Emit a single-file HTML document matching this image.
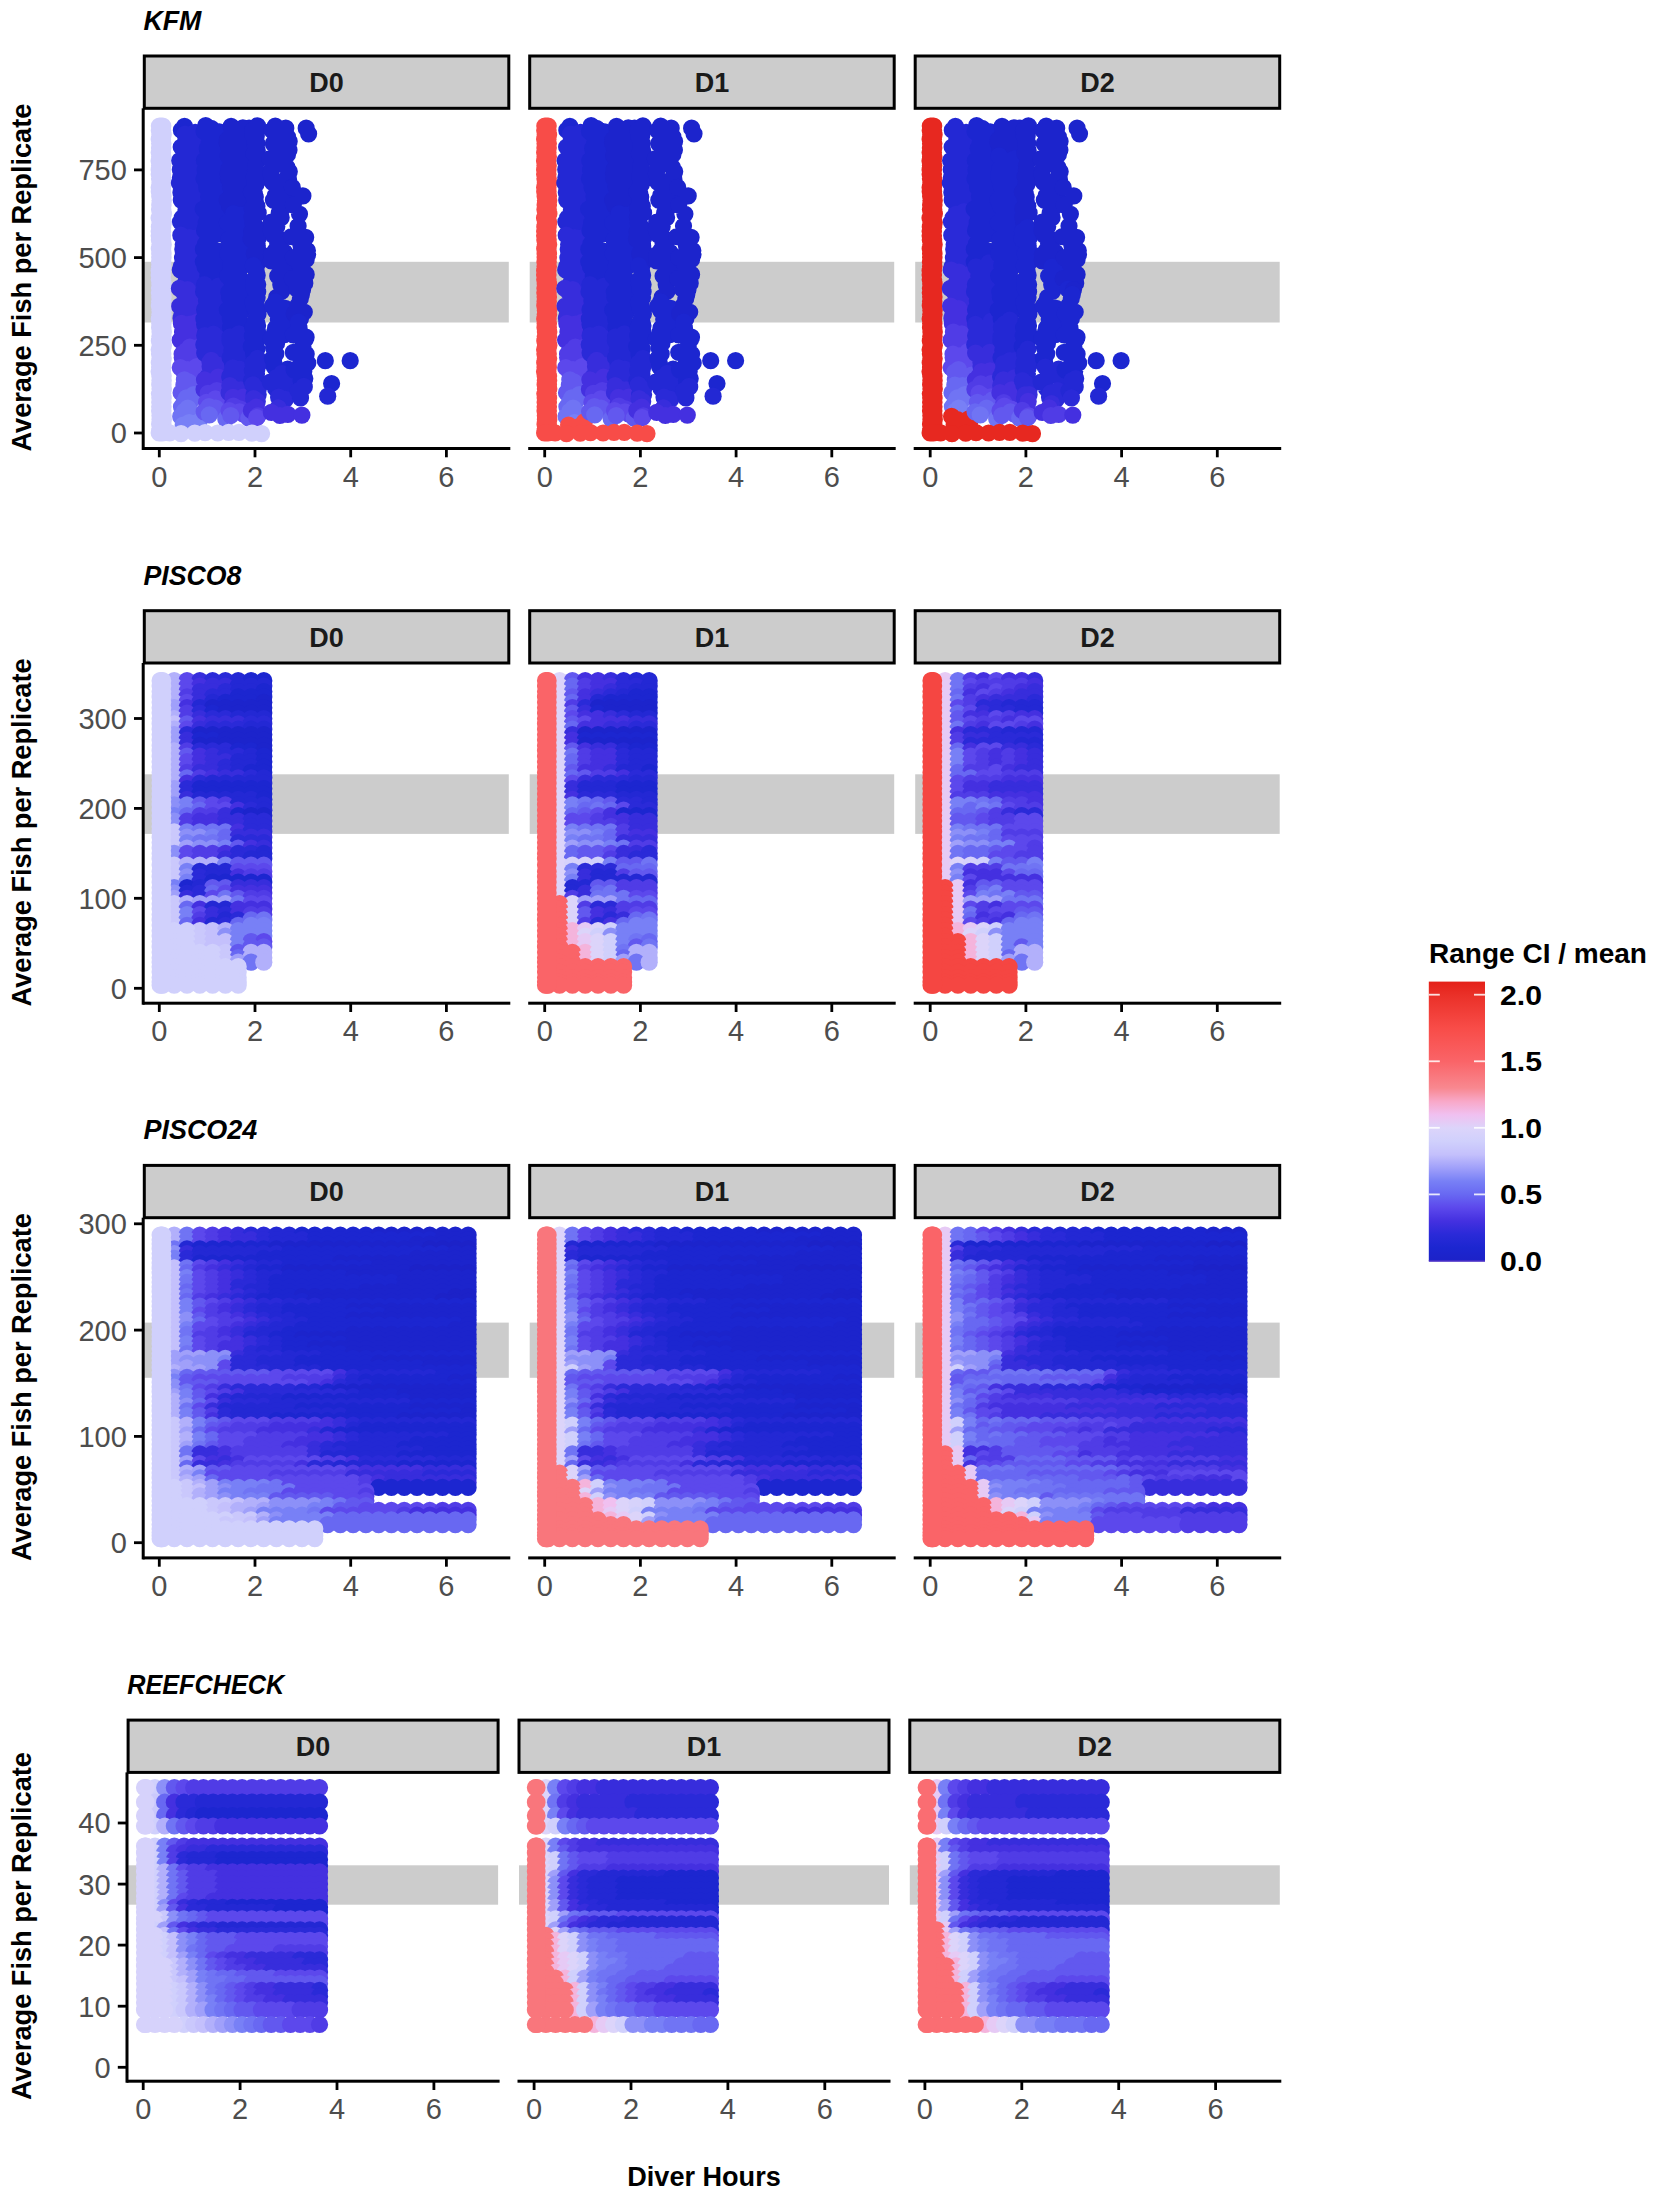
<!DOCTYPE html>
<html lang="en"><head><meta charset="utf-8"><title>Range CI / mean by Diver Hours</title>
<style>html,body{margin:0;padding:0;background:#fff}svg{display:block}text{font-family:"Liberation Sans", sans-serif}</style>
</head><body>
<svg width="1655" height="2198" viewBox="0 0 1655 2198">
<rect width="1655" height="2198" fill="#fff"/>
<rect x="144.3" y="261.8" width="364.5" height="60.7" fill="#cccccc"/>
<rect x="529.7" y="261.8" width="364.5" height="60.7" fill="#cccccc"/>
<rect x="915.2" y="261.8" width="364.5" height="60.7" fill="#cccccc"/>
<rect x="144.3" y="774.3" width="364.5" height="59.6" fill="#cccccc"/>
<rect x="529.7" y="774.3" width="364.5" height="59.6" fill="#cccccc"/>
<rect x="915.2" y="774.3" width="364.5" height="59.6" fill="#cccccc"/>
<rect x="144.3" y="1322.6" width="364.5" height="55.2" fill="#cccccc"/>
<rect x="529.7" y="1322.6" width="364.5" height="55.2" fill="#cccccc"/>
<rect x="915.2" y="1322.6" width="364.5" height="55.2" fill="#cccccc"/>
<rect x="128.1" y="1865.3" width="370" height="39.4" fill="#cccccc"/>
<rect x="519" y="1865.3" width="370" height="39.4" fill="#cccccc"/>
<rect x="909.8" y="1865.3" width="370" height="39.4" fill="#cccccc"/>
<g stroke-width="17.2" stroke-linecap="round" fill="none">
<path stroke="#d0d0fc" d="M159.4 126.1h3.4M159.3 130.4h3.4M159.8 134.8h3.4M159.2 139.2h3.4M159.6 143.6h3.4M159.5 148h3.4M159.2 152.4h3.4M159.6 156.7h3.4M159.1 161.1h3.4M159.5 165.5h3.4M159.2 169.9h3.4M159.2 174.3h3.4M159.5 178.7h3.4M159.9 183.1h3.4M159.2 187.4h3.4M159.3 191.8h3.4M159.7 196.2h3.4M160 200.6h3.4M159.7 205h3.4M159.5 209.4h3.4M160.1 213.8h3.4M159.1 218.1h3.4M160 222.5h3.4M159.4 226.9h3.4M159.2 231.3h3.4M159.2 235.7h3.4M159.4 240.1h3.4M159.9 244.4h3.4M159.3 248.8h3.4M159.7 253.2h3.4M159.7 257.6h3.4M159.5 262h3.4M159.6 266.4h3.4M159.2 270.8h3.4M159.2 275.1h3.4M159.3 279.5h3.4M159.8 283.9h3.4M159.5 288.3h3.4M159.4 292.7h3.4M159.7 297.1h3.4M159.6 301.4h3.4M159.4 305.8h3.4M159.9 310.2h3.4M159.8 314.6h3.4M159.3 319h3.4M159.7 323.4h3.4M159.6 327.8h3.4M160 332.1h3.4M159.8 336.5h3.4M159.4 340.9h3.4M160.1 345.3h3.4M159.2 349.7h3.4M159.5 354.1h3.4M159.9 358.5h3.4M159.3 362.8h3.4M159.6 367.2h3.4M159.1 371.6h3.4M159.8 376h3.4M159.9 380.4h3.4M159.7 384.8h3.4M160 389.1h3.4M159.4 393.5h3.4M159.8 397.9h3.4M159.7 402.3h3.4M159.7 406.7h3.4M159.6 411.1h3.4M159.9 415.5h3.4M160 419.8h3.4M159.6 424.2h3.4M159.8 428.6h3.4"/>
<path stroke="#1c26d0" d="M184.5 126.3h0M181.4 130.2h0M187.4 132.1h0"/>
<path stroke="#2328d4" d="M195.2 132.4h0M185 134.1h0M190.7 137.3h0M197.8 137.7h0M185.9 139.8h0M197.5 141.7h0M185.9 144.5h0M188.8 144.8h0M198.1 146.6h0M181.2 147h0M190.5 149.9h0M184.4 152.4h0M193.3 153.2h0M185.1 157.5h0M190.8 158.3h0M199.3 158.7h0M179.7 160.5h0M190.3 162h0M195.4 163.1h0M182 164.6h0M180.3 169.4h0M190.5 170.9h0M186.7 174.2h0M188 175.2h0M196.3 177.7h0M180.4 177.7h0M195.4 181.6h0M179.4 183.1h0M184.4 187h0M188.7 189.7h0M200.5 189.9h0M180.9 192.4h0M185.3 196.8h0M189.3 198h0M194.5 198.1h0M181.3 200.1h0M195.8 202.2h0M186.6 205.9h0M189.2 206.2h0M195.9 208h0M186 210h0M193.1 211.7h0M199.5 213h0M185.1 214.3h0M188.8 216.1h0M200.6 217.5h0M182.2 217.9h0M180.5 221.8h0M195.4 224.9h0M200.8 226.3h0M184.2 226.6h0M188.4 227.7h0M184.1 231.3h0M201.2 234.7h0"/>
<path stroke="#2a2ad8" d="M180.8 235.2h0M189.4 237.6h0M197.6 237.7h0M186.1 239.8h0M192.5 242.6h0M201.6 242.9h0M183.2 244.5h0M191.2 245.6h0M200.6 246.6h0M182.8 249.3h0M190.2 250.6h0M200.5 250.8h0M183.4 252.7h0M194.2 255h0M200.3 256.8h0M182.5 257.8h0M191.8 259.7h0M198.5 260.4h0M186.3 262.4h0M181.2 266.5h0M180.3 270h0M187.9 272h0M199.6 274.1h0M186 274.4h0M193.2 276.2h0M186.5 279h0M198.1 283.3h0M185.5 283.2h0M191.9 285.3h0M196.8 287.2h0"/>
<path stroke="#372ddc" d="M179.4 288.4h0M187.4 289.7h0M183.1 291.8h0M186.5 296.3h0M187.6 299.4h0M195.3 299.7h0M186.1 302.1h0M188.6 304h0M199.8 303.4h0M179.7 306.2h0M187.9 308.5h0M185.2 309.4h0M201.1 312.9h0M181.8 314.7h0M195.3 317.5h0M181 318.2h0M187.7 320.1h0"/>
<path stroke="#4430e0" d="M196.7 322.3h0M181.4 323.4h0M190.3 324.2h0M194.3 326.6h0M183.4 327.1h0M195.6 328.7h0M182.5 332.1h0M190.8 333.9h0M186.6 336.2h0M193.6 338.6h0M197 338.4h0M180.2 340.1h0M189.5 342h0M201 344.5h0M184.3 344.9h0"/>
<path stroke="#503ce6" d="M189.9 347h0M197.8 347.6h0M186.4 350.6h0M189.4 352.4h0M197.1 351.5h0M182.1 354h0M189 355.8h0M196.3 356.1h0M182.2 357.5h0M190 359.7h0M198.5 361.8h0M184.2 363.3h0"/>
<path stroke="#5c48ec" d="M196.8 366.6h0M180.3 367.7h0M187.6 369.6h0M183.9 372.1h0M188.5 373.4h0M200.9 375h0M185.4 376.2h0"/>
<path stroke="#6258ef" d="M184.4 379.8h0M188.4 381.9h0M200.9 383.3h0M183.9 385h0M191.6 385.5h0M184.8 389.2h0M193.2 390h0M181.1 392.7h0"/>
<path stroke="#6868f2" d="M193.8 394.7h0M186.5 397.9h0M191.5 400h0M183.9 402.6h0M188.6 403.6h0M181.5 406.8h0"/>
<path stroke="#7074f4" d="M187.8 408h0M184.4 411.4h0M191.9 412.8h0M195.2 414.7h0M180.7 416.4h0M197.9 418.9h0M186.5 419.7h0"/>
<path stroke="#7880f6" d="M189.1 422.5h0M198.9 421.9h0M183.2 425.1h0M194.6 426h0M184.5 428.1h0M194.4 430.4h0"/>
<path stroke="#1c26d0" d="M205.7 125.7h0M211.2 128.3h0M204.1 131.3h0M219.3 131.8h0M221.3 134.2h0M207.6 134.5h0M213.6 135.7h0M224.8 137.2h0M210.2 138.7h0M215.7 140.3h0M225.8 142.8h0M209.2 143.9h0M207.3 148.4h0M217.7 149.6h0M208 151.9h0M219.5 153.4h0M220.9 154.8h0M208.7 157.7h0M217.1 158.1h0M221.3 158.9h0M204.4 160.5h0M219.9 164.7h0M210.6 165.4h0M212.9 166.5h0M218.9 167.8h0M205.1 170h0M206.2 174.1h0M214.5 175.7h0M220.4 178h0M204.1 178.7h0M218.9 179.9h0M220.1 181.3h0M206.5 184h0M219 183.9h0M223.8 186.7h0M206.7 187.6h0M214.7 190h0M209.6 192.8h0M212.1 192.9h0M223.6 195.5h0M208.6 196.5h0M215.3 198.1h0M224.4 198.5h0M210 200.9h0M212.3 201.9h0M208.4 204.2h0M215.9 206.9h0M219.9 208h0M203.2 209h0M219.8 211.4h0M206.7 213.2h0M219.8 215.9h0M218.3 216.6h0M208.2 218h0M217.2 220.7h0M218.4 220.6h0M206.3 222.9h0M218.3 224.8h0M219.8 226.3h0M205.5 227.5h0M213.1 229.2h0M225.8 229.7h0M204.6 230.7h0M217.1 233.9h0M221.3 233.5h0M210.5 235h0M211.7 237.2h0M209.8 240.5h0M205.6 243.8h0M203.4 249.2h0M214.5 250.2h0M218.2 251.2h0M205.8 254.1h0M219.8 254.4h0M224.7 256.7h0M206.4 256.7h0M214.5 260.2h0M221.1 261.2h0M203.4 261.8h0M218.1 262.8h0M218.7 265.6h0M205.1 266.9h0M220.3 270.1h0M207.8 270.3h0M214 272.1h0M224.2 274.4h0M207.9 276h0M213.3 276.8h0M210.3 279.3h0M215 281.3h0"/>
<path stroke="#2328d4" d="M204.5 284.5h0M218.6 286.2h0M205.6 287.9h0M218.2 289.2h0M224.2 290.6h0M203.6 291.7h0M214.1 295.4h0M210.6 296.6h0M212 298.8h0M206.5 300.9h0M216.7 303.6h0M209.5 306.2h0M218.7 307.2h0M221.1 309.1h0M204.6 309.7h0M212.5 312.7h0M220.8 312.8h0M210.6 314.6h0M218.4 316.7h0M203.9 318.9h0M218.7 321.6h0M220.5 321h0M204.6 324.3h0M219.5 324.9h0M206.5 327.3h0M219.7 328.7h0M223.1 330h0M205.9 331.4h0"/>
<path stroke="#2a2ad8" d="M213.4 334.1h0M204.7 335.6h0M217.3 337.7h0M219.8 339.9h0M207.3 340h0M214.7 342.8h0M203.8 344.6h0M214.8 346.6h0M225.8 347.7h0M207.4 349.4h0M218.9 352.4h0M219.7 352.9h0M204.7 353.1h0M224.7 356.7h0M209.8 358.4h0"/>
<path stroke="#372ddc" d="M211.3 360.3h0M210 362h0M214.5 364.6h0M220.4 365.7h0M210.1 366.4h0M218.4 369.9h0M219.2 370.9h0M210.5 371.6h0M219.5 373.1h0M207.8 376.6h0"/>
<path stroke="#4430e0" d="M218.2 377.2h0M224.9 379.5h0M204.5 379.8h0M215.8 381.9h0M220.1 383.6h0M209.9 383.8h0M218 385.6h0M204 389.3h0"/>
<path stroke="#503ce6" d="M216.8 390.5h0M222.8 391.8h0M208.1 393.4h0M211.4 395.5h0M220 396.9h0M209 397.8h0"/>
<path stroke="#5c48ec" d="M215.4 398.9h0M221.6 399.9h0M206.5 402.3h0M216.9 403.2h0"/>
<path stroke="#6258ef" d="M209 406.7h0M215.7 408.2h0M204.2 411.8h0"/>
<path stroke="#6868f2" d="M209.3 414.8h0M225.8 419.1h0"/>
<path stroke="#1c24cc" d="M231.1 126.3h0M242.9 127.9h0M249.1 128.1h0M234.5 130.7h0M242.3 131.7h0M231.4 134.5h0M239.1 135.9h0M227.4 139.8h0M240.8 141.9h0M247.4 141.6h0M227.1 142.7h0M240.6 145.2h0M249.2 145.7h0M228.8 148.3h0M235.1 149.4h0M244.9 150.2h0M231.5 152.5h0M240.7 154.1h0M249.6 154.7h0M228.2 155.9h0M242.9 159.1h0M244.2 158.6h0M231.9 161.3h0M240.9 162.8h0M232.6 165h0M246.3 168.1h0M228.9 169h0M235.2 171.8h0M228.1 173.7h0M239.6 176.3h0M228.4 178.3h0M235.5 181.2h0M232.4 182.1h0M241.8 184.7h0M230.5 186.9h0M237.2 188.3h0M248.1 190.6h0M233.4 192.2h0M240.1 193.5h0M231 195.7h0M243.8 197.4h0M227.2 200.1h0M241.8 203.2h0M229.5 205.7h0M237.2 207.5h0M232.3 209.7h0"/>
<path stroke="#1c26d0" d="M248.8 212.6h0M233.5 213.6h0M240.2 215.1h0M247.1 215.7h0M233.9 217.4h0M236 220.7h0M243.2 220h0M227.4 222.9h0M241.3 224.7h0M246.8 225.1h0M233.2 227.5h0M249 230.5h0M234.2 230.5h0M236.1 232.1h0M233.2 235.9h0M240.8 237h0M242.9 239h0M228.6 239.7h0M235.3 241.3h0M247.8 242.6h0M229.5 245.4h0M242.7 246.4h0M245.4 247.1h0M232.9 248.5h0M239.9 250h0M227.8 253.9h0M235.1 254.4h0M234.4 256.6h0M239.5 259.9h0M246 260.1h0M233.3 261.5h0M243.8 265.2h0M230.8 265.6h0M235.8 268.7h0M233 271h0M238.7 272.3h0M227.7 275.9h0M236.9 276.4h0M230.8 279.3h0M245.8 282.4h0M232.7 284.4h0M238.2 285.3h0M248.8 287h0M232.6 287.6h0M242 290.2h0M245.8 291.9h0M228.9 292.1h0M241.4 295.1h0M243.3 295h0M229.5 297.1h0M238 298.2h0M232.5 300.7h0M245.1 305.2h0M233 306.3h0M236.8 307.9h0M243.7 308.4h0M227.3 310h0M241.3 312h0M230.5 313.9h0M238.7 316.8h0M230.3 319.1h0M238.9 320.2h0M233.7 323.9h0M242.7 325.5h0M230.5 327.4h0M236 329.4h0M232.4 332.4h0"/>
<path stroke="#2328d4" d="M238.9 333.8h0M230.1 336.9h0M247.3 339.9h0M230 340.9h0M246.4 343h0M232.9 346.2h0M236 347.2h0M247.8 348.1h0M231.9 350.3h0M238.8 352.3h0M247.5 352.3h0M232.8 353.3h0M242.5 356.4h0M230.1 357.5h0M238.9 360.6h0M244.2 360.7h0M232.6 363.7h0M237 365.2h0M243.8 364.9h0"/>
<path stroke="#2a2ad8" d="M232.9 367.8h0M239.3 369.1h0M249.8 369.7h0M231.9 372.2h0M239.3 373h0M243.1 375.1h0M229.7 376.7h0M238.5 377.3h0M243.6 377.8h0M232.5 379.9h0M237.8 382.1h0M247.2 383.5h0"/>
<path stroke="#372ddc" d="M229.8 385.6h0M248.7 388.4h0M233 388.4h0M240.8 389.9h0M249.7 392.3h0M229 392.7h0M237.2 395.8h0"/>
<path stroke="#4430e0" d="M243.3 397.1h0M233 397.3h0M232.9 402.6h0"/>
<path stroke="#503ce6" d="M233.4 406.1h0M239.9 408.9h0M249.1 409.6h0"/>
<path stroke="#5c48ec" d="M229.1 410.5h0M239.5 411.9h0M243.2 413.9h0"/>
<path stroke="#6258ef" d="M230.8 415.5h0M248.8 418.2h0"/>
<path stroke="#1c24cc" d="M257.5 125.8h0M256.4 128.3h0M252.6 130.3h0M256.5 132.8h0M253.2 135.5h0M256.3 136.1h0M254.8 140.2h0M256.9 143.3h0M255.3 145.5h0M255.8 148.5h0M257.3 150.5h0M255.1 151.5h0M254 153.5h0M257.9 157h0M256.9 161.9h0M255.6 165.8h0M255.5 170.3h0M257 171.6h0M256.7 173.5h0M254.2 176.6h0M257.9 179h0M257.7 181h0M255.2 182.6h0M255.9 184.4h0M254.2 187.7h0M251.4 192h0M254.5 194.2h0M255.3 197h0M254.1 197.7h0M255.4 201.5h0M254.6 204.8h0M256.9 206.2h0M252.1 208.4h0M257.1 210.4h0M258.2 212.9h0M252 217.2h0M252.8 223h0M254.2 224.8h0M256.4 227.6h0M251.6 231.5h0M254.5 236.5h0M258.3 237.9h0M251.1 239.1h0M257.1 243.6h0M257.3 245.5h0M257.5 248.8h0M255.7 250.7h0M254.3 253.6h0M257.6 254.7h0M255.8 257.9h0M255.7 259.9h0M258.1 262.6h0"/>
<path stroke="#1c26d0" d="M253.2 265.5h0M256.3 271.4h0M256.7 273.5h0M257.2 275.3h0M255.9 277.7h0M253.8 279.9h0M257.7 284.5h0M254 285.2h0M254.2 288.5h0M257.7 291.8h0M257.1 297.8h0M253.1 302.2h0M256.1 306.7h0M254.4 307.7h0M257 309.6h0M258 314.1h0M256.1 318.9h0M255.1 321.2h0M256.9 323.3h0M257.6 325.7h0M252.7 327.9h0M257.6 332.2h0M256.7 333.3h0M252.4 335.9h0M253.7 341h0M256.3 342h0M251.3 346.3h0M254.5 347.3h0M256.9 349h0M253.6 354.1h0M254.2 356.8h0"/>
<path stroke="#2328d4" d="M257.5 358.4h0M253 363.4h0M258.3 365.1h0M257.1 368.2h0M254.2 368.4h0M252.4 370.8h0M256.5 374.1h0M254.4 376.9h0M251.5 380.6h0M254.5 383.1h0"/>
<path stroke="#2a2ad8" d="M252.9 384.9h0M258.2 389.5h0M256 390.2h0M258.2 394.5h0M254.2 394.8h0"/>
<path stroke="#372ddc" d="M253.6 398.7h0M257.3 401.4h0"/>
<path stroke="#4430e0" d="M256.3 407h0M251.4 410.4h0"/>
<path stroke="#503ce6" d="M258 415.8h0"/>
<path stroke="#5c48ec" d="M256.7 417.7h0"/>
<path stroke="#1c24cc" d="M275.3 126.1h0M285.8 128.2h0M279.5 128.5h0M272.1 130.4h0M276.2 134.8h0M287.5 136.9h0M280.8 139.2h0M289.2 141.3h0M273.3 143.6h0M285.6 145.7h0M281.6 148h0M289 150.1h0M278.2 152.4h0M287.5 154.5h0M269.9 158.7h0M274.6 165h0M286.8 167.1h0M271.7 169.4h0M289.3 171.5h0M271 173.8h0M288.2 175.9h0M272.2 178.1h0M288.6 180.2h0M272.6 182.5h0M289.1 184.6h0M281.8 186.9h0M280.9 191.3h0M275.2 195.7h0M273.4 200.1h0M289.7 202.2h0M279.1 204.5h0M282 208.8h0M279.2 213.2h0M281.2 217.6h0M271.3 222h0M276.8 226.4h0M271.1 230.8h0M273.2 235.1h0M282 239.5h0M277.7 243.9h0M275.7 250.2h0M284.6 252.3h0M271.5 254.6h0M271.4 260.9h0M290.1 263h0M281.1 267.2h0M287.9 269.4h0M280.7 271.6h0M277.7 276h0M282.2 280.4h0M280.8 284.8h0M281.8 291.1h0M276.7 297.4h0"/>
<path stroke="#1c26d0" d="M275.4 301.8h0M272.4 306.2h0M285.3 308.3h0M275.4 310.6h0M290.9 312.7h0M280.4 315h0M278.3 319.3h0M288.7 321.4h0M280.4 323.7h0M284.6 325.8h0M275.6 328.1h0M274.4 332.5h0M284.3 334.6h0M271 338.8h0M276.6 343.2h0M273.5 347.6h0M275.8 353.9h0M272.5 358.3h0M273.9 362.7h0M274.3 367h0M287.7 369.2h0"/>
<path stroke="#2328d4" d="M281.9 373.4h0M290.6 375.5h0M276.3 377.7h0M290.8 379.9h0M270.2 382.1h0M275.6 388.4h0M286.6 390.6h0M279.8 392.8h0"/>
<path stroke="#2a2ad8" d="M278.6 397.2h0M285.3 399.3h0M280.6 403.5h0"/>
<path stroke="#372ddc" d="M278.1 407.9h0"/>
<path stroke="#4430e0" d="M271.3 412.3h0M287.8 414.4h0M279.9 415.5h0"/>
<path stroke="#1c24cc" d="M306.2 128.2h0M308.6 133.8h0M292.3 187.4h0M302.9 195.9h0M293.3 205h0M299.5 214.1h0M298.1 226h0M291.4 236.6h0M305.7 237.3h0M300.9 245.3h0M307.4 250.6h0M307.6 254.4h0M293.3 257.6h0M306.2 259.4h0M299.5 264.6h0M305.2 273.7h0M306.2 274.4h0M292.3 278.6h0M304.8 283.2h0M302.9 284.3h0M297.1 289.2h0M302.6 289.5h0M301.4 294.4h0M300.4 298.3h0M298.1 305h0M304.3 312h0M300.2 313.4h0M294.2 313.7h0M300.5 318.6h0"/>
<path stroke="#1c26d0" d="M298.4 322.1h0M299 327.8h0M299.4 330.9h0M293.3 334.8h0M306.1 337.2h0M305.2 339.3h0M302.9 346.7h0M299.7 350.4h0M293.3 352.3h0M306.2 354.1h0M302.8 356.7h0M300.9 362.8h0M307.8 363h0M294.2 369.9h0M303.8 371.3h0M304.8 378.6h0M301.1 380.6h0"/>
<path stroke="#2328d4" d="M303.8 386.3h0M304.3 386.9h0M298.1 390.9h0M300.5 397.9h0"/>
<path stroke="#4430e0" d="M301.9 415.1h0"/>
<path stroke="#1c26d0" d="M325.3 360.7h0M331.6 383.5h0"/>
<path stroke="#2328d4" d="M327.7 396.2h0"/>
<path stroke="#1c26d0" d="M350.2 360.7h0"/>
<path stroke="#d0d0fc" d="M159.2 433h3.4M169.7 432.9h0M181.1 433.7h0M194.8 433.2h0M205.1 432.7h0M217.7 433h0M228.6 432.4h0M238.9 432.3h0M251.8 433.1h0M261.6 433.6h0"/>
</g>
<g stroke-width="17.2" stroke-linecap="round" fill="none">
<path stroke="#f84c48" d="M544.8 126.1h3.4M544.7 130.4h3.4M545.2 134.8h3.4M544.6 139.2h3.4M545 143.6h3.4M544.9 148h3.4M544.6 152.4h3.4M545 156.7h3.4M544.5 161.1h3.4M544.9 165.5h3.4M544.6 169.9h3.4M544.6 174.3h3.4M544.9 178.7h3.4M545.3 183.1h3.4M544.6 187.4h3.4M544.7 191.8h3.4M545.1 196.2h3.4M545.4 200.6h3.4M545.1 205h3.4M544.9 209.4h3.4M545.5 213.8h3.4M544.5 218.1h3.4M545.4 222.5h3.4M544.8 226.9h3.4M544.6 231.3h3.4M544.6 235.7h3.4M544.8 240.1h3.4M545.3 244.4h3.4M544.7 248.8h3.4M545.1 253.2h3.4M545.1 257.6h3.4M544.9 262h3.4M545 266.4h3.4M544.6 270.8h3.4M544.6 275.1h3.4M544.7 279.5h3.4M545.2 283.9h3.4M544.9 288.3h3.4M544.8 292.7h3.4M545.1 297.1h3.4M545 301.4h3.4M544.8 305.8h3.4M545.3 310.2h3.4M545.2 314.6h3.4M544.7 319h3.4M545.1 323.4h3.4M545 327.8h3.4M545.4 332.1h3.4M545.2 336.5h3.4M544.8 340.9h3.4M545.5 345.3h3.4M544.6 349.7h3.4M544.9 354.1h3.4M545.3 358.5h3.4M544.7 362.8h3.4M545 367.2h3.4M544.5 371.6h3.4M545.2 376h3.4M545.3 380.4h3.4M545.1 384.8h3.4M545.4 389.1h3.4M544.8 393.5h3.4M545.2 397.9h3.4M545.1 402.3h3.4M545.1 406.7h3.4M545 411.1h3.4M545.3 415.5h3.4M545.4 419.8h3.4M545 424.2h3.4M545.2 428.6h3.4"/>
<path stroke="#1c26d0" d="M569.9 126.3h0M566.8 130.2h0M572.8 132.1h0"/>
<path stroke="#2328d4" d="M580.6 132.4h0M570.4 134.1h0M576.1 137.3h0M583.2 137.7h0M571.3 139.8h0M582.9 141.7h0M571.3 144.5h0M574.2 144.8h0M583.5 146.6h0M566.6 147h0M575.9 149.9h0M569.8 152.4h0M578.7 153.2h0M570.5 157.5h0M576.2 158.3h0M584.7 158.7h0M565.1 160.5h0M575.7 162h0M580.8 163.1h0M567.4 164.6h0M565.7 169.4h0M575.9 170.9h0M572.1 174.2h0M573.4 175.2h0M581.7 177.7h0M565.8 177.7h0M580.8 181.6h0M564.8 183.1h0M569.8 187h0M574.1 189.7h0M585.9 189.9h0M566.3 192.4h0M570.7 196.8h0M574.7 198h0M579.9 198.1h0M566.7 200.1h0M581.2 202.2h0M572 205.9h0M574.6 206.2h0M581.3 208h0M571.4 210h0M578.5 211.7h0M584.9 213h0M570.5 214.3h0M574.2 216.1h0M586 217.5h0M567.6 217.9h0M565.9 221.8h0M580.8 224.9h0M586.2 226.3h0M569.6 226.6h0M573.8 227.7h0M569.5 231.3h0M586.6 234.7h0"/>
<path stroke="#2a2ad8" d="M566.2 235.2h0M574.8 237.6h0M583 237.7h0M571.5 239.8h0M577.9 242.6h0M587 242.9h0M568.6 244.5h0M576.6 245.6h0M586 246.6h0M568.2 249.3h0M575.6 250.6h0M585.9 250.8h0M568.8 252.7h0M579.6 255h0M585.7 256.8h0M567.9 257.8h0M577.2 259.7h0M583.9 260.4h0M571.7 262.4h0M566.6 266.5h0M565.7 270h0M573.3 272h0M585 274.1h0M571.4 274.4h0M578.6 276.2h0M571.9 279h0M583.5 283.3h0M570.9 283.2h0M577.3 285.3h0M582.2 287.2h0"/>
<path stroke="#372ddc" d="M564.8 288.4h0M572.8 289.7h0M568.5 291.8h0M571.9 296.3h0M573 299.4h0M580.7 299.7h0M571.5 302.1h0M574 304h0M585.2 303.4h0M565.1 306.2h0M573.3 308.5h0M570.6 309.4h0M586.5 312.9h0M567.2 314.7h0M580.7 317.5h0M566.4 318.2h0M573.1 320.1h0"/>
<path stroke="#4430e0" d="M582.1 322.3h0M566.8 323.4h0M575.7 324.2h0M579.7 326.6h0M568.8 327.1h0M581 328.7h0M567.9 332.1h0M576.2 333.9h0M572 336.2h0M579 338.6h0M582.4 338.4h0M565.6 340.1h0M574.9 342h0M586.4 344.5h0M569.7 344.9h0"/>
<path stroke="#503ce6" d="M575.3 347h0M583.2 347.6h0M571.8 350.6h0M574.8 352.4h0M582.5 351.5h0M567.5 354h0M574.4 355.8h0M581.7 356.1h0M567.6 357.5h0M575.4 359.7h0M583.9 361.8h0M569.6 363.3h0"/>
<path stroke="#5c48ec" d="M582.2 366.6h0M565.7 367.7h0M573 369.6h0M569.3 372.1h0M573.9 373.4h0M586.3 375h0M570.8 376.2h0"/>
<path stroke="#6258ef" d="M569.8 379.8h0M573.8 381.9h0M586.3 383.3h0M569.3 385h0M577 385.5h0M570.2 389.2h0M578.6 390h0M566.5 392.7h0"/>
<path stroke="#6868f2" d="M579.2 394.7h0M571.9 397.9h0M576.9 400h0M569.3 402.6h0M574 403.6h0M566.9 406.8h0"/>
<path stroke="#7074f4" d="M573.2 408h0M569.8 411.4h0M577.3 412.8h0M580.6 414.7h0M566.1 416.4h0M583.3 418.9h0M571.9 419.7h0"/>
<path stroke="#7880f6" d="M574.5 422.5h0"/>
<path stroke="#f84c48" d="M584.3 421.9h0M568.6 425.1h0M580 426h0M569.9 428.1h0M579.8 430.4h0"/>
<path stroke="#1c26d0" d="M591.1 125.7h0M596.6 128.3h0M589.5 131.3h0M604.7 131.8h0M606.7 134.2h0M593 134.5h0M599 135.7h0M610.2 137.2h0M595.6 138.7h0M601.1 140.3h0M611.2 142.8h0M594.6 143.9h0M592.7 148.4h0M603.1 149.6h0M593.4 151.9h0M604.9 153.4h0M606.3 154.8h0M594.1 157.7h0M602.5 158.1h0M606.7 158.9h0M589.8 160.5h0M605.3 164.7h0M596 165.4h0M598.3 166.5h0M604.3 167.8h0M590.5 170h0M591.6 174.1h0M599.9 175.7h0M605.8 178h0M589.5 178.7h0M604.3 179.9h0M605.5 181.3h0M591.9 184h0M604.4 183.9h0M609.2 186.7h0M592.1 187.6h0M600.1 190h0M595 192.8h0M597.5 192.9h0M609 195.5h0M594 196.5h0M600.7 198.1h0M609.8 198.5h0M595.4 200.9h0M597.7 201.9h0M593.8 204.2h0M601.3 206.9h0M605.3 208h0M588.6 209h0M605.2 211.4h0M592.1 213.2h0M605.2 215.9h0M603.7 216.6h0M593.6 218h0M602.6 220.7h0M603.8 220.6h0M591.7 222.9h0M603.7 224.8h0M605.2 226.3h0M590.9 227.5h0M598.5 229.2h0M611.2 229.7h0M590 230.7h0M602.5 233.9h0M606.7 233.5h0M595.9 235h0M597.1 237.2h0M595.2 240.5h0M591 243.8h0M588.8 249.2h0M599.9 250.2h0M603.6 251.2h0M591.2 254.1h0M605.2 254.4h0M610.1 256.7h0M591.8 256.7h0M599.9 260.2h0M606.5 261.2h0M588.8 261.8h0M603.5 262.8h0M604.1 265.6h0M590.5 266.9h0M605.7 270.1h0M593.2 270.3h0M599.4 272.1h0M609.6 274.4h0M593.3 276h0M598.7 276.8h0M595.7 279.3h0M600.4 281.3h0"/>
<path stroke="#2328d4" d="M589.9 284.5h0M604 286.2h0M591 287.9h0M603.6 289.2h0M609.6 290.6h0M589 291.7h0M599.5 295.4h0M596 296.6h0M597.4 298.8h0M591.9 300.9h0M602.1 303.6h0M594.9 306.2h0M604.1 307.2h0M606.5 309.1h0M590 309.7h0M597.9 312.7h0M606.2 312.8h0M596 314.6h0M603.8 316.7h0M589.3 318.9h0M604.1 321.6h0M605.9 321h0M590 324.3h0M604.9 324.9h0M591.9 327.3h0M605.1 328.7h0M608.5 330h0M591.3 331.4h0"/>
<path stroke="#2a2ad8" d="M598.8 334.1h0M590.1 335.6h0M602.7 337.7h0M605.2 339.9h0M592.7 340h0M600.1 342.8h0M589.2 344.6h0M600.2 346.6h0M611.2 347.7h0M592.8 349.4h0M604.3 352.4h0M605.1 352.9h0M590.1 353.1h0M610.1 356.7h0M595.2 358.4h0"/>
<path stroke="#372ddc" d="M596.7 360.3h0M595.4 362h0M599.9 364.6h0M605.8 365.7h0M595.5 366.4h0M603.8 369.9h0M604.6 370.9h0M595.9 371.6h0M604.9 373.1h0M593.2 376.6h0"/>
<path stroke="#4430e0" d="M603.6 377.2h0M610.3 379.5h0M589.9 379.8h0M601.2 381.9h0M605.5 383.6h0M595.3 383.8h0M603.4 385.6h0M589.4 389.3h0"/>
<path stroke="#503ce6" d="M602.2 390.5h0M608.2 391.8h0M593.5 393.4h0M596.8 395.5h0M605.4 396.9h0M594.4 397.8h0"/>
<path stroke="#5c48ec" d="M600.8 398.9h0M607 399.9h0M591.9 402.3h0M602.3 403.2h0"/>
<path stroke="#6258ef" d="M594.4 406.7h0M601.1 408.2h0M589.6 411.8h0"/>
<path stroke="#6868f2" d="M594.7 414.8h0M611.2 419.1h0"/>
<path stroke="#1c24cc" d="M616.5 126.3h0M628.3 127.9h0M634.5 128.1h0M619.9 130.7h0M627.7 131.7h0M616.8 134.5h0M624.5 135.9h0M612.8 139.8h0M626.2 141.9h0M632.8 141.6h0M612.5 142.7h0M626 145.2h0M634.6 145.7h0M614.2 148.3h0M620.5 149.4h0M630.3 150.2h0M616.9 152.5h0M626.1 154.1h0M635 154.7h0M613.6 155.9h0M628.3 159.1h0M629.6 158.6h0M617.3 161.3h0M626.3 162.8h0M618 165h0M631.7 168.1h0M614.3 169h0M620.6 171.8h0M613.5 173.7h0M625 176.3h0M613.8 178.3h0M620.9 181.2h0M617.8 182.1h0M627.2 184.7h0M615.9 186.9h0M622.6 188.3h0M633.5 190.6h0M618.8 192.2h0M625.5 193.5h0M616.4 195.7h0M629.2 197.4h0M612.6 200.1h0M627.2 203.2h0M614.9 205.7h0M622.6 207.5h0M617.7 209.7h0"/>
<path stroke="#1c26d0" d="M634.2 212.6h0M618.9 213.6h0M625.6 215.1h0M632.5 215.7h0M619.3 217.4h0M621.4 220.7h0M628.6 220h0M612.8 222.9h0M626.7 224.7h0M632.2 225.1h0M618.6 227.5h0M634.4 230.5h0M619.6 230.5h0M621.5 232.1h0M618.6 235.9h0M626.2 237h0M628.3 239h0M614 239.7h0M620.7 241.3h0M633.2 242.6h0M614.9 245.4h0M628.1 246.4h0M630.8 247.1h0M618.3 248.5h0M625.3 250h0M613.2 253.9h0M620.5 254.4h0M619.8 256.6h0M624.9 259.9h0M631.4 260.1h0M618.7 261.5h0M629.2 265.2h0M616.2 265.6h0M621.2 268.7h0M618.4 271h0M624.1 272.3h0M613.1 275.9h0M622.3 276.4h0M616.2 279.3h0M631.2 282.4h0M618.1 284.4h0M623.6 285.3h0M634.2 287h0M618 287.6h0M627.4 290.2h0M631.2 291.9h0M614.3 292.1h0M626.8 295.1h0M628.7 295h0M614.9 297.1h0M623.4 298.2h0M617.9 300.7h0M630.5 305.2h0M618.4 306.3h0M622.2 307.9h0M629.1 308.4h0M612.7 310h0M626.7 312h0M615.9 313.9h0M624.1 316.8h0M615.7 319.1h0M624.3 320.2h0M619.1 323.9h0M628.1 325.5h0M615.9 327.4h0M621.4 329.4h0M617.8 332.4h0"/>
<path stroke="#2328d4" d="M624.3 333.8h0M615.5 336.9h0M632.7 339.9h0M615.4 340.9h0M631.8 343h0M618.3 346.2h0M621.4 347.2h0M633.2 348.1h0M617.3 350.3h0M624.2 352.3h0M632.9 352.3h0M618.2 353.3h0M627.9 356.4h0M615.5 357.5h0M624.3 360.6h0M629.6 360.7h0M618 363.7h0M622.4 365.2h0M629.2 364.9h0"/>
<path stroke="#2a2ad8" d="M618.3 367.8h0M624.7 369.1h0M635.2 369.7h0M617.3 372.2h0M624.7 373h0M628.5 375.1h0M615.1 376.7h0M623.9 377.3h0M629 377.8h0M617.9 379.9h0M623.2 382.1h0M632.6 383.5h0"/>
<path stroke="#372ddc" d="M615.2 385.6h0M634.1 388.4h0M618.4 388.4h0M626.2 389.9h0M635.1 392.3h0M614.4 392.7h0M622.6 395.8h0"/>
<path stroke="#4430e0" d="M628.7 397.1h0M618.4 397.3h0M618.3 402.6h0"/>
<path stroke="#503ce6" d="M618.8 406.1h0M625.3 408.9h0M634.5 409.6h0"/>
<path stroke="#5c48ec" d="M614.5 410.5h0M624.9 411.9h0M628.6 413.9h0"/>
<path stroke="#6258ef" d="M616.2 415.5h0M634.2 418.2h0"/>
<path stroke="#1c24cc" d="M642.9 125.8h0M641.8 128.3h0M638 130.3h0M641.9 132.8h0M638.6 135.5h0M641.7 136.1h0M640.2 140.2h0M642.3 143.3h0M640.7 145.5h0M641.2 148.5h0M642.7 150.5h0M640.5 151.5h0M639.4 153.5h0M643.3 157h0M642.3 161.9h0M641 165.8h0M640.9 170.3h0M642.4 171.6h0M642.1 173.5h0M639.6 176.6h0M643.3 179h0M643.1 181h0M640.6 182.6h0M641.3 184.4h0M639.6 187.7h0M636.8 192h0M639.9 194.2h0M640.7 197h0M639.5 197.7h0M640.8 201.5h0M640 204.8h0M642.3 206.2h0M637.5 208.4h0M642.5 210.4h0M643.6 212.9h0M637.4 217.2h0M638.2 223h0M639.6 224.8h0M641.8 227.6h0M637 231.5h0M639.9 236.5h0M643.7 237.9h0M636.5 239.1h0M642.5 243.6h0M642.7 245.5h0M642.9 248.8h0M641.1 250.7h0M639.7 253.6h0M643 254.7h0M641.2 257.9h0M641.1 259.9h0M643.5 262.6h0"/>
<path stroke="#1c26d0" d="M638.6 265.5h0M641.7 271.4h0M642.1 273.5h0M642.6 275.3h0M641.3 277.7h0M639.2 279.9h0M643.1 284.5h0M639.4 285.2h0M639.6 288.5h0M643.1 291.8h0M642.5 297.8h0M638.5 302.2h0M641.5 306.7h0M639.8 307.7h0M642.4 309.6h0M643.4 314.1h0M641.5 318.9h0M640.5 321.2h0M642.3 323.3h0M643 325.7h0M638.1 327.9h0M643 332.2h0M642.1 333.3h0M637.8 335.9h0M639.1 341h0M641.7 342h0M636.7 346.3h0M639.9 347.3h0M642.3 349h0M639 354.1h0M639.6 356.8h0"/>
<path stroke="#2328d4" d="M642.9 358.4h0M638.4 363.4h0M643.7 365.1h0M642.5 368.2h0M639.6 368.4h0M637.8 370.8h0M641.9 374.1h0M639.8 376.9h0M636.9 380.6h0M639.9 383.1h0"/>
<path stroke="#2a2ad8" d="M638.3 384.9h0M643.6 389.5h0M641.4 390.2h0M643.6 394.5h0M639.6 394.8h0"/>
<path stroke="#372ddc" d="M639 398.7h0M642.7 401.4h0"/>
<path stroke="#4430e0" d="M641.7 407h0M636.8 410.4h0"/>
<path stroke="#503ce6" d="M643.4 415.8h0"/>
<path stroke="#5c48ec" d="M642.1 417.7h0"/>
<path stroke="#1c24cc" d="M660.7 126.1h0M671.2 128.2h0M664.9 128.5h0M657.5 130.4h0M661.6 134.8h0M672.9 136.9h0M666.2 139.2h0M674.6 141.3h0M658.7 143.6h0M671 145.7h0M667 148h0M674.4 150.1h0M663.6 152.4h0M672.9 154.5h0M655.3 158.7h0M660 165h0M672.2 167.1h0M657.1 169.4h0M674.7 171.5h0M656.4 173.8h0M673.6 175.9h0M657.6 178.1h0M674 180.2h0M658 182.5h0M674.5 184.6h0M667.2 186.9h0M666.3 191.3h0M660.6 195.7h0M658.8 200.1h0M675.1 202.2h0M664.5 204.5h0M667.4 208.8h0M664.6 213.2h0M666.6 217.6h0M656.7 222h0M662.2 226.4h0M656.5 230.8h0M658.6 235.1h0M667.4 239.5h0M663.1 243.9h0M661.1 250.2h0M670 252.3h0M656.9 254.6h0M656.8 260.9h0M675.5 263h0M666.5 267.2h0M673.3 269.4h0M666.1 271.6h0M663.1 276h0M667.6 280.4h0M666.2 284.8h0M667.2 291.1h0M662.1 297.4h0"/>
<path stroke="#1c26d0" d="M660.8 301.8h0M657.8 306.2h0M670.7 308.3h0M660.8 310.6h0M676.3 312.7h0M665.8 315h0M663.7 319.3h0M674.1 321.4h0M665.8 323.7h0M670 325.8h0M661 328.1h0M659.8 332.5h0M669.7 334.6h0M656.4 338.8h0M662 343.2h0M658.9 347.6h0M661.2 353.9h0M657.9 358.3h0M659.3 362.7h0M659.7 367h0M673.1 369.2h0"/>
<path stroke="#2328d4" d="M667.3 373.4h0M676 375.5h0M661.7 377.7h0M676.2 379.9h0M655.6 382.1h0M661 388.4h0M672 390.6h0M665.2 392.8h0"/>
<path stroke="#2a2ad8" d="M664 397.2h0M670.7 399.3h0M666 403.5h0"/>
<path stroke="#372ddc" d="M663.5 407.9h0"/>
<path stroke="#4430e0" d="M656.7 412.3h0M673.2 414.4h0M665.3 415.5h0"/>
<path stroke="#1c24cc" d="M691.6 128.2h0M694 133.8h0M677.7 187.4h0M688.2 195.9h0M678.7 205h0M684.9 214.1h0M683.5 226h0M676.8 236.6h0M691.1 237.3h0M686.3 245.3h0M692.8 250.6h0M693 254.4h0M678.7 257.6h0M691.6 259.4h0M684.9 264.6h0M690.6 273.7h0M691.6 274.4h0M677.7 278.6h0M690.2 283.2h0M688.2 284.3h0M682.5 289.2h0M688 289.5h0M686.8 294.4h0M685.8 298.3h0M683.5 305h0M689.7 312h0M685.6 313.4h0M679.6 313.7h0M685.9 318.6h0"/>
<path stroke="#1c26d0" d="M683.8 322.1h0M684.4 327.8h0M684.8 330.9h0M678.7 334.8h0M691.5 337.2h0M690.6 339.3h0M688.2 346.7h0M685.1 350.4h0M678.7 352.3h0M691.6 354.1h0M688.2 356.7h0M686.3 362.8h0M693.2 363h0M679.6 369.9h0M689.2 371.3h0M690.2 378.6h0M686.5 380.6h0"/>
<path stroke="#2328d4" d="M689.2 386.3h0M689.7 386.9h0M683.5 390.9h0M685.9 397.9h0"/>
<path stroke="#4430e0" d="M687.3 415.1h0"/>
<path stroke="#1c26d0" d="M710.7 360.7h0M717 383.5h0"/>
<path stroke="#2328d4" d="M713.1 396.2h0"/>
<path stroke="#1c26d0" d="M735.6 360.7h0"/>
<path stroke="#f84c48" d="M544.6 433h3.4M555.1 432.9h0M566.5 433.7h0M580.2 433.2h0M590.5 432.7h0M603.1 433h0M614 432.4h0M624.3 432.3h0M637.2 433.1h0M647 433.6h0"/>
</g>
<g stroke-width="17.2" stroke-linecap="round" fill="none">
<path stroke="#e72820" d="M930.3 126.1h3.4M930.2 130.4h3.4M930.7 134.8h3.4M930.1 139.2h3.4M930.5 143.6h3.4M930.4 148h3.4M930.1 152.4h3.4M930.5 156.7h3.4M930 161.1h3.4M930.4 165.5h3.4M930.1 169.9h3.4M930.1 174.3h3.4M930.4 178.7h3.4M930.8 183.1h3.4M930.1 187.4h3.4M930.2 191.8h3.4M930.6 196.2h3.4M930.9 200.6h3.4M930.6 205h3.4M930.4 209.4h3.4M931 213.8h3.4M930 218.1h3.4M930.9 222.5h3.4M930.3 226.9h3.4M930.1 231.3h3.4M930.1 235.7h3.4M930.3 240.1h3.4M930.8 244.4h3.4M930.2 248.8h3.4M930.6 253.2h3.4M930.6 257.6h3.4M930.4 262h3.4M930.5 266.4h3.4M930.1 270.8h3.4M930.1 275.1h3.4M930.2 279.5h3.4M930.7 283.9h3.4M930.4 288.3h3.4M930.3 292.7h3.4M930.6 297.1h3.4M930.5 301.4h3.4M930.3 305.8h3.4M930.8 310.2h3.4M930.7 314.6h3.4M930.2 319h3.4M930.6 323.4h3.4M930.5 327.8h3.4M930.9 332.1h3.4M930.7 336.5h3.4M930.3 340.9h3.4M931 345.3h3.4M930.1 349.7h3.4M930.4 354.1h3.4M930.8 358.5h3.4M930.2 362.8h3.4M930.5 367.2h3.4M930 371.6h3.4M930.7 376h3.4M930.8 380.4h3.4M930.6 384.8h3.4M930.9 389.1h3.4M930.3 393.5h3.4M930.7 397.9h3.4M930.6 402.3h3.4M930.6 406.7h3.4M930.5 411.1h3.4M930.8 415.5h3.4M930.9 419.8h3.4M930.5 424.2h3.4M930.7 428.6h3.4"/>
<path stroke="#2328d4" d="M955.4 126.3h0M952.3 130.2h0M958.3 132.1h0M966.1 132.4h0M955.9 134.1h0M961.6 137.3h0M968.7 137.7h0M956.8 139.8h0M968.4 141.7h0M956.8 144.5h0M959.7 144.8h0M969 146.6h0M952.1 147h0M961.4 149.9h0M955.3 152.4h0M964.2 153.2h0M956 157.5h0M961.7 158.3h0M970.2 158.7h0M950.6 160.5h0M961.2 162h0M966.3 163.1h0M952.9 164.6h0M951.2 169.4h0M961.4 170.9h0M957.6 174.2h0M958.9 175.2h0M967.2 177.7h0M951.3 177.7h0M966.3 181.6h0M950.3 183.1h0M955.3 187h0M959.6 189.7h0M971.4 189.9h0M951.8 192.4h0M956.2 196.8h0M960.2 198h0M965.4 198.1h0M952.2 200.1h0M966.7 202.2h0M957.5 205.9h0M960.1 206.2h0M966.8 208h0M956.9 210h0"/>
<path stroke="#2a2ad8" d="M964 211.7h0M970.4 213h0M956 214.3h0M959.7 216.1h0M971.5 217.5h0M953.1 217.9h0M951.4 221.8h0M966.3 224.9h0M971.7 226.3h0M955.1 226.6h0M959.3 227.7h0M955 231.3h0M972.1 234.7h0M951.7 235.2h0M960.3 237.6h0M968.5 237.7h0M957 239.8h0M963.4 242.6h0M972.5 242.9h0M954.1 244.5h0M962.1 245.6h0M971.5 246.6h0M953.7 249.3h0M961.1 250.6h0M971.4 250.8h0M954.3 252.7h0M965.1 255h0M971.2 256.8h0M953.4 257.8h0M962.7 259.7h0M969.4 260.4h0M957.2 262.4h0M952.1 266.5h0"/>
<path stroke="#372ddc" d="M951.2 270h0M958.8 272h0M970.5 274.1h0M956.9 274.4h0M964.1 276.2h0M957.4 279h0M969 283.3h0M956.4 283.2h0M962.8 285.3h0M967.7 287.2h0M950.3 288.4h0M958.3 289.7h0M954 291.8h0M957.4 296.3h0M958.5 299.4h0M966.2 299.7h0M957 302.1h0M959.5 304h0M970.7 303.4h0"/>
<path stroke="#4430e0" d="M950.6 306.2h0M958.8 308.5h0M956.1 309.4h0M972 312.9h0M952.7 314.7h0M966.2 317.5h0M951.9 318.2h0M958.6 320.1h0M967.6 322.3h0M952.3 323.4h0M961.2 324.2h0M965.2 326.6h0M954.3 327.1h0M966.5 328.7h0"/>
<path stroke="#503ce6" d="M953.4 332.1h0M961.7 333.9h0M957.5 336.2h0M964.5 338.6h0M967.9 338.4h0M951.1 340.1h0M960.4 342h0M971.9 344.5h0M955.2 344.9h0M960.8 347h0M968.7 347.6h0M957.3 350.6h0M960.3 352.4h0"/>
<path stroke="#5c48ec" d="M968 351.5h0M953 354h0M959.9 355.8h0M967.2 356.1h0M953.1 357.5h0M960.9 359.7h0M969.4 361.8h0M955.1 363.3h0M967.7 366.6h0M951.2 367.7h0"/>
<path stroke="#6258ef" d="M958.5 369.6h0M954.8 372.1h0M959.4 373.4h0M971.8 375h0M956.3 376.2h0M955.3 379.8h0M959.3 381.9h0"/>
<path stroke="#6868f2" d="M971.8 383.3h0M954.8 385h0M962.5 385.5h0M955.7 389.2h0M964.1 390h0M952 392.7h0"/>
<path stroke="#7074f4" d="M964.7 394.7h0M957.4 397.9h0M962.4 400h0M954.8 402.6h0M959.5 403.6h0M952.4 406.8h0"/>
<path stroke="#7880f6" d="M958.7 408h0M955.3 411.4h0M962.8 412.8h0M966.1 414.7h0"/>
<path stroke="#e72820" d="M951.6 416.4h0M968.8 418.9h0M957.4 419.7h0M960 422.5h0M969.8 421.9h0M954.1 425.1h0M965.5 426h0M955.4 428.1h0M965.3 430.4h0"/>
<path stroke="#1c26d0" d="M976.6 125.7h0M982.1 128.3h0M975 131.3h0M990.2 131.8h0M992.2 134.2h0M978.5 134.5h0M984.5 135.7h0M995.7 137.2h0M981.1 138.7h0M986.6 140.3h0M996.7 142.8h0M980.1 143.9h0M978.2 148.4h0M988.6 149.6h0M978.9 151.9h0M990.4 153.4h0M991.8 154.8h0M979.6 157.7h0M988 158.1h0M992.2 158.9h0M975.3 160.5h0M990.8 164.7h0M981.5 165.4h0M983.8 166.5h0M989.8 167.8h0M976 170h0M977.1 174.1h0M985.4 175.7h0M991.3 178h0M975 178.7h0M989.8 179.9h0M991 181.3h0M977.4 184h0M989.9 183.9h0M994.7 186.7h0M977.6 187.6h0M985.6 190h0M980.5 192.8h0M983 192.9h0M994.5 195.5h0M979.5 196.5h0M986.2 198.1h0M995.3 198.5h0M980.9 200.9h0M983.2 201.9h0M979.3 204.2h0M986.8 206.9h0M990.8 208h0M974.1 209h0M990.7 211.4h0M977.6 213.2h0M990.7 215.9h0M989.2 216.6h0M979.1 218h0M988.1 220.7h0M989.3 220.6h0M977.2 222.9h0M989.2 224.8h0M990.7 226.3h0M976.4 227.5h0M984 229.2h0M996.7 229.7h0M975.5 230.7h0M988 233.9h0M992.2 233.5h0M981.4 235h0M982.6 237.2h0M980.7 240.5h0M976.5 243.8h0M974.3 249.2h0M985.4 250.2h0M989.1 251.2h0M976.7 254.1h0M990.7 254.4h0M995.6 256.7h0M977.3 256.7h0M985.4 260.2h0M992 261.2h0M974.3 261.8h0"/>
<path stroke="#2328d4" d="M989 262.8h0M989.6 265.6h0M976 266.9h0M991.2 270.1h0M978.7 270.3h0M984.9 272.1h0M995.1 274.4h0M978.8 276h0M984.2 276.8h0M981.2 279.3h0M985.9 281.3h0M975.4 284.5h0M989.5 286.2h0M976.5 287.9h0M989.1 289.2h0M995.1 290.6h0M974.5 291.7h0M985 295.4h0M981.5 296.6h0M982.9 298.8h0M977.4 300.9h0M987.6 303.6h0M980.4 306.2h0M989.6 307.2h0M992 309.1h0M975.5 309.7h0M983.4 312.7h0M991.7 312.8h0M981.5 314.6h0M989.3 316.7h0M974.8 318.9h0M989.6 321.6h0"/>
<path stroke="#2a2ad8" d="M991.4 321h0M975.5 324.3h0M990.4 324.9h0M977.4 327.3h0M990.6 328.7h0M994 330h0M976.8 331.4h0M984.3 334.1h0M975.6 335.6h0M988.2 337.7h0M990.7 339.9h0M978.2 340h0M985.6 342.8h0M974.7 344.6h0M985.7 346.6h0M996.7 347.7h0M978.3 349.4h0"/>
<path stroke="#372ddc" d="M989.8 352.4h0M990.6 352.9h0M975.6 353.1h0M995.6 356.7h0M980.7 358.4h0M982.2 360.3h0M980.9 362h0M985.4 364.6h0M991.3 365.7h0M981 366.4h0M989.3 369.9h0"/>
<path stroke="#4430e0" d="M990.1 370.9h0M981.4 371.6h0M990.4 373.1h0M978.7 376.6h0M989.1 377.2h0M995.8 379.5h0M975.4 379.8h0M986.7 381.9h0"/>
<path stroke="#503ce6" d="M991 383.6h0M980.8 383.8h0M988.9 385.6h0M974.9 389.3h0M987.7 390.5h0M993.7 391.8h0"/>
<path stroke="#5c48ec" d="M979 393.4h0M982.3 395.5h0M990.9 396.9h0M979.9 397.8h0M986.3 398.9h0"/>
<path stroke="#6258ef" d="M992.5 399.9h0M977.4 402.3h0M987.8 403.2h0M979.9 406.7h0"/>
<path stroke="#6868f2" d="M986.6 408.2h0M975.1 411.8h0"/>
<path stroke="#7074f4" d="M980.2 414.8h0M996.7 419.1h0"/>
<path stroke="#1c24cc" d="M1002 126.3h0M1013.8 127.9h0M1020 128.1h0M1005.4 130.7h0M1013.2 131.7h0M1002.3 134.5h0M1010 135.9h0M998.3 139.8h0M1011.7 141.9h0M1018.3 141.6h0M998 142.7h0M1011.5 145.2h0M1020.1 145.7h0M999.7 148.3h0M1006 149.4h0M1015.8 150.2h0M1002.4 152.5h0M1011.6 154.1h0M1020.5 154.7h0"/>
<path stroke="#1c26d0" d="M999.1 155.9h0M1013.8 159.1h0M1015.1 158.6h0M1002.8 161.3h0M1011.8 162.8h0M1003.5 165h0M1017.2 168.1h0M999.8 169h0M1006.1 171.8h0M999 173.7h0M1010.5 176.3h0M999.3 178.3h0M1006.4 181.2h0M1003.3 182.1h0M1012.7 184.7h0M1001.4 186.9h0M1008.1 188.3h0M1019 190.6h0M1004.3 192.2h0M1011 193.5h0M1001.9 195.7h0M1014.7 197.4h0M998.1 200.1h0M1012.7 203.2h0M1000.4 205.7h0M1008.1 207.5h0M1003.2 209.7h0M1019.7 212.6h0M1004.4 213.6h0M1011.1 215.1h0M1018 215.7h0M1004.8 217.4h0M1006.9 220.7h0M1014.1 220h0M998.3 222.9h0M1012.2 224.7h0M1017.7 225.1h0M1004.1 227.5h0M1019.9 230.5h0M1005.1 230.5h0M1007 232.1h0M1004.1 235.9h0M1011.7 237h0M1013.8 239h0M999.5 239.7h0M1006.2 241.3h0M1018.7 242.6h0M1000.4 245.4h0M1013.6 246.4h0M1016.3 247.1h0M1003.8 248.5h0M1010.8 250h0M998.7 253.9h0M1006 254.4h0M1005.3 256.6h0M1010.4 259.9h0M1016.9 260.1h0M1004.2 261.5h0M1014.7 265.2h0M1001.7 265.6h0M1006.7 268.7h0M1003.9 271h0M1009.6 272.3h0M998.6 275.9h0M1007.8 276.4h0M1001.7 279.3h0M1016.7 282.4h0M1003.6 284.4h0M1009.1 285.3h0M1019.7 287h0M1003.5 287.6h0M1012.9 290.2h0M1016.7 291.9h0M999.8 292.1h0M1012.3 295.1h0M1014.2 295h0M1000.4 297.1h0M1008.9 298.2h0M1003.4 300.7h0M1016 305.2h0M1003.9 306.3h0M1007.7 307.9h0M1014.6 308.4h0M998.2 310h0M1012.2 312h0M1001.4 313.9h0M1009.6 316.8h0M1001.2 319.1h0"/>
<path stroke="#2328d4" d="M1009.8 320.2h0M1004.6 323.9h0M1013.6 325.5h0M1001.4 327.4h0M1006.9 329.4h0M1003.3 332.4h0M1009.8 333.8h0M1001 336.9h0M1018.2 339.9h0M1000.9 340.9h0M1017.3 343h0M1003.8 346.2h0M1006.9 347.2h0M1018.7 348.1h0M1002.8 350.3h0M1009.7 352.3h0M1018.4 352.3h0M1003.7 353.3h0M1013.4 356.4h0M1001 357.5h0"/>
<path stroke="#2a2ad8" d="M1009.8 360.6h0M1015.1 360.7h0M1003.5 363.7h0M1007.9 365.2h0M1014.7 364.9h0M1003.8 367.8h0M1010.2 369.1h0M1020.7 369.7h0M1002.8 372.2h0M1010.2 373h0M1014 375.1h0M1000.6 376.7h0M1009.4 377.3h0"/>
<path stroke="#372ddc" d="M1014.5 377.8h0M1003.4 379.9h0M1008.7 382.1h0M1018.1 383.5h0M1000.7 385.6h0M1019.6 388.4h0M1003.9 388.4h0"/>
<path stroke="#4430e0" d="M1011.7 389.9h0M1020.6 392.3h0M999.9 392.7h0M1008.1 395.8h0M1014.2 397.1h0M1003.9 397.3h0"/>
<path stroke="#503ce6" d="M1003.8 402.6h0"/>
<path stroke="#5c48ec" d="M1004.3 406.1h0M1010.8 408.9h0M1020 409.6h0M1000 410.5h0"/>
<path stroke="#6258ef" d="M1010.4 411.9h0M1014.1 413.9h0M1001.7 415.5h0"/>
<path stroke="#6868f2" d="M1019.7 418.2h0"/>
<path stroke="#1c24cc" d="M1028.4 125.8h0M1027.3 128.3h0M1023.5 130.3h0M1027.4 132.8h0M1024.1 135.5h0M1027.2 136.1h0M1025.7 140.2h0M1027.8 143.3h0M1026.2 145.5h0M1026.7 148.5h0M1028.2 150.5h0M1026 151.5h0M1024.9 153.5h0M1028.8 157h0M1027.8 161.9h0M1026.5 165.8h0M1026.4 170.3h0M1027.9 171.6h0M1027.6 173.5h0M1025.1 176.6h0M1028.8 179h0M1028.6 181h0M1026.1 182.6h0M1026.8 184.4h0M1025.1 187.7h0M1022.3 192h0M1025.4 194.2h0M1026.2 197h0M1025 197.7h0M1026.3 201.5h0M1025.5 204.8h0M1027.8 206.2h0M1023 208.4h0M1028 210.4h0M1029.1 212.9h0M1022.9 217.2h0M1023.7 223h0M1025.1 224.8h0"/>
<path stroke="#1c26d0" d="M1027.3 227.6h0M1022.5 231.5h0M1025.4 236.5h0M1029.2 237.9h0M1022 239.1h0M1028 243.6h0M1028.2 245.5h0M1028.4 248.8h0M1026.6 250.7h0M1025.2 253.6h0M1028.5 254.7h0M1026.7 257.9h0M1026.6 259.9h0M1029 262.6h0M1024.1 265.5h0M1027.2 271.4h0M1027.6 273.5h0M1028.1 275.3h0M1026.8 277.7h0M1024.7 279.9h0M1028.6 284.5h0M1024.9 285.2h0M1025.1 288.5h0M1028.6 291.8h0M1028 297.8h0M1024 302.2h0M1027 306.7h0M1025.3 307.7h0M1027.9 309.6h0M1028.9 314.1h0M1027 318.9h0M1026 321.2h0M1027.8 323.3h0M1028.5 325.7h0M1023.6 327.9h0M1028.5 332.2h0M1027.6 333.3h0M1023.3 335.9h0M1024.6 341h0M1027.2 342h0M1022.2 346.3h0M1025.4 347.3h0"/>
<path stroke="#2328d4" d="M1027.8 349h0M1024.5 354.1h0M1025.1 356.8h0M1028.4 358.4h0M1023.9 363.4h0M1029.2 365.1h0M1028 368.2h0M1025.1 368.4h0M1023.3 370.8h0M1027.4 374.1h0M1025.3 376.9h0"/>
<path stroke="#2a2ad8" d="M1022.4 380.6h0M1025.4 383.1h0M1023.8 384.9h0M1029.1 389.5h0M1026.9 390.2h0"/>
<path stroke="#372ddc" d="M1029.1 394.5h0M1025.1 394.8h0M1024.5 398.7h0"/>
<path stroke="#4430e0" d="M1028.2 401.4h0M1027.2 407h0"/>
<path stroke="#503ce6" d="M1022.3 410.4h0"/>
<path stroke="#5c48ec" d="M1028.9 415.8h0"/>
<path stroke="#6258ef" d="M1027.6 417.7h0"/>
<path stroke="#1c24cc" d="M1046.2 126.1h0M1056.7 128.2h0M1050.4 128.5h0M1043 130.4h0M1047.1 134.8h0M1058.4 136.9h0M1051.7 139.2h0M1060.1 141.3h0M1044.2 143.6h0M1056.5 145.7h0M1052.5 148h0M1059.9 150.1h0M1049.1 152.4h0M1058.4 154.5h0M1040.8 158.7h0M1045.5 165h0M1057.7 167.1h0M1042.6 169.4h0M1060.2 171.5h0M1041.9 173.8h0M1059.1 175.9h0M1043.1 178.1h0M1059.5 180.2h0M1043.5 182.5h0M1060 184.6h0M1052.7 186.9h0M1051.8 191.3h0M1046.1 195.7h0M1044.3 200.1h0M1060.6 202.2h0M1050 204.5h0M1052.9 208.8h0M1050.1 213.2h0M1052.1 217.6h0M1042.2 222h0M1047.7 226.4h0M1042 230.8h0M1044.1 235.1h0M1052.9 239.5h0M1048.6 243.9h0M1046.6 250.2h0M1055.5 252.3h0M1042.4 254.6h0M1042.3 260.9h0M1061 263h0"/>
<path stroke="#1c26d0" d="M1052 267.2h0M1058.8 269.4h0M1051.6 271.6h0M1048.6 276h0M1053.1 280.4h0M1051.7 284.8h0M1052.7 291.1h0M1047.6 297.4h0M1046.3 301.8h0M1043.3 306.2h0M1056.2 308.3h0M1046.3 310.6h0M1061.8 312.7h0M1051.3 315h0M1049.2 319.3h0M1059.6 321.4h0M1051.3 323.7h0M1055.5 325.8h0M1046.5 328.1h0M1045.3 332.5h0M1055.2 334.6h0M1041.9 338.8h0M1047.5 343.2h0M1044.4 347.6h0M1046.7 353.9h0M1043.4 358.3h0M1044.8 362.7h0"/>
<path stroke="#2328d4" d="M1045.2 367h0M1058.6 369.2h0M1052.8 373.4h0M1061.5 375.5h0M1047.2 377.7h0M1061.7 379.9h0M1041.1 382.1h0M1046.5 388.4h0"/>
<path stroke="#2a2ad8" d="M1057.5 390.6h0M1050.7 392.8h0M1049.5 397.2h0M1056.2 399.3h0"/>
<path stroke="#372ddc" d="M1051.5 403.5h0"/>
<path stroke="#4430e0" d="M1049 407.9h0M1042.2 412.3h0"/>
<path stroke="#503ce6" d="M1058.7 414.4h0M1050.8 415.5h0"/>
<path stroke="#1c24cc" d="M1077.1 128.2h0M1079.5 133.8h0M1063.2 187.4h0M1073.8 195.9h0M1064.2 205h0M1070.4 214.1h0M1069 226h0M1062.3 236.6h0M1076.6 237.3h0M1071.8 245.3h0M1078.3 250.6h0M1078.5 254.4h0M1064.2 257.6h0M1077.1 259.4h0M1070.4 264.6h0M1076.1 273.7h0M1077.1 274.4h0M1063.2 278.6h0M1075.7 283.2h0M1073.8 284.3h0"/>
<path stroke="#1c26d0" d="M1068 289.2h0"/>
<path stroke="#1c24cc" d="M1073.5 289.5h0"/>
<path stroke="#1c26d0" d="M1072.3 294.4h0M1071.3 298.3h0M1069 305h0M1075.2 312h0M1071.1 313.4h0M1065.1 313.7h0M1071.4 318.6h0M1069.3 322.1h0M1069.9 327.8h0M1070.3 330.9h0M1064.2 334.8h0M1077 337.2h0M1076.1 339.3h0M1073.8 346.7h0M1070.6 350.4h0M1064.2 352.3h0M1077.1 354.1h0M1073.7 356.7h0M1071.8 362.8h0M1078.7 363h0M1065.1 369.9h0M1074.7 371.3h0"/>
<path stroke="#2328d4" d="M1075.7 378.6h0M1072 380.6h0M1074.7 386.3h0M1075.2 386.9h0M1069 390.9h0"/>
<path stroke="#2a2ad8" d="M1071.4 397.9h0"/>
<path stroke="#4430e0" d="M1072.8 415.1h0"/>
<path stroke="#1c26d0" d="M1096.2 360.7h0M1102.5 383.5h0"/>
<path stroke="#2328d4" d="M1098.6 396.2h0"/>
<path stroke="#1c26d0" d="M1121.1 360.7h0"/>
<path stroke="#e72820" d="M930.1 433h3.4M940.6 432.9h0M952 433.7h0M965.7 433.2h0M976 432.7h0M988.6 433h0M999.5 432.4h0M1009.8 432.3h0M1022.7 433.1h0M1032.5 433.6h0"/>
</g>
<g stroke-width="17.2" stroke-linecap="round" fill="none" stroke-dasharray="0 12.800">
<path stroke="#b2b0fb" d="M174.20 680.7h0.40"/>
<path stroke="#5c48ec" d="M187.00 680.7h0.40"/>
<path stroke="#372ddc" d="M199.80 680.7h0.40"/>
<path stroke="#2a2ad8" d="M212.60 680.7h13.20"/>
<path stroke="#2328d4" d="M238.20 680.7h0.40"/>
<path stroke="#1c26d0" d="M251.00 680.7h13.20"/>
<path stroke="#d0d0fc" d="M161.40 680.7h0.40"/>
<path stroke="#b2b0fb" d="M174.20 686.1h0.40"/>
<path stroke="#5c48ec" d="M187.00 686.1h0.40"/>
<path stroke="#4430e0" d="M199.80 686.1h0.40"/>
<path stroke="#372ddc" d="M212.60 686.1h13.20"/>
<path stroke="#2328d4" d="M238.20 686.1h26.00"/>
<path stroke="#d0d0fc" d="M161.40 686.1h0.40"/>
<path stroke="#b2b0fb" d="M174.20 691.5h0.40"/>
<path stroke="#5c48ec" d="M187.00 691.5h0.40"/>
<path stroke="#372ddc" d="M199.80 691.5h13.20"/>
<path stroke="#2a2ad8" d="M225.40 691.5h0.40"/>
<path stroke="#2328d4" d="M238.20 691.5h13.20"/>
<path stroke="#1c26d0" d="M263.80 691.5h0.40"/>
<path stroke="#d0d0fc" d="M161.40 691.5h0.40"/>
<path stroke="#b2b0fb" d="M174.20 696.9h0.40"/>
<path stroke="#503ce6" d="M187.00 696.9h0.40"/>
<path stroke="#372ddc" d="M199.80 696.9h0.40"/>
<path stroke="#2a2ad8" d="M212.60 696.9h13.20"/>
<path stroke="#1c26d0" d="M238.20 696.9h26.00"/>
<path stroke="#d0d0fc" d="M161.40 696.9h0.40"/>
<path stroke="#b2b0fb" d="M174.20 702.3h0.40"/>
<path stroke="#5c48ec" d="M187.00 702.3h0.40"/>
<path stroke="#372ddc" d="M199.80 702.3h0.40"/>
<path stroke="#2328d4" d="M212.60 702.3h0.40"/>
<path stroke="#1c26d0" d="M225.40 702.3h26.00"/>
<path stroke="#1c24cc" d="M263.80 702.3h0.40"/>
<path stroke="#d0d0fc" d="M161.40 702.3h0.40"/>
<path stroke="#a0a0fa" d="M174.20 707.7h0.40"/>
<path stroke="#4430e0" d="M187.00 707.7h0.40"/>
<path stroke="#2328d4" d="M199.80 707.7h0.40"/>
<path stroke="#1c24cc" d="M212.60 707.7h51.60"/>
<path stroke="#d0d0fc" d="M161.40 707.7h0.40"/>
<path stroke="#a0a0fa" d="M174.20 713.1h0.40"/>
<path stroke="#503ce6" d="M187.00 713.1h0.40"/>
<path stroke="#2a2ad8" d="M199.80 713.1h0.40"/>
<path stroke="#1c26d0" d="M212.60 713.1h0.40"/>
<path stroke="#1c24cc" d="M225.40 713.1h38.80"/>
<path stroke="#d0d0fc" d="M161.40 713.1h0.40"/>
<path stroke="#b2b0fb" d="M174.20 718.5h0.40"/>
<path stroke="#503ce6" d="M187.00 718.5h0.40"/>
<path stroke="#372ddc" d="M199.80 718.5h0.40"/>
<path stroke="#2a2ad8" d="M212.60 718.5h13.20"/>
<path stroke="#2328d4" d="M238.20 718.5h26.00"/>
<path stroke="#d0d0fc" d="M161.40 718.5h0.40"/>
<path stroke="#c4c0fc" d="M174.20 723.8h0.40"/>
<path stroke="#6258ef" d="M187.00 723.8h0.40"/>
<path stroke="#4430e0" d="M199.80 723.8h0.40"/>
<path stroke="#372ddc" d="M212.60 723.8h26.00"/>
<path stroke="#2a2ad8" d="M251.00 723.8h13.20"/>
<path stroke="#d0d0fc" d="M161.40 723.8h0.40"/>
<path stroke="#b2b0fb" d="M174.20 729.2h0.40"/>
<path stroke="#5c48ec" d="M187.00 729.2h0.40"/>
<path stroke="#372ddc" d="M199.80 729.2h0.40"/>
<path stroke="#2a2ad8" d="M212.60 729.2h26.00"/>
<path stroke="#2328d4" d="M251.00 729.2h13.20"/>
<path stroke="#d0d0fc" d="M161.40 729.2h0.40"/>
<path stroke="#a0a0fa" d="M174.20 734.6h0.40"/>
<path stroke="#2a2ad8" d="M187.00 734.6h0.40"/>
<path stroke="#1c24cc" d="M199.80 734.6h64.40"/>
<path stroke="#d0d0fc" d="M161.40 734.6h0.40"/>
<path stroke="#a0a0fa" d="M174.20 740h0.40"/>
<path stroke="#372ddc" d="M187.00 740h0.40"/>
<path stroke="#1c26d0" d="M199.80 740h13.20"/>
<path stroke="#1c24cc" d="M225.40 740h38.80"/>
<path stroke="#d0d0fc" d="M161.40 740h0.40"/>
<path stroke="#a0a0fa" d="M174.20 745.4h0.40"/>
<path stroke="#372ddc" d="M187.00 745.4h0.40"/>
<path stroke="#1c24cc" d="M199.80 745.4h64.40"/>
<path stroke="#d0d0fc" d="M161.40 745.4h0.40"/>
<path stroke="#b2b0fb" d="M174.20 750.8h0.40"/>
<path stroke="#503ce6" d="M187.00 750.8h0.40"/>
<path stroke="#2a2ad8" d="M199.80 750.8h26.00"/>
<path stroke="#1c26d0" d="M238.20 750.8h13.20"/>
<path stroke="#1c24cc" d="M263.80 750.8h0.40"/>
<path stroke="#d0d0fc" d="M161.40 750.8h0.40"/>
<path stroke="#b2b0fb" d="M174.20 756.2h0.40"/>
<path stroke="#6258ef" d="M187.00 756.2h0.40"/>
<path stroke="#4430e0" d="M199.80 756.2h0.40"/>
<path stroke="#372ddc" d="M212.60 756.2h0.40"/>
<path stroke="#2a2ad8" d="M225.40 756.2h13.20"/>
<path stroke="#2328d4" d="M251.00 756.2h0.40"/>
<path stroke="#1c26d0" d="M263.80 756.2h0.40"/>
<path stroke="#d0d0fc" d="M161.40 756.2h0.40"/>
<path stroke="#b2b0fb" d="M174.20 761.6h0.40"/>
<path stroke="#5c48ec" d="M187.00 761.6h0.40"/>
<path stroke="#4430e0" d="M199.80 761.6h0.40"/>
<path stroke="#372ddc" d="M212.60 761.6h13.20"/>
<path stroke="#2328d4" d="M238.20 761.6h13.20"/>
<path stroke="#1c26d0" d="M263.80 761.6h0.40"/>
<path stroke="#d0d0fc" d="M161.40 761.6h0.40"/>
<path stroke="#b2b0fb" d="M174.20 767h0.40"/>
<path stroke="#5c48ec" d="M187.00 767h0.40"/>
<path stroke="#4430e0" d="M199.80 767h0.40"/>
<path stroke="#372ddc" d="M212.60 767h0.40"/>
<path stroke="#2a2ad8" d="M225.40 767h0.40"/>
<path stroke="#2328d4" d="M238.20 767h13.20"/>
<path stroke="#1c26d0" d="M263.80 767h0.40"/>
<path stroke="#d0d0fc" d="M161.40 767h0.40"/>
<path stroke="#b2b0fb" d="M174.20 772.4h0.40"/>
<path stroke="#503ce6" d="M187.00 772.4h0.40"/>
<path stroke="#372ddc" d="M199.80 772.4h13.20"/>
<path stroke="#2a2ad8" d="M225.40 772.4h0.40"/>
<path stroke="#2328d4" d="M238.20 772.4h0.40"/>
<path stroke="#1c26d0" d="M251.00 772.4h13.20"/>
<path stroke="#d0d0fc" d="M161.40 772.4h0.40"/>
<path stroke="#b2b0fb" d="M174.20 777.8h0.40"/>
<path stroke="#6868f2" d="M187.00 777.8h0.40"/>
<path stroke="#503ce6" d="M199.80 777.8h0.40"/>
<path stroke="#4430e0" d="M212.60 777.8h0.40"/>
<path stroke="#372ddc" d="M225.40 777.8h13.20"/>
<path stroke="#2a2ad8" d="M251.00 777.8h0.40"/>
<path stroke="#2328d4" d="M263.80 777.8h0.40"/>
<path stroke="#d0d0fc" d="M161.40 777.8h0.40"/>
<path stroke="#b2b0fb" d="M174.20 783.2h0.40"/>
<path stroke="#4430e0" d="M187.00 783.2h0.40"/>
<path stroke="#2a2ad8" d="M199.80 783.2h0.40"/>
<path stroke="#2328d4" d="M212.60 783.2h51.60"/>
<path stroke="#d0d0fc" d="M161.40 783.2h0.40"/>
<path stroke="#a0a0fa" d="M174.20 788.6h0.40"/>
<path stroke="#2a2ad8" d="M187.00 788.6h0.40"/>
<path stroke="#1c26d0" d="M199.80 788.6h64.40"/>
<path stroke="#d0d0fc" d="M161.40 788.6h0.40"/>
<path stroke="#a0a0fa" d="M174.20 794h0.40"/>
<path stroke="#2a2ad8" d="M187.00 794h0.40"/>
<path stroke="#1c26d0" d="M199.80 794h64.40"/>
<path stroke="#d0d0fc" d="M161.40 794h0.40"/>
<path stroke="#a0a0fa" d="M174.20 799.4h0.40"/>
<path stroke="#372ddc" d="M187.00 799.4h0.40"/>
<path stroke="#2328d4" d="M199.80 799.4h51.60"/>
<path stroke="#1c26d0" d="M263.80 799.4h0.40"/>
<path stroke="#d0d0fc" d="M161.40 799.4h0.40"/>
<path stroke="#8c90f8" d="M174.20 804.8h0.40"/>
<path stroke="#7880f6" d="M187.00 804.8h0.40"/>
<path stroke="#6258ef" d="M199.80 804.8h0.40"/>
<path stroke="#5c48ec" d="M212.60 804.8h0.40"/>
<path stroke="#503ce6" d="M225.40 804.8h0.40"/>
<path stroke="#2328d4" d="M238.20 804.8h26.00"/>
<path stroke="#d0d0fc" d="M161.40 804.8h0.40"/>
<path stroke="#8c90f8" d="M174.20 810.2h0.40"/>
<path stroke="#7880f6" d="M187.00 810.2h0.40"/>
<path stroke="#6868f2" d="M199.80 810.2h0.40"/>
<path stroke="#5c48ec" d="M212.60 810.2h13.20"/>
<path stroke="#4430e0" d="M238.20 810.2h0.40"/>
<path stroke="#2a2ad8" d="M251.00 810.2h0.40"/>
<path stroke="#2328d4" d="M263.80 810.2h0.40"/>
<path stroke="#d0d0fc" d="M161.40 810.2h0.40"/>
<path stroke="#7880f6" d="M174.20 815.6h0.40"/>
<path stroke="#6868f2" d="M187.00 815.6h0.40"/>
<path stroke="#503ce6" d="M199.80 815.6h13.20"/>
<path stroke="#372ddc" d="M225.40 815.6h0.40"/>
<path stroke="#1c26d0" d="M238.20 815.6h0.40"/>
<path stroke="#1c24cc" d="M251.00 815.6h13.20"/>
<path stroke="#d0d0fc" d="M161.40 815.6h0.40"/>
<path stroke="#8c90f8" d="M174.20 821h0.40"/>
<path stroke="#503ce6" d="M187.00 821h0.40"/>
<path stroke="#4430e0" d="M199.80 821h13.20"/>
<path stroke="#372ddc" d="M225.40 821h13.20"/>
<path stroke="#2a2ad8" d="M251.00 821h13.20"/>
<path stroke="#d0d0fc" d="M161.40 821h0.40"/>
<path stroke="#8c90f8" d="M174.20 826.4h0.40"/>
<path stroke="#503ce6" d="M187.00 826.4h0.40"/>
<path stroke="#4430e0" d="M199.80 826.4h13.20"/>
<path stroke="#372ddc" d="M225.40 826.4h13.20"/>
<path stroke="#2a2ad8" d="M251.00 826.4h13.20"/>
<path stroke="#d0d0fc" d="M161.40 826.4h0.40"/>
<path stroke="#cac8fc" d="M174.20 831.8h0.40"/>
<path stroke="#7880f6" d="M187.00 831.8h0.40"/>
<path stroke="#7074f4" d="M199.80 831.8h26.00"/>
<path stroke="#4430e0" d="M238.20 831.8h0.40"/>
<path stroke="#2a2ad8" d="M251.00 831.8h13.20"/>
<path stroke="#d0d0fc" d="M161.40 831.8h0.40"/>
<path stroke="#cac8fc" d="M174.20 837.2h0.40"/>
<path stroke="#8c90f8" d="M187.00 837.2h13.20"/>
<path stroke="#7880f6" d="M212.60 837.2h0.40"/>
<path stroke="#6868f2" d="M225.40 837.2h0.40"/>
<path stroke="#372ddc" d="M238.20 837.2h26.00"/>
<path stroke="#d0d0fc" d="M161.40 837.2h0.40"/>
<path stroke="#cac8fc" d="M174.20 842.6h0.40"/>
<path stroke="#7880f6" d="M187.00 842.6h0.40"/>
<path stroke="#7074f4" d="M199.80 842.6h13.20"/>
<path stroke="#6868f2" d="M225.40 842.6h0.40"/>
<path stroke="#2a2ad8" d="M238.20 842.6h26.00"/>
<path stroke="#d0d0fc" d="M161.40 842.6h0.40"/>
<path stroke="#cac8fc" d="M174.20 848h0.40"/>
<path stroke="#a0a0fa" d="M187.00 848h0.40"/>
<path stroke="#8c90f8" d="M199.80 848h13.20"/>
<path stroke="#7880f6" d="M225.40 848h0.40"/>
<path stroke="#6258ef" d="M238.20 848h0.40"/>
<path stroke="#4430e0" d="M251.00 848h0.40"/>
<path stroke="#372ddc" d="M263.80 848h0.40"/>
<path stroke="#d0d0fc" d="M161.40 848h0.40"/>
<path stroke="#8c90f8" d="M174.20 853.4h0.40"/>
<path stroke="#5c48ec" d="M187.00 853.4h0.40"/>
<path stroke="#503ce6" d="M199.80 853.4h13.20"/>
<path stroke="#4430e0" d="M225.40 853.4h0.40"/>
<path stroke="#2a2ad8" d="M238.20 853.4h13.20"/>
<path stroke="#2328d4" d="M263.80 853.4h0.40"/>
<path stroke="#d0d0fc" d="M161.40 853.4h0.40"/>
<path stroke="#8c90f8" d="M174.20 858.8h0.40"/>
<path stroke="#5c48ec" d="M187.00 858.8h0.40"/>
<path stroke="#503ce6" d="M199.80 858.8h13.20"/>
<path stroke="#372ddc" d="M225.40 858.8h0.40"/>
<path stroke="#2a2ad8" d="M238.20 858.8h0.40"/>
<path stroke="#2328d4" d="M251.00 858.8h13.20"/>
<path stroke="#d0d0fc" d="M161.40 858.8h0.40"/>
<path stroke="#cac8fc" d="M174.20 865.1h0.40"/>
<path stroke="#b2b0fb" d="M187.00 865.1h26.00"/>
<path stroke="#7880f6" d="M225.40 865.1h0.40"/>
<path stroke="#6258ef" d="M238.20 865.1h26.00"/>
<path stroke="#d0d0fc" d="M161.40 865.1h0.40"/>
<path stroke="#cac8fc" d="M174.20 871.4h0.40"/>
<path stroke="#7880f6" d="M187.00 871.4h0.40"/>
<path stroke="#2328d4" d="M199.80 871.4h26.00"/>
<path stroke="#5c48ec" d="M238.20 871.4h26.00"/>
<path stroke="#d0d0fc" d="M161.40 871.4h0.40"/>
<path stroke="#cac8fc" d="M174.20 876.8h0.40"/>
<path stroke="#8c90f8" d="M187.00 876.8h0.40"/>
<path stroke="#2a2ad8" d="M199.80 876.8h0.40"/>
<path stroke="#2328d4" d="M212.60 876.8h13.20"/>
<path stroke="#4430e0" d="M238.20 876.8h0.40"/>
<path stroke="#503ce6" d="M251.00 876.8h13.20"/>
<path stroke="#d0d0fc" d="M161.40 876.8h0.40"/>
<path stroke="#cac8fc" d="M174.20 882.2h0.40"/>
<path stroke="#7880f6" d="M187.00 882.2h0.40"/>
<path stroke="#2a2ad8" d="M199.80 882.2h0.40"/>
<path stroke="#1c26d0" d="M212.60 882.2h51.60"/>
<path stroke="#d0d0fc" d="M161.40 882.2h0.40"/>
<path stroke="#7880f6" d="M174.20 887.6h0.40"/>
<path stroke="#1c26d0" d="M187.00 887.6h0.40"/>
<path stroke="#2328d4" d="M199.80 887.6h0.40"/>
<path stroke="#6258ef" d="M212.60 887.6h13.20"/>
<path stroke="#372ddc" d="M238.20 887.6h26.00"/>
<path stroke="#d0d0fc" d="M161.40 887.6h0.40"/>
<path stroke="#8c90f8" d="M174.20 893h0.40"/>
<path stroke="#2328d4" d="M187.00 893h0.40"/>
<path stroke="#2a2ad8" d="M199.80 893h0.40"/>
<path stroke="#6868f2" d="M212.60 893h0.40"/>
<path stroke="#5c48ec" d="M225.40 893h0.40"/>
<path stroke="#4430e0" d="M238.20 893h26.00"/>
<path stroke="#d0d0fc" d="M161.40 893h0.40"/>
<path stroke="#a0a0fa" d="M174.20 898.3h0.40"/>
<path stroke="#372ddc" d="M187.00 898.3h0.40"/>
<path stroke="#2a2ad8" d="M199.80 898.3h0.40"/>
<path stroke="#5c48ec" d="M212.60 898.3h0.40"/>
<path stroke="#7074f4" d="M225.40 898.3h0.40"/>
<path stroke="#6258ef" d="M238.20 898.3h0.40"/>
<path stroke="#503ce6" d="M251.00 898.3h13.20"/>
<path stroke="#d0d0fc" d="M161.40 898.3h0.40"/>
<path stroke="#cac8fc" d="M174.20 903.7h0.40"/>
<path stroke="#b2b0fb" d="M187.00 903.7h0.40"/>
<path stroke="#a0a0fa" d="M199.80 903.7h26.00"/>
<path stroke="#7074f4" d="M238.20 903.7h0.40"/>
<path stroke="#5c48ec" d="M251.00 903.7h13.20"/>
<path stroke="#d0d0fc" d="M161.40 903.7h0.40"/>
<path stroke="#cac8fc" d="M174.20 909.1h0.40"/>
<path stroke="#6868f2" d="M187.00 909.1h0.40"/>
<path stroke="#4430e0" d="M199.80 909.1h0.40"/>
<path stroke="#2328d4" d="M212.60 909.1h13.20"/>
<path stroke="#4430e0" d="M238.20 909.1h26.00"/>
<path stroke="#d0d0fc" d="M161.40 909.1h0.40"/>
<path stroke="#cac8fc" d="M174.20 914.5h0.40"/>
<path stroke="#7880f6" d="M187.00 914.5h0.40"/>
<path stroke="#5c48ec" d="M199.80 914.5h0.40"/>
<path stroke="#372ddc" d="M212.60 914.5h0.40"/>
<path stroke="#2a2ad8" d="M225.40 914.5h0.40"/>
<path stroke="#4430e0" d="M238.20 914.5h0.40"/>
<path stroke="#503ce6" d="M251.00 914.5h13.20"/>
<path stroke="#d0d0fc" d="M161.40 914.5h0.40"/>
<path stroke="#cac8fc" d="M174.20 919.9h0.40"/>
<path stroke="#7880f6" d="M187.00 919.9h0.40"/>
<path stroke="#503ce6" d="M199.80 919.9h0.40"/>
<path stroke="#372ddc" d="M212.60 919.9h0.40"/>
<path stroke="#2328d4" d="M225.40 919.9h0.40"/>
<path stroke="#2a2ad8" d="M238.20 919.9h0.40"/>
<path stroke="#6868f2" d="M251.00 919.9h0.40"/>
<path stroke="#7074f4" d="M263.80 919.9h0.40"/>
<path stroke="#d0d0fc" d="M161.40 919.9h0.40"/>
<path stroke="#cac8fc" d="M174.20 925.3h0.40"/>
<path stroke="#6868f2" d="M187.00 925.3h0.40"/>
<path stroke="#4430e0" d="M199.80 925.3h0.40"/>
<path stroke="#2328d4" d="M212.60 925.3h0.40"/>
<path stroke="#2a2ad8" d="M225.40 925.3h0.40"/>
<path stroke="#6868f2" d="M238.20 925.3h0.40"/>
<path stroke="#7880f6" d="M251.00 925.3h13.20"/>
<path stroke="#d0d0fc" d="M161.40 925.3h0.40"/>
<path stroke="#cac8fc" d="M199.80 930.7h0.40"/>
<path stroke="#c4c0fc" d="M212.60 930.7h0.40"/>
<path stroke="#b2b0fb" d="M225.40 930.7h0.40"/>
<path stroke="#7880f6" d="M238.20 930.7h26.00"/>
<path stroke="#d0d0fc" d="M161.40 930.7h26.00"/>
<path stroke="#cac8fc" d="M199.80 936.1h0.40"/>
<path stroke="#c4c0fc" d="M212.60 936.1h0.40"/>
<path stroke="#8c90f8" d="M225.40 936.1h0.40"/>
<path stroke="#7880f6" d="M238.20 936.1h26.00"/>
<path stroke="#d0d0fc" d="M161.40 936.1h26.00"/>
<path stroke="#cac8fc" d="M199.80 941.5h0.40"/>
<path stroke="#c4c0fc" d="M212.60 941.5h13.20"/>
<path stroke="#7880f6" d="M238.20 941.5h0.40"/>
<path stroke="#6258ef" d="M251.00 941.5h0.40"/>
<path stroke="#5c48ec" d="M263.80 941.5h0.40"/>
<path stroke="#d0d0fc" d="M161.40 941.5h26.00"/>
<path stroke="#cac8fc" d="M199.80 946.9h0.40"/>
<path stroke="#c4c0fc" d="M212.60 946.9h13.20"/>
<path stroke="#7880f6" d="M238.20 946.9h0.40"/>
<path stroke="#6258ef" d="M251.00 946.9h13.20"/>
<path stroke="#d0d0fc" d="M161.40 946.9h26.00"/>
<path stroke="#cac8fc" d="M225.40 952.3h0.40"/>
<path stroke="#6258ef" d="M238.20 952.3h0.40"/>
<path stroke="#b2b0fb" d="M251.00 952.3h13.20"/>
<path stroke="#d0d0fc" d="M161.40 952.3h51.60"/>
<path stroke="#cac8fc" d="M225.40 957.7h0.40"/>
<path stroke="#6868f2" d="M238.20 957.7h0.40"/>
<path stroke="#b2b0fb" d="M251.00 957.7h13.20"/>
<path stroke="#d0d0fc" d="M161.40 957.7h51.60"/>
<path stroke="#cac8fc" d="M225.40 962.2h0.40"/>
<path stroke="#a0a0fa" d="M238.20 962.2h0.40"/>
<path stroke="#7074f4" d="M251.00 962.2h0.40"/>
<path stroke="#b2b0fb" d="M263.80 962.2h0.40"/>
<path stroke="#d0d0fc" d="M161.40 962.2h51.60"/>
<path stroke="#d0d0fc" d="M161.40 966.7h77.20"/>
<path stroke="#d0d0fc" d="M161.40 972.1h77.20"/>
<path stroke="#d0d0fc" d="M161.40 977.5h77.20"/>
<path stroke="#d0d0fc" d="M161.40 982h77.20"/>
<path stroke="#d0d0fc" d="M161.40 985.2h77.20"/>
</g>
<path stroke-width="17.2" stroke-linecap="round" fill="none" stroke="#d0d0fc" d="M160.1 680.7h2.6M160.1 686.1h2.6M160.1 691.5h2.6M160.1 696.9h2.6M160.1 702.3h2.6M160.1 707.7h2.6M160.1 713.1h2.6M160.1 718.5h2.6M160.1 723.8h2.6M160.1 729.2h2.6M160.1 734.6h2.6M160.1 740h2.6M160.1 745.4h2.6M160.1 750.8h2.6M160.1 756.2h2.6M160.1 761.6h2.6M160.1 767h2.6M160.1 772.4h2.6M160.1 777.8h2.6M160.1 783.2h2.6M160.1 788.6h2.6M160.1 794h2.6M160.1 799.4h2.6M160.1 804.8h2.6M160.1 810.2h2.6M160.1 815.6h2.6M160.1 821h2.6M160.1 826.4h2.6M160.1 831.8h2.6M160.1 837.2h2.6M160.1 842.6h2.6M160.1 848h2.6M160.1 853.4h2.6M160.1 858.8h2.6M160.1 865.1h2.6M160.1 871.4h2.6M160.1 876.8h2.6M160.1 882.2h2.6M160.1 887.6h2.6M160.1 893h2.6M160.1 898.3h2.6M160.1 903.7h2.6M160.1 909.1h2.6M160.1 914.5h2.6M160.1 919.9h2.6M160.1 925.3h2.6M160.1 930.7h2.6M160.1 936.1h2.6M160.1 941.5h2.6M160.1 946.9h2.6M160.1 952.3h2.6M160.1 957.7h2.6M160.1 962.2h2.6M160.1 966.7h2.6M160.1 972.1h2.6M160.1 977.5h2.6M160.1 982h2.6M160.1 985.2h2.6"/>
<g stroke-width="17.2" stroke-linecap="round" fill="none" stroke-dasharray="0 12.800">
<path stroke="#dcd4fa" d="M559.60 680.7h0.40"/>
<path stroke="#6258ef" d="M572.40 680.7h0.40"/>
<path stroke="#4430e0" d="M585.20 680.7h13.20"/>
<path stroke="#372ddc" d="M610.80 680.7h0.40"/>
<path stroke="#2a2ad8" d="M623.60 680.7h0.40"/>
<path stroke="#2328d4" d="M636.40 680.7h13.20"/>
<path stroke="#fa6468" d="M546.80 680.7h0.40"/>
<path stroke="#dcd4fa" d="M559.60 686.1h0.40"/>
<path stroke="#6868f2" d="M572.40 686.1h0.40"/>
<path stroke="#503ce6" d="M585.20 686.1h0.40"/>
<path stroke="#4430e0" d="M598.00 686.1h13.20"/>
<path stroke="#2a2ad8" d="M623.60 686.1h13.20"/>
<path stroke="#2328d4" d="M649.20 686.1h0.40"/>
<path stroke="#fa6468" d="M546.80 686.1h0.40"/>
<path stroke="#dcd4fa" d="M559.60 691.5h0.40"/>
<path stroke="#6868f2" d="M572.40 691.5h0.40"/>
<path stroke="#503ce6" d="M585.20 691.5h0.40"/>
<path stroke="#4430e0" d="M598.00 691.5h0.40"/>
<path stroke="#372ddc" d="M610.80 691.5h0.40"/>
<path stroke="#2a2ad8" d="M623.60 691.5h0.40"/>
<path stroke="#2328d4" d="M636.40 691.5h13.20"/>
<path stroke="#fa6468" d="M546.80 691.5h0.40"/>
<path stroke="#dcd4fa" d="M559.60 696.9h0.40"/>
<path stroke="#6258ef" d="M572.40 696.9h0.40"/>
<path stroke="#4430e0" d="M585.20 696.9h0.40"/>
<path stroke="#372ddc" d="M598.00 696.9h0.40"/>
<path stroke="#2a2ad8" d="M610.80 696.9h0.40"/>
<path stroke="#2328d4" d="M623.60 696.9h0.40"/>
<path stroke="#1c26d0" d="M636.40 696.9h13.20"/>
<path stroke="#fa6468" d="M546.80 696.9h0.40"/>
<path stroke="#dcd4fa" d="M559.60 702.3h0.40"/>
<path stroke="#6868f2" d="M572.40 702.3h0.40"/>
<path stroke="#4430e0" d="M585.20 702.3h0.40"/>
<path stroke="#2328d4" d="M598.00 702.3h0.40"/>
<path stroke="#1c26d0" d="M610.80 702.3h38.80"/>
<path stroke="#fa6468" d="M546.80 702.3h0.40"/>
<path stroke="#dcd4fa" d="M559.60 707.7h0.40"/>
<path stroke="#503ce6" d="M572.40 707.7h0.40"/>
<path stroke="#2a2ad8" d="M585.20 707.7h0.40"/>
<path stroke="#1c24cc" d="M598.00 707.7h51.60"/>
<path stroke="#fa6468" d="M546.80 707.7h0.40"/>
<path stroke="#dcd4fa" d="M559.60 713.1h0.40"/>
<path stroke="#6258ef" d="M572.40 713.1h0.40"/>
<path stroke="#372ddc" d="M585.20 713.1h0.40"/>
<path stroke="#1c26d0" d="M598.00 713.1h0.40"/>
<path stroke="#1c24cc" d="M610.80 713.1h38.80"/>
<path stroke="#fa6468" d="M546.80 713.1h0.40"/>
<path stroke="#dcd4fa" d="M559.60 718.5h0.40"/>
<path stroke="#5c48ec" d="M572.40 718.5h0.40"/>
<path stroke="#4430e0" d="M585.20 718.5h13.20"/>
<path stroke="#372ddc" d="M610.80 718.5h0.40"/>
<path stroke="#2a2ad8" d="M623.60 718.5h0.40"/>
<path stroke="#2328d4" d="M636.40 718.5h13.20"/>
<path stroke="#fa6468" d="M546.80 718.5h0.40"/>
<path stroke="#dcd4fa" d="M559.60 723.8h0.40"/>
<path stroke="#6258ef" d="M572.40 723.8h0.40"/>
<path stroke="#5c48ec" d="M585.20 723.8h0.40"/>
<path stroke="#4430e0" d="M598.00 723.8h26.00"/>
<path stroke="#372ddc" d="M636.40 723.8h13.20"/>
<path stroke="#fa6468" d="M546.80 723.8h0.40"/>
<path stroke="#dcd4fa" d="M559.60 729.2h0.40"/>
<path stroke="#6868f2" d="M572.40 729.2h0.40"/>
<path stroke="#4430e0" d="M585.20 729.2h13.20"/>
<path stroke="#372ddc" d="M610.80 729.2h13.20"/>
<path stroke="#2a2ad8" d="M636.40 729.2h13.20"/>
<path stroke="#fa6468" d="M546.80 729.2h0.40"/>
<path stroke="#dcd4fa" d="M559.60 734.6h0.40"/>
<path stroke="#372ddc" d="M572.40 734.6h0.40"/>
<path stroke="#1c24cc" d="M585.20 734.6h64.40"/>
<path stroke="#fa6468" d="M546.80 734.6h0.40"/>
<path stroke="#dcd4fa" d="M559.60 740h0.40"/>
<path stroke="#4430e0" d="M572.40 740h0.40"/>
<path stroke="#1c26d0" d="M585.20 740h64.40"/>
<path stroke="#fa6468" d="M546.80 740h0.40"/>
<path stroke="#dcd4fa" d="M559.60 745.4h0.40"/>
<path stroke="#4430e0" d="M572.40 745.4h0.40"/>
<path stroke="#1c24cc" d="M585.20 745.4h64.40"/>
<path stroke="#fa6468" d="M546.80 745.4h0.40"/>
<path stroke="#dcd4fa" d="M559.60 750.8h0.40"/>
<path stroke="#6258ef" d="M572.40 750.8h0.40"/>
<path stroke="#4430e0" d="M585.20 750.8h0.40"/>
<path stroke="#372ddc" d="M598.00 750.8h13.20"/>
<path stroke="#2328d4" d="M623.60 750.8h0.40"/>
<path stroke="#1c26d0" d="M636.40 750.8h13.20"/>
<path stroke="#fa6468" d="M546.80 750.8h0.40"/>
<path stroke="#dcd4fa" d="M559.60 756.2h0.40"/>
<path stroke="#7074f4" d="M572.40 756.2h0.40"/>
<path stroke="#503ce6" d="M585.20 756.2h0.40"/>
<path stroke="#4430e0" d="M598.00 756.2h13.20"/>
<path stroke="#2a2ad8" d="M623.60 756.2h0.40"/>
<path stroke="#2328d4" d="M636.40 756.2h13.20"/>
<path stroke="#fa6468" d="M546.80 756.2h0.40"/>
<path stroke="#dcd4fa" d="M559.60 761.6h0.40"/>
<path stroke="#6868f2" d="M572.40 761.6h0.40"/>
<path stroke="#503ce6" d="M585.20 761.6h0.40"/>
<path stroke="#4430e0" d="M598.00 761.6h13.20"/>
<path stroke="#2a2ad8" d="M623.60 761.6h0.40"/>
<path stroke="#2328d4" d="M636.40 761.6h13.20"/>
<path stroke="#fa6468" d="M546.80 761.6h0.40"/>
<path stroke="#dcd4fa" d="M559.60 767h0.40"/>
<path stroke="#6868f2" d="M572.40 767h0.40"/>
<path stroke="#503ce6" d="M585.20 767h0.40"/>
<path stroke="#4430e0" d="M598.00 767h13.20"/>
<path stroke="#2a2ad8" d="M623.60 767h0.40"/>
<path stroke="#2328d4" d="M636.40 767h13.20"/>
<path stroke="#fa6468" d="M546.80 767h0.40"/>
<path stroke="#dcd4fa" d="M559.60 772.4h0.40"/>
<path stroke="#6258ef" d="M572.40 772.4h0.40"/>
<path stroke="#4430e0" d="M585.20 772.4h13.20"/>
<path stroke="#372ddc" d="M610.80 772.4h0.40"/>
<path stroke="#2328d4" d="M623.60 772.4h13.20"/>
<path stroke="#1c26d0" d="M649.20 772.4h0.40"/>
<path stroke="#fa6468" d="M546.80 772.4h0.40"/>
<path stroke="#dcd4fa" d="M559.60 777.8h0.40"/>
<path stroke="#6868f2" d="M572.40 777.8h0.40"/>
<path stroke="#6258ef" d="M585.20 777.8h0.40"/>
<path stroke="#503ce6" d="M598.00 777.8h13.20"/>
<path stroke="#4430e0" d="M623.60 777.8h0.40"/>
<path stroke="#2a2ad8" d="M636.40 777.8h13.20"/>
<path stroke="#fa6468" d="M546.80 777.8h0.40"/>
<path stroke="#dcd4fa" d="M559.60 783.2h0.40"/>
<path stroke="#5c48ec" d="M572.40 783.2h0.40"/>
<path stroke="#372ddc" d="M585.20 783.2h0.40"/>
<path stroke="#2a2ad8" d="M598.00 783.2h26.00"/>
<path stroke="#2328d4" d="M636.40 783.2h13.20"/>
<path stroke="#fa6468" d="M546.80 783.2h0.40"/>
<path stroke="#dcd4fa" d="M559.60 788.6h0.40"/>
<path stroke="#372ddc" d="M572.40 788.6h0.40"/>
<path stroke="#2328d4" d="M585.20 788.6h26.00"/>
<path stroke="#1c26d0" d="M623.60 788.6h26.00"/>
<path stroke="#fa6468" d="M546.80 788.6h0.40"/>
<path stroke="#dcd4fa" d="M559.60 794h0.40"/>
<path stroke="#372ddc" d="M572.40 794h0.40"/>
<path stroke="#2328d4" d="M585.20 794h26.00"/>
<path stroke="#1c26d0" d="M623.60 794h26.00"/>
<path stroke="#fa6468" d="M546.80 794h0.40"/>
<path stroke="#dcd4fa" d="M559.60 799.4h0.40"/>
<path stroke="#4430e0" d="M572.40 799.4h0.40"/>
<path stroke="#2a2ad8" d="M585.20 799.4h26.00"/>
<path stroke="#2328d4" d="M623.60 799.4h26.00"/>
<path stroke="#fa6468" d="M546.80 799.4h0.40"/>
<path stroke="#dcd4fa" d="M559.60 804.8h0.40"/>
<path stroke="#7880f6" d="M572.40 804.8h0.40"/>
<path stroke="#7074f4" d="M585.20 804.8h0.40"/>
<path stroke="#6868f2" d="M598.00 804.8h0.40"/>
<path stroke="#6258ef" d="M610.80 804.8h0.40"/>
<path stroke="#2a2ad8" d="M623.60 804.8h13.20"/>
<path stroke="#2328d4" d="M649.20 804.8h0.40"/>
<path stroke="#fa6468" d="M546.80 804.8h0.40"/>
<path stroke="#dcd4fa" d="M559.60 810.2h0.40"/>
<path stroke="#7880f6" d="M572.40 810.2h0.40"/>
<path stroke="#6868f2" d="M585.20 810.2h0.40"/>
<path stroke="#7074f4" d="M598.00 810.2h0.40"/>
<path stroke="#6868f2" d="M610.80 810.2h0.40"/>
<path stroke="#5c48ec" d="M623.60 810.2h0.40"/>
<path stroke="#2a2ad8" d="M636.40 810.2h13.20"/>
<path stroke="#fa6468" d="M546.80 810.2h0.40"/>
<path stroke="#dcd4fa" d="M559.60 815.6h0.40"/>
<path stroke="#6868f2" d="M572.40 815.6h0.40"/>
<path stroke="#6258ef" d="M585.20 815.6h0.40"/>
<path stroke="#5c48ec" d="M598.00 815.6h0.40"/>
<path stroke="#4430e0" d="M610.80 815.6h0.40"/>
<path stroke="#1c26d0" d="M623.60 815.6h26.00"/>
<path stroke="#fa6468" d="M546.80 815.6h0.40"/>
<path stroke="#dcd4fa" d="M559.60 821h0.40"/>
<path stroke="#5c48ec" d="M572.40 821h13.20"/>
<path stroke="#503ce6" d="M598.00 821h0.40"/>
<path stroke="#4430e0" d="M610.80 821h13.20"/>
<path stroke="#372ddc" d="M636.40 821h13.20"/>
<path stroke="#fa6468" d="M546.80 821h0.40"/>
<path stroke="#dcd4fa" d="M559.60 826.4h0.40"/>
<path stroke="#5c48ec" d="M572.40 826.4h13.20"/>
<path stroke="#503ce6" d="M598.00 826.4h13.20"/>
<path stroke="#4430e0" d="M623.60 826.4h0.40"/>
<path stroke="#372ddc" d="M636.40 826.4h13.20"/>
<path stroke="#fa6468" d="M546.80 826.4h0.40"/>
<path stroke="#dcd4fa" d="M559.60 831.8h0.40"/>
<path stroke="#7880f6" d="M572.40 831.8h0.40"/>
<path stroke="#7074f4" d="M585.20 831.8h26.00"/>
<path stroke="#503ce6" d="M623.60 831.8h0.40"/>
<path stroke="#372ddc" d="M636.40 831.8h13.20"/>
<path stroke="#fa6468" d="M546.80 831.8h0.40"/>
<path stroke="#dcd4fa" d="M559.60 837.2h0.40"/>
<path stroke="#8c90f8" d="M572.40 837.2h13.20"/>
<path stroke="#7880f6" d="M598.00 837.2h0.40"/>
<path stroke="#6868f2" d="M610.80 837.2h0.40"/>
<path stroke="#503ce6" d="M623.60 837.2h0.40"/>
<path stroke="#4430e0" d="M636.40 837.2h13.20"/>
<path stroke="#fa6468" d="M546.80 837.2h0.40"/>
<path stroke="#dcd4fa" d="M559.60 842.6h0.40"/>
<path stroke="#7880f6" d="M572.40 842.6h0.40"/>
<path stroke="#7074f4" d="M585.20 842.6h13.20"/>
<path stroke="#6868f2" d="M610.80 842.6h0.40"/>
<path stroke="#372ddc" d="M623.60 842.6h26.00"/>
<path stroke="#fa6468" d="M546.80 842.6h0.40"/>
<path stroke="#dcd4fa" d="M559.60 848h0.40"/>
<path stroke="#a0a0fa" d="M572.40 848h0.40"/>
<path stroke="#8c90f8" d="M585.20 848h13.20"/>
<path stroke="#7880f6" d="M610.80 848h0.40"/>
<path stroke="#7074f4" d="M623.60 848h0.40"/>
<path stroke="#503ce6" d="M636.40 848h13.20"/>
<path stroke="#fa6468" d="M546.80 848h0.40"/>
<path stroke="#dcd4fa" d="M559.60 853.4h0.40"/>
<path stroke="#6868f2" d="M572.40 853.4h0.40"/>
<path stroke="#6258ef" d="M585.20 853.4h13.20"/>
<path stroke="#5c48ec" d="M610.80 853.4h0.40"/>
<path stroke="#372ddc" d="M623.60 853.4h13.20"/>
<path stroke="#2a2ad8" d="M649.20 853.4h0.40"/>
<path stroke="#fa6468" d="M546.80 853.4h0.40"/>
<path stroke="#dcd4fa" d="M559.60 858.8h0.40"/>
<path stroke="#6868f2" d="M572.40 858.8h0.40"/>
<path stroke="#6258ef" d="M585.20 858.8h13.20"/>
<path stroke="#503ce6" d="M610.80 858.8h0.40"/>
<path stroke="#372ddc" d="M623.60 858.8h0.40"/>
<path stroke="#2a2ad8" d="M636.40 858.8h13.20"/>
<path stroke="#fa6468" d="M546.80 858.8h0.40"/>
<path stroke="#dcd4fa" d="M559.60 865.1h0.40"/>
<path stroke="#d6d2fb" d="M572.40 865.1h13.20"/>
<path stroke="#d0d0fc" d="M598.00 865.1h0.40"/>
<path stroke="#7880f6" d="M610.80 865.1h0.40"/>
<path stroke="#6258ef" d="M623.60 865.1h13.20"/>
<path stroke="#7074f4" d="M649.20 865.1h0.40"/>
<path stroke="#fa6468" d="M546.80 865.1h0.40"/>
<path stroke="#dcd4fa" d="M559.60 871.4h0.40"/>
<path stroke="#7880f6" d="M572.40 871.4h0.40"/>
<path stroke="#2a2ad8" d="M585.20 871.4h26.00"/>
<path stroke="#6868f2" d="M623.60 871.4h26.00"/>
<path stroke="#fa6468" d="M546.80 871.4h0.40"/>
<path stroke="#dcd4fa" d="M559.60 876.8h0.40"/>
<path stroke="#8c90f8" d="M572.40 876.8h0.40"/>
<path stroke="#372ddc" d="M585.20 876.8h0.40"/>
<path stroke="#2328d4" d="M598.00 876.8h13.20"/>
<path stroke="#503ce6" d="M623.60 876.8h0.40"/>
<path stroke="#6258ef" d="M636.40 876.8h13.20"/>
<path stroke="#fa6468" d="M546.80 876.8h0.40"/>
<path stroke="#dcd4fa" d="M559.60 882.2h0.40"/>
<path stroke="#7880f6" d="M572.40 882.2h0.40"/>
<path stroke="#372ddc" d="M585.20 882.2h0.40"/>
<path stroke="#2328d4" d="M598.00 882.2h51.60"/>
<path stroke="#fa6468" d="M546.80 882.2h0.40"/>
<path stroke="#dcd4fa" d="M559.60 887.6h0.40"/>
<path stroke="#2328d4" d="M572.40 887.6h13.20"/>
<path stroke="#6258ef" d="M598.00 887.6h13.20"/>
<path stroke="#503ce6" d="M623.60 887.6h26.00"/>
<path stroke="#fa6468" d="M546.80 887.6h0.40"/>
<path stroke="#dcd4fa" d="M559.60 893h0.40"/>
<path stroke="#2328d4" d="M572.40 893h0.40"/>
<path stroke="#372ddc" d="M585.20 893h0.40"/>
<path stroke="#6868f2" d="M598.00 893h0.40"/>
<path stroke="#7074f4" d="M610.80 893h0.40"/>
<path stroke="#503ce6" d="M623.60 893h26.00"/>
<path stroke="#fa6468" d="M546.80 893h0.40"/>
<path stroke="#dcd4fa" d="M559.60 898.3h0.40"/>
<path stroke="#503ce6" d="M572.40 898.3h0.40"/>
<path stroke="#372ddc" d="M585.20 898.3h0.40"/>
<path stroke="#7074f4" d="M598.00 898.3h26.00"/>
<path stroke="#5c48ec" d="M636.40 898.3h13.20"/>
<path stroke="#fa6468" d="M546.80 898.3h0.40"/>
<path stroke="#dcd4fa" d="M572.40 903.7h0.40"/>
<path stroke="#a0a0fa" d="M585.20 903.7h26.00"/>
<path stroke="#7074f4" d="M623.60 903.7h0.40"/>
<path stroke="#6868f2" d="M636.40 903.7h13.20"/>
<path stroke="#fa6468" d="M546.80 903.7h13.20"/>
<path stroke="#dcd4fa" d="M572.40 909.1h0.40"/>
<path stroke="#503ce6" d="M585.20 909.1h0.40"/>
<path stroke="#2a2ad8" d="M598.00 909.1h13.20"/>
<path stroke="#503ce6" d="M623.60 909.1h26.00"/>
<path stroke="#fa6468" d="M546.80 909.1h13.20"/>
<path stroke="#dcd4fa" d="M572.40 914.5h0.40"/>
<path stroke="#6258ef" d="M585.20 914.5h0.40"/>
<path stroke="#4430e0" d="M598.00 914.5h0.40"/>
<path stroke="#372ddc" d="M610.80 914.5h0.40"/>
<path stroke="#503ce6" d="M623.60 914.5h0.40"/>
<path stroke="#5c48ec" d="M636.40 914.5h13.20"/>
<path stroke="#fa6468" d="M546.80 914.5h13.20"/>
<path stroke="#dcd4fa" d="M572.40 919.9h0.40"/>
<path stroke="#6258ef" d="M585.20 919.9h0.40"/>
<path stroke="#4430e0" d="M598.00 919.9h0.40"/>
<path stroke="#2a2ad8" d="M610.80 919.9h0.40"/>
<path stroke="#372ddc" d="M623.60 919.9h0.40"/>
<path stroke="#6868f2" d="M636.40 919.9h0.40"/>
<path stroke="#7074f4" d="M649.20 919.9h0.40"/>
<path stroke="#fa6468" d="M546.80 919.9h13.20"/>
<path stroke="#dcd4fa" d="M572.40 925.3h0.40"/>
<path stroke="#503ce6" d="M585.20 925.3h0.40"/>
<path stroke="#2a2ad8" d="M598.00 925.3h0.40"/>
<path stroke="#4430e0" d="M610.80 925.3h0.40"/>
<path stroke="#6868f2" d="M623.60 925.3h0.40"/>
<path stroke="#7880f6" d="M636.40 925.3h13.20"/>
<path stroke="#fa6468" d="M546.80 925.3h13.20"/>
<path stroke="#f4b4dc" d="M572.40 930.7h0.40"/>
<path stroke="#e6caf5" d="M585.20 930.7h0.40"/>
<path stroke="#dcd4fa" d="M598.00 930.7h0.40"/>
<path stroke="#d0d0fc" d="M610.80 930.7h0.40"/>
<path stroke="#7880f6" d="M623.60 930.7h26.00"/>
<path stroke="#fa6468" d="M546.80 930.7h13.20"/>
<path stroke="#f4b4dc" d="M572.40 936.1h0.40"/>
<path stroke="#dcd4fa" d="M585.20 936.1h0.40"/>
<path stroke="#d0d0fc" d="M598.00 936.1h0.40"/>
<path stroke="#8c90f8" d="M610.80 936.1h0.40"/>
<path stroke="#7880f6" d="M623.60 936.1h26.00"/>
<path stroke="#fa6468" d="M546.80 936.1h13.20"/>
<path stroke="#f4b4dc" d="M572.40 941.5h0.40"/>
<path stroke="#e6caf5" d="M585.20 941.5h0.40"/>
<path stroke="#dcd4fa" d="M598.00 941.5h0.40"/>
<path stroke="#d0d0fc" d="M610.80 941.5h0.40"/>
<path stroke="#7880f6" d="M623.60 941.5h0.40"/>
<path stroke="#7074f4" d="M636.40 941.5h0.40"/>
<path stroke="#6868f2" d="M649.20 941.5h0.40"/>
<path stroke="#fa6468" d="M546.80 941.5h13.20"/>
<path stroke="#f4b4dc" d="M572.40 946.9h0.40"/>
<path stroke="#e6caf5" d="M585.20 946.9h0.40"/>
<path stroke="#dcd4fa" d="M598.00 946.9h0.40"/>
<path stroke="#d0d0fc" d="M610.80 946.9h0.40"/>
<path stroke="#7880f6" d="M623.60 946.9h0.40"/>
<path stroke="#6258ef" d="M636.40 946.9h0.40"/>
<path stroke="#7074f4" d="M649.20 946.9h0.40"/>
<path stroke="#fa6468" d="M546.80 946.9h13.20"/>
<path stroke="#f4b4dc" d="M585.20 952.3h0.40"/>
<path stroke="#dcd4fa" d="M598.00 952.3h0.40"/>
<path stroke="#d0d0fc" d="M610.80 952.3h0.40"/>
<path stroke="#7074f4" d="M623.60 952.3h0.40"/>
<path stroke="#b2b0fb" d="M636.40 952.3h13.20"/>
<path stroke="#fa6468" d="M546.80 952.3h26.00"/>
<path stroke="#f4b4dc" d="M585.20 957.7h0.40"/>
<path stroke="#dcd4fa" d="M598.00 957.7h0.40"/>
<path stroke="#d0d0fc" d="M610.80 957.7h0.40"/>
<path stroke="#6868f2" d="M623.60 957.7h0.40"/>
<path stroke="#b2b0fb" d="M636.40 957.7h13.20"/>
<path stroke="#fa6468" d="M546.80 957.7h26.00"/>
<path stroke="#f4b4dc" d="M585.20 962.2h0.40"/>
<path stroke="#dcd4fa" d="M598.00 962.2h0.40"/>
<path stroke="#d0d0fc" d="M610.80 962.2h0.40"/>
<path stroke="#a0a0fa" d="M623.60 962.2h0.40"/>
<path stroke="#7074f4" d="M636.40 962.2h0.40"/>
<path stroke="#b2b0fb" d="M649.20 962.2h0.40"/>
<path stroke="#fa6468" d="M546.80 962.2h26.00"/>
<path stroke="#fa6468" d="M546.80 966.7h77.20"/>
<path stroke="#fa6468" d="M546.80 972.1h77.20"/>
<path stroke="#fa6468" d="M546.80 977.5h77.20"/>
<path stroke="#fa6468" d="M546.80 982h77.20"/>
<path stroke="#fa6468" d="M546.80 985.2h77.20"/>
</g>
<path stroke-width="17.2" stroke-linecap="round" fill="none" stroke="#fa6468" d="M545.5 680.7h2.6M545.5 686.1h2.6M545.5 691.5h2.6M545.5 696.9h2.6M545.5 702.3h2.6M545.5 707.7h2.6M545.5 713.1h2.6M545.5 718.5h2.6M545.5 723.8h2.6M545.5 729.2h2.6M545.5 734.6h2.6M545.5 740h2.6M545.5 745.4h2.6M545.5 750.8h2.6M545.5 756.2h2.6M545.5 761.6h2.6M545.5 767h2.6M545.5 772.4h2.6M545.5 777.8h2.6M545.5 783.2h2.6M545.5 788.6h2.6M545.5 794h2.6M545.5 799.4h2.6M545.5 804.8h2.6M545.5 810.2h2.6M545.5 815.6h2.6M545.5 821h2.6M545.5 826.4h2.6M545.5 831.8h2.6M545.5 837.2h2.6M545.5 842.6h2.6M545.5 848h2.6M545.5 853.4h2.6M545.5 858.8h2.6M545.5 865.1h2.6M545.5 871.4h2.6M545.5 876.8h2.6M545.5 882.2h2.6M545.5 887.6h2.6M545.5 893h2.6M545.5 898.3h2.6M545.5 903.7h2.6M545.5 909.1h2.6M545.5 914.5h2.6M545.5 919.9h2.6M545.5 925.3h2.6M545.5 930.7h2.6M545.5 936.1h2.6M545.5 941.5h2.6M545.5 946.9h2.6M545.5 952.3h2.6M545.5 957.7h2.6M545.5 962.2h2.6M545.5 966.7h2.6M545.5 972.1h2.6M545.5 977.5h2.6M545.5 982h2.6M545.5 985.2h2.6"/>
<g stroke-width="17.2" stroke-linecap="round" fill="none" stroke-dasharray="0 12.800">
<path stroke="#e6caf5" d="M945.10 680.7h0.40"/>
<path stroke="#7074f4" d="M957.90 680.7h0.40"/>
<path stroke="#503ce6" d="M970.70 680.7h0.40"/>
<path stroke="#4430e0" d="M983.50 680.7h0.40"/>
<path stroke="#5c48ec" d="M996.30 680.7h0.40"/>
<path stroke="#4430e0" d="M1009.10 680.7h13.20"/>
<path stroke="#372ddc" d="M1034.70 680.7h0.40"/>
<path stroke="#f54642" d="M932.30 680.7h0.40"/>
<path stroke="#e6caf5" d="M945.10 686.1h0.40"/>
<path stroke="#7074f4" d="M957.90 686.1h0.40"/>
<path stroke="#5c48ec" d="M970.70 686.1h0.40"/>
<path stroke="#503ce6" d="M983.50 686.1h38.80"/>
<path stroke="#4430e0" d="M1034.70 686.1h0.40"/>
<path stroke="#f54642" d="M932.30 686.1h0.40"/>
<path stroke="#e6caf5" d="M945.10 691.5h0.40"/>
<path stroke="#7074f4" d="M957.90 691.5h0.40"/>
<path stroke="#503ce6" d="M970.70 691.5h0.40"/>
<path stroke="#4430e0" d="M983.50 691.5h0.40"/>
<path stroke="#5c48ec" d="M996.30 691.5h0.40"/>
<path stroke="#503ce6" d="M1009.10 691.5h0.40"/>
<path stroke="#4430e0" d="M1021.90 691.5h0.40"/>
<path stroke="#372ddc" d="M1034.70 691.5h0.40"/>
<path stroke="#f54642" d="M932.30 691.5h0.40"/>
<path stroke="#e6caf5" d="M945.10 696.9h0.40"/>
<path stroke="#6868f2" d="M957.90 696.9h0.40"/>
<path stroke="#4430e0" d="M970.70 696.9h0.40"/>
<path stroke="#5c48ec" d="M983.50 696.9h0.40"/>
<path stroke="#503ce6" d="M996.30 696.9h0.40"/>
<path stroke="#4430e0" d="M1009.10 696.9h0.40"/>
<path stroke="#372ddc" d="M1021.90 696.9h13.20"/>
<path stroke="#f54642" d="M932.30 696.9h0.40"/>
<path stroke="#e6caf5" d="M945.10 702.3h0.40"/>
<path stroke="#7074f4" d="M957.90 702.3h0.40"/>
<path stroke="#503ce6" d="M970.70 702.3h0.40"/>
<path stroke="#4430e0" d="M983.50 702.3h0.40"/>
<path stroke="#372ddc" d="M996.30 702.3h26.00"/>
<path stroke="#2a2ad8" d="M1034.70 702.3h0.40"/>
<path stroke="#f54642" d="M932.30 702.3h0.40"/>
<path stroke="#e6caf5" d="M945.10 707.7h0.40"/>
<path stroke="#5c48ec" d="M957.90 707.7h0.40"/>
<path stroke="#503ce6" d="M970.70 707.7h0.40"/>
<path stroke="#2a2ad8" d="M983.50 707.7h13.20"/>
<path stroke="#2328d4" d="M1009.10 707.7h26.00"/>
<path stroke="#f54642" d="M932.30 707.7h0.40"/>
<path stroke="#e6caf5" d="M945.10 713.1h0.40"/>
<path stroke="#6868f2" d="M957.90 713.1h0.40"/>
<path stroke="#5c48ec" d="M970.70 713.1h0.40"/>
<path stroke="#372ddc" d="M983.50 713.1h0.40"/>
<path stroke="#2a2ad8" d="M996.30 713.1h13.20"/>
<path stroke="#2328d4" d="M1021.90 713.1h13.20"/>
<path stroke="#f54642" d="M932.30 713.1h0.40"/>
<path stroke="#e6caf5" d="M945.10 718.5h0.40"/>
<path stroke="#6258ef" d="M957.90 718.5h0.40"/>
<path stroke="#4430e0" d="M970.70 718.5h13.20"/>
<path stroke="#5c48ec" d="M996.30 718.5h0.40"/>
<path stroke="#503ce6" d="M1009.10 718.5h0.40"/>
<path stroke="#4430e0" d="M1021.90 718.5h13.20"/>
<path stroke="#f54642" d="M932.30 718.5h0.40"/>
<path stroke="#e6caf5" d="M945.10 723.8h0.40"/>
<path stroke="#6258ef" d="M957.90 723.8h0.40"/>
<path stroke="#5c48ec" d="M970.70 723.8h0.40"/>
<path stroke="#503ce6" d="M983.50 723.8h13.20"/>
<path stroke="#4430e0" d="M1009.10 723.8h0.40"/>
<path stroke="#5c48ec" d="M1021.90 723.8h13.20"/>
<path stroke="#f54642" d="M932.30 723.8h0.40"/>
<path stroke="#e6caf5" d="M945.10 729.2h0.40"/>
<path stroke="#7074f4" d="M957.90 729.2h0.40"/>
<path stroke="#503ce6" d="M970.70 729.2h0.40"/>
<path stroke="#4430e0" d="M983.50 729.2h0.40"/>
<path stroke="#5c48ec" d="M996.30 729.2h13.20"/>
<path stroke="#503ce6" d="M1021.90 729.2h0.40"/>
<path stroke="#4430e0" d="M1034.70 729.2h0.40"/>
<path stroke="#f54642" d="M932.30 729.2h0.40"/>
<path stroke="#e6caf5" d="M945.10 734.6h0.40"/>
<path stroke="#4430e0" d="M957.90 734.6h0.40"/>
<path stroke="#2a2ad8" d="M970.70 734.6h26.00"/>
<path stroke="#2328d4" d="M1009.10 734.6h26.00"/>
<path stroke="#f54642" d="M932.30 734.6h0.40"/>
<path stroke="#e6caf5" d="M945.10 740h0.40"/>
<path stroke="#503ce6" d="M957.90 740h0.40"/>
<path stroke="#372ddc" d="M970.70 740h13.20"/>
<path stroke="#2a2ad8" d="M996.30 740h38.80"/>
<path stroke="#f54642" d="M932.30 740h0.40"/>
<path stroke="#e6caf5" d="M945.10 745.4h0.40"/>
<path stroke="#503ce6" d="M957.90 745.4h0.40"/>
<path stroke="#2a2ad8" d="M970.70 745.4h38.80"/>
<path stroke="#2328d4" d="M1021.90 745.4h13.20"/>
<path stroke="#f54642" d="M932.30 745.4h0.40"/>
<path stroke="#e6caf5" d="M945.10 750.8h0.40"/>
<path stroke="#6868f2" d="M957.90 750.8h0.40"/>
<path stroke="#4430e0" d="M970.70 750.8h0.40"/>
<path stroke="#5c48ec" d="M983.50 750.8h13.20"/>
<path stroke="#372ddc" d="M1009.10 750.8h13.20"/>
<path stroke="#2a2ad8" d="M1034.70 750.8h0.40"/>
<path stroke="#f54642" d="M932.30 750.8h0.40"/>
<path stroke="#e6caf5" d="M945.10 756.2h0.40"/>
<path stroke="#7880f6" d="M957.90 756.2h0.40"/>
<path stroke="#5c48ec" d="M970.70 756.2h0.40"/>
<path stroke="#503ce6" d="M983.50 756.2h0.40"/>
<path stroke="#4430e0" d="M996.30 756.2h0.40"/>
<path stroke="#503ce6" d="M1009.10 756.2h0.40"/>
<path stroke="#4430e0" d="M1021.90 756.2h0.40"/>
<path stroke="#372ddc" d="M1034.70 756.2h0.40"/>
<path stroke="#f54642" d="M932.30 756.2h0.40"/>
<path stroke="#e6caf5" d="M945.10 761.6h0.40"/>
<path stroke="#7880f6" d="M957.90 761.6h0.40"/>
<path stroke="#5c48ec" d="M970.70 761.6h0.40"/>
<path stroke="#503ce6" d="M983.50 761.6h0.40"/>
<path stroke="#4430e0" d="M996.30 761.6h0.40"/>
<path stroke="#503ce6" d="M1009.10 761.6h0.40"/>
<path stroke="#4430e0" d="M1021.90 761.6h0.40"/>
<path stroke="#372ddc" d="M1034.70 761.6h0.40"/>
<path stroke="#f54642" d="M932.30 761.6h0.40"/>
<path stroke="#e6caf5" d="M945.10 767h0.40"/>
<path stroke="#7880f6" d="M957.90 767h0.40"/>
<path stroke="#5c48ec" d="M970.70 767h0.40"/>
<path stroke="#503ce6" d="M983.50 767h0.40"/>
<path stroke="#4430e0" d="M996.30 767h0.40"/>
<path stroke="#503ce6" d="M1009.10 767h0.40"/>
<path stroke="#4430e0" d="M1021.90 767h0.40"/>
<path stroke="#372ddc" d="M1034.70 767h0.40"/>
<path stroke="#f54642" d="M932.30 767h0.40"/>
<path stroke="#e6caf5" d="M945.10 772.4h0.40"/>
<path stroke="#6868f2" d="M957.90 772.4h0.40"/>
<path stroke="#503ce6" d="M970.70 772.4h13.20"/>
<path stroke="#5c48ec" d="M996.30 772.4h0.40"/>
<path stroke="#4430e0" d="M1009.10 772.4h0.40"/>
<path stroke="#372ddc" d="M1021.90 772.4h13.20"/>
<path stroke="#f54642" d="M932.30 772.4h0.40"/>
<path stroke="#e6caf5" d="M945.10 777.8h0.40"/>
<path stroke="#6868f2" d="M957.90 777.8h13.20"/>
<path stroke="#5c48ec" d="M983.50 777.8h13.20"/>
<path stroke="#503ce6" d="M1009.10 777.8h26.00"/>
<path stroke="#f54642" d="M932.30 777.8h0.40"/>
<path stroke="#e6caf5" d="M945.10 783.2h0.40"/>
<path stroke="#5c48ec" d="M957.90 783.2h0.40"/>
<path stroke="#503ce6" d="M970.70 783.2h26.00"/>
<path stroke="#4430e0" d="M1009.10 783.2h26.00"/>
<path stroke="#f54642" d="M932.30 783.2h0.40"/>
<path stroke="#e6caf5" d="M945.10 788.6h0.40"/>
<path stroke="#5c48ec" d="M957.90 788.6h0.40"/>
<path stroke="#4430e0" d="M970.70 788.6h13.20"/>
<path stroke="#372ddc" d="M996.30 788.6h38.80"/>
<path stroke="#f54642" d="M932.30 788.6h0.40"/>
<path stroke="#e6caf5" d="M945.10 794h0.40"/>
<path stroke="#5c48ec" d="M957.90 794h0.40"/>
<path stroke="#4430e0" d="M970.70 794h13.20"/>
<path stroke="#372ddc" d="M996.30 794h38.80"/>
<path stroke="#f54642" d="M932.30 794h0.40"/>
<path stroke="#e6caf5" d="M945.10 799.4h0.40"/>
<path stroke="#503ce6" d="M957.90 799.4h26.00"/>
<path stroke="#4430e0" d="M996.30 799.4h38.80"/>
<path stroke="#f54642" d="M932.30 799.4h0.40"/>
<path stroke="#e6caf5" d="M945.10 804.8h0.40"/>
<path stroke="#7880f6" d="M957.90 804.8h13.20"/>
<path stroke="#7074f4" d="M983.50 804.8h0.40"/>
<path stroke="#6868f2" d="M996.30 804.8h0.40"/>
<path stroke="#503ce6" d="M1009.10 804.8h13.20"/>
<path stroke="#4430e0" d="M1034.70 804.8h0.40"/>
<path stroke="#f54642" d="M932.30 804.8h0.40"/>
<path stroke="#e6caf5" d="M945.10 810.2h0.40"/>
<path stroke="#7880f6" d="M957.90 810.2h0.40"/>
<path stroke="#6868f2" d="M970.70 810.2h0.40"/>
<path stroke="#7880f6" d="M983.50 810.2h0.40"/>
<path stroke="#7074f4" d="M996.30 810.2h0.40"/>
<path stroke="#5c48ec" d="M1009.10 810.2h0.40"/>
<path stroke="#503ce6" d="M1021.90 810.2h13.20"/>
<path stroke="#f54642" d="M932.30 810.2h0.40"/>
<path stroke="#e6caf5" d="M945.10 815.6h0.40"/>
<path stroke="#6868f2" d="M957.90 815.6h13.20"/>
<path stroke="#6258ef" d="M983.50 815.6h0.40"/>
<path stroke="#503ce6" d="M996.30 815.6h0.40"/>
<path stroke="#372ddc" d="M1009.10 815.6h0.40"/>
<path stroke="#2a2ad8" d="M1021.90 815.6h13.20"/>
<path stroke="#f54642" d="M932.30 815.6h0.40"/>
<path stroke="#e6caf5" d="M945.10 821h0.40"/>
<path stroke="#6258ef" d="M957.90 821h13.20"/>
<path stroke="#5c48ec" d="M983.50 821h0.40"/>
<path stroke="#503ce6" d="M996.30 821h13.20"/>
<path stroke="#5c48ec" d="M1021.90 821h13.20"/>
<path stroke="#f54642" d="M932.30 821h0.40"/>
<path stroke="#e6caf5" d="M945.10 826.4h0.40"/>
<path stroke="#6258ef" d="M957.90 826.4h13.20"/>
<path stroke="#5c48ec" d="M983.50 826.4h0.40"/>
<path stroke="#503ce6" d="M996.30 826.4h13.20"/>
<path stroke="#5c48ec" d="M1021.90 826.4h13.20"/>
<path stroke="#f54642" d="M932.30 826.4h0.40"/>
<path stroke="#e6caf5" d="M945.10 831.8h0.40"/>
<path stroke="#7880f6" d="M957.90 831.8h0.40"/>
<path stroke="#7074f4" d="M970.70 831.8h26.00"/>
<path stroke="#5c48ec" d="M1009.10 831.8h26.00"/>
<path stroke="#f54642" d="M932.30 831.8h0.40"/>
<path stroke="#e6caf5" d="M945.10 837.2h0.40"/>
<path stroke="#8c90f8" d="M957.90 837.2h13.20"/>
<path stroke="#7880f6" d="M983.50 837.2h0.40"/>
<path stroke="#6868f2" d="M996.30 837.2h0.40"/>
<path stroke="#503ce6" d="M1009.10 837.2h26.00"/>
<path stroke="#f54642" d="M932.30 837.2h0.40"/>
<path stroke="#e6caf5" d="M945.10 842.6h0.40"/>
<path stroke="#7880f6" d="M957.90 842.6h0.40"/>
<path stroke="#7074f4" d="M970.70 842.6h13.20"/>
<path stroke="#6868f2" d="M996.30 842.6h0.40"/>
<path stroke="#5c48ec" d="M1009.10 842.6h26.00"/>
<path stroke="#f54642" d="M932.30 842.6h0.40"/>
<path stroke="#e6caf5" d="M945.10 848h0.40"/>
<path stroke="#a0a0fa" d="M957.90 848h0.40"/>
<path stroke="#8c90f8" d="M970.70 848h13.20"/>
<path stroke="#7880f6" d="M996.30 848h13.20"/>
<path stroke="#5c48ec" d="M1021.90 848h0.40"/>
<path stroke="#503ce6" d="M1034.70 848h0.40"/>
<path stroke="#f54642" d="M932.30 848h0.40"/>
<path stroke="#e6caf5" d="M945.10 853.4h0.40"/>
<path stroke="#7074f4" d="M957.90 853.4h0.40"/>
<path stroke="#6868f2" d="M970.70 853.4h13.20"/>
<path stroke="#6258ef" d="M996.30 853.4h0.40"/>
<path stroke="#5c48ec" d="M1009.10 853.4h13.20"/>
<path stroke="#503ce6" d="M1034.70 853.4h0.40"/>
<path stroke="#f54642" d="M932.30 853.4h0.40"/>
<path stroke="#e6caf5" d="M945.10 858.8h0.40"/>
<path stroke="#7074f4" d="M957.90 858.8h0.40"/>
<path stroke="#6868f2" d="M970.70 858.8h13.20"/>
<path stroke="#5c48ec" d="M996.30 858.8h13.20"/>
<path stroke="#503ce6" d="M1021.90 858.8h13.20"/>
<path stroke="#f54642" d="M932.30 858.8h0.40"/>
<path stroke="#e6caf5" d="M945.10 865.1h0.40"/>
<path stroke="#dcd4fa" d="M957.90 865.1h0.40"/>
<path stroke="#d6d2fb" d="M970.70 865.1h0.40"/>
<path stroke="#d0d0fc" d="M983.50 865.1h0.40"/>
<path stroke="#7880f6" d="M996.30 865.1h0.40"/>
<path stroke="#6258ef" d="M1009.10 865.1h13.20"/>
<path stroke="#7880f6" d="M1034.70 865.1h0.40"/>
<path stroke="#f54642" d="M932.30 865.1h0.40"/>
<path stroke="#e6caf5" d="M945.10 871.4h0.40"/>
<path stroke="#7880f6" d="M957.90 871.4h0.40"/>
<path stroke="#503ce6" d="M970.70 871.4h26.00"/>
<path stroke="#7074f4" d="M1009.10 871.4h26.00"/>
<path stroke="#f54642" d="M932.30 871.4h0.40"/>
<path stroke="#e6caf5" d="M945.10 876.8h0.40"/>
<path stroke="#8c90f8" d="M957.90 876.8h0.40"/>
<path stroke="#4430e0" d="M970.70 876.8h26.00"/>
<path stroke="#5c48ec" d="M1009.10 876.8h0.40"/>
<path stroke="#6868f2" d="M1021.90 876.8h13.20"/>
<path stroke="#f54642" d="M932.30 876.8h0.40"/>
<path stroke="#e6caf5" d="M945.10 882.2h0.40"/>
<path stroke="#7880f6" d="M957.90 882.2h0.40"/>
<path stroke="#5c48ec" d="M970.70 882.2h0.40"/>
<path stroke="#4430e0" d="M983.50 882.2h51.60"/>
<path stroke="#f54642" d="M932.30 882.2h0.40"/>
<path stroke="#e6caf5" d="M957.90 887.6h0.40"/>
<path stroke="#4430e0" d="M970.70 887.6h0.40"/>
<path stroke="#6258ef" d="M983.50 887.6h13.20"/>
<path stroke="#5c48ec" d="M1009.10 887.6h26.00"/>
<path stroke="#f54642" d="M932.30 887.6h13.20"/>
<path stroke="#e6caf5" d="M957.90 893h0.40"/>
<path stroke="#503ce6" d="M970.70 893h0.40"/>
<path stroke="#6868f2" d="M983.50 893h0.40"/>
<path stroke="#7880f6" d="M996.30 893h0.40"/>
<path stroke="#5c48ec" d="M1009.10 893h26.00"/>
<path stroke="#f54642" d="M932.30 893h13.20"/>
<path stroke="#e6caf5" d="M957.90 898.3h0.40"/>
<path stroke="#5c48ec" d="M970.70 898.3h0.40"/>
<path stroke="#7880f6" d="M983.50 898.3h0.40"/>
<path stroke="#7074f4" d="M996.30 898.3h0.40"/>
<path stroke="#7880f6" d="M1009.10 898.3h0.40"/>
<path stroke="#6258ef" d="M1021.90 898.3h13.20"/>
<path stroke="#f54642" d="M932.30 898.3h13.20"/>
<path stroke="#e6caf5" d="M957.90 903.7h0.40"/>
<path stroke="#a0a0fa" d="M970.70 903.7h26.00"/>
<path stroke="#7074f4" d="M1009.10 903.7h26.00"/>
<path stroke="#f54642" d="M932.30 903.7h13.20"/>
<path stroke="#e6caf5" d="M957.90 909.1h0.40"/>
<path stroke="#5c48ec" d="M970.70 909.1h0.40"/>
<path stroke="#503ce6" d="M983.50 909.1h0.40"/>
<path stroke="#4430e0" d="M996.30 909.1h0.40"/>
<path stroke="#5c48ec" d="M1009.10 909.1h26.00"/>
<path stroke="#f54642" d="M932.30 909.1h13.20"/>
<path stroke="#e6caf5" d="M957.90 914.5h0.40"/>
<path stroke="#7074f4" d="M970.70 914.5h0.40"/>
<path stroke="#503ce6" d="M983.50 914.5h0.40"/>
<path stroke="#5c48ec" d="M996.30 914.5h13.20"/>
<path stroke="#6258ef" d="M1021.90 914.5h13.20"/>
<path stroke="#f54642" d="M932.30 914.5h13.20"/>
<path stroke="#e6caf5" d="M957.90 919.9h0.40"/>
<path stroke="#6868f2" d="M970.70 919.9h0.40"/>
<path stroke="#4430e0" d="M983.50 919.9h0.40"/>
<path stroke="#503ce6" d="M996.30 919.9h0.40"/>
<path stroke="#4430e0" d="M1009.10 919.9h0.40"/>
<path stroke="#6868f2" d="M1021.90 919.9h0.40"/>
<path stroke="#7074f4" d="M1034.70 919.9h0.40"/>
<path stroke="#f54642" d="M932.30 919.9h13.20"/>
<path stroke="#e6caf5" d="M957.90 925.3h0.40"/>
<path stroke="#5c48ec" d="M970.70 925.3h0.40"/>
<path stroke="#503ce6" d="M983.50 925.3h0.40"/>
<path stroke="#4430e0" d="M996.30 925.3h0.40"/>
<path stroke="#6868f2" d="M1009.10 925.3h0.40"/>
<path stroke="#7880f6" d="M1021.90 925.3h13.20"/>
<path stroke="#f54642" d="M932.30 925.3h13.20"/>
<path stroke="#f4b4dc" d="M957.90 930.7h0.40"/>
<path stroke="#e6caf5" d="M970.70 930.7h0.40"/>
<path stroke="#dcd4fa" d="M983.50 930.7h0.40"/>
<path stroke="#d0d0fc" d="M996.30 930.7h0.40"/>
<path stroke="#7880f6" d="M1009.10 930.7h26.00"/>
<path stroke="#f54642" d="M932.30 930.7h13.20"/>
<path stroke="#f4b4dc" d="M957.90 936.1h0.40"/>
<path stroke="#dcd4fa" d="M970.70 936.1h0.40"/>
<path stroke="#d0d0fc" d="M983.50 936.1h0.40"/>
<path stroke="#8c90f8" d="M996.30 936.1h0.40"/>
<path stroke="#7880f6" d="M1009.10 936.1h26.00"/>
<path stroke="#f54642" d="M932.30 936.1h13.20"/>
<path stroke="#f4b4dc" d="M970.70 941.5h0.40"/>
<path stroke="#dcd4fa" d="M983.50 941.5h0.40"/>
<path stroke="#d0d0fc" d="M996.30 941.5h0.40"/>
<path stroke="#7880f6" d="M1009.10 941.5h26.00"/>
<path stroke="#f54642" d="M932.30 941.5h26.00"/>
<path stroke="#f4b4dc" d="M970.70 946.9h0.40"/>
<path stroke="#dcd4fa" d="M983.50 946.9h0.40"/>
<path stroke="#d0d0fc" d="M996.30 946.9h0.40"/>
<path stroke="#7880f6" d="M1009.10 946.9h0.40"/>
<path stroke="#6258ef" d="M1021.90 946.9h0.40"/>
<path stroke="#7880f6" d="M1034.70 946.9h0.40"/>
<path stroke="#f54642" d="M932.30 946.9h26.00"/>
<path stroke="#f4b4dc" d="M970.70 952.3h0.40"/>
<path stroke="#dcd4fa" d="M983.50 952.3h0.40"/>
<path stroke="#d0d0fc" d="M996.30 952.3h0.40"/>
<path stroke="#7880f6" d="M1009.10 952.3h0.40"/>
<path stroke="#b2b0fb" d="M1021.90 952.3h13.20"/>
<path stroke="#f54642" d="M932.30 952.3h26.00"/>
<path stroke="#f4b4dc" d="M970.70 957.7h0.40"/>
<path stroke="#dcd4fa" d="M983.50 957.7h0.40"/>
<path stroke="#d0d0fc" d="M996.30 957.7h0.40"/>
<path stroke="#6868f2" d="M1009.10 957.7h0.40"/>
<path stroke="#b2b0fb" d="M1021.90 957.7h13.20"/>
<path stroke="#f54642" d="M932.30 957.7h26.00"/>
<path stroke="#f4b4dc" d="M970.70 962.2h0.40"/>
<path stroke="#dcd4fa" d="M983.50 962.2h0.40"/>
<path stroke="#d0d0fc" d="M996.30 962.2h0.40"/>
<path stroke="#a0a0fa" d="M1009.10 962.2h0.40"/>
<path stroke="#7074f4" d="M1021.90 962.2h0.40"/>
<path stroke="#b2b0fb" d="M1034.70 962.2h0.40"/>
<path stroke="#f54642" d="M932.30 962.2h26.00"/>
<path stroke="#f54642" d="M932.30 966.7h77.20"/>
<path stroke="#f54642" d="M932.30 972.1h77.20"/>
<path stroke="#f54642" d="M932.30 977.5h77.20"/>
<path stroke="#f54642" d="M932.30 982h77.20"/>
<path stroke="#f54642" d="M932.30 985.2h77.20"/>
</g>
<path stroke-width="17.2" stroke-linecap="round" fill="none" stroke="#f54642" d="M931 680.7h2.6M931 686.1h2.6M931 691.5h2.6M931 696.9h2.6M931 702.3h2.6M931 707.7h2.6M931 713.1h2.6M931 718.5h2.6M931 723.8h2.6M931 729.2h2.6M931 734.6h2.6M931 740h2.6M931 745.4h2.6M931 750.8h2.6M931 756.2h2.6M931 761.6h2.6M931 767h2.6M931 772.4h2.6M931 777.8h2.6M931 783.2h2.6M931 788.6h2.6M931 794h2.6M931 799.4h2.6M931 804.8h2.6M931 810.2h2.6M931 815.6h2.6M931 821h2.6M931 826.4h2.6M931 831.8h2.6M931 837.2h2.6M931 842.6h2.6M931 848h2.6M931 853.4h2.6M931 858.8h2.6M931 865.1h2.6M931 871.4h2.6M931 876.8h2.6M931 882.2h2.6M931 887.6h2.6M931 893h2.6M931 898.3h2.6M931 903.7h2.6M931 909.1h2.6M931 914.5h2.6M931 919.9h2.6M931 925.3h2.6M931 930.7h2.6M931 936.1h2.6M931 941.5h2.6M931 946.9h2.6M931 952.3h2.6M931 957.7h2.6M931 962.2h2.6M931 966.7h2.6M931 972.1h2.6M931 977.5h2.6M931 982h2.6M931 985.2h2.6"/>
<g stroke-width="17.2" stroke-linecap="round" fill="none" stroke-dasharray="0 12.780">
<path stroke="#b2b0fb" d="M174.18 1235h0.40"/>
<path stroke="#7074f4" d="M186.96 1235h0.40"/>
<path stroke="#5c48ec" d="M199.74 1235h0.40"/>
<path stroke="#503ce6" d="M212.52 1235h0.40"/>
<path stroke="#4430e0" d="M225.30 1235h0.40"/>
<path stroke="#372ddc" d="M238.08 1235h0.40"/>
<path stroke="#2a2ad8" d="M250.86 1235h13.18"/>
<path stroke="#2328d4" d="M276.42 1235h13.18"/>
<path stroke="#1c26d0" d="M301.98 1235h64.30"/>
<path stroke="#1c24cc" d="M378.66 1235h89.86"/>
<path stroke="#d0d0fc" d="M161.40 1235h0.40"/>
<path stroke="#b2b0fb" d="M174.18 1239.7h0.40"/>
<path stroke="#7074f4" d="M186.96 1239.7h0.40"/>
<path stroke="#5c48ec" d="M199.74 1239.7h0.40"/>
<path stroke="#503ce6" d="M212.52 1239.7h0.40"/>
<path stroke="#4430e0" d="M225.30 1239.7h0.40"/>
<path stroke="#372ddc" d="M238.08 1239.7h13.18"/>
<path stroke="#2a2ad8" d="M263.64 1239.7h0.40"/>
<path stroke="#2328d4" d="M276.42 1239.7h25.96"/>
<path stroke="#1c26d0" d="M314.76 1239.7h115.42"/>
<path stroke="#1c24cc" d="M442.56 1239.7h25.96"/>
<path stroke="#d0d0fc" d="M161.40 1239.7h0.40"/>
<path stroke="#b2b0fb" d="M174.18 1244h0.40"/>
<path stroke="#7074f4" d="M186.96 1244h0.40"/>
<path stroke="#5c48ec" d="M199.74 1244h0.40"/>
<path stroke="#503ce6" d="M212.52 1244h0.40"/>
<path stroke="#4430e0" d="M225.30 1244h0.40"/>
<path stroke="#372ddc" d="M238.08 1244h13.18"/>
<path stroke="#2a2ad8" d="M263.64 1244h0.40"/>
<path stroke="#2328d4" d="M276.42 1244h25.96"/>
<path stroke="#1c26d0" d="M314.76 1244h89.86"/>
<path stroke="#1c24cc" d="M417.00 1244h51.52"/>
<path stroke="#d0d0fc" d="M161.40 1244h0.40"/>
<path stroke="#7074f4" d="M174.18 1248.8h0.40"/>
<path stroke="#2328d4" d="M186.96 1248.8h0.40"/>
<path stroke="#1c26d0" d="M199.74 1248.8h64.30"/>
<path stroke="#1c24cc" d="M276.42 1248.8h140.98"/>
<path stroke="#1c22c8" d="M429.78 1248.8h38.74"/>
<path stroke="#d0d0fc" d="M161.40 1248.8h0.40"/>
<path stroke="#8c90f8" d="M174.18 1253.6h0.40"/>
<path stroke="#372ddc" d="M186.96 1253.6h0.40"/>
<path stroke="#2328d4" d="M199.74 1253.6h77.08"/>
<path stroke="#1c26d0" d="M289.20 1253.6h153.76"/>
<path stroke="#1c24cc" d="M455.34 1253.6h13.18"/>
<path stroke="#d0d0fc" d="M161.40 1253.6h0.40"/>
<path stroke="#7880f6" d="M174.18 1258.3h0.40"/>
<path stroke="#2a2ad8" d="M186.96 1258.3h0.40"/>
<path stroke="#2328d4" d="M199.74 1258.3h51.52"/>
<path stroke="#1c26d0" d="M263.64 1258.3h140.98"/>
<path stroke="#1c24cc" d="M417.00 1258.3h51.52"/>
<path stroke="#d0d0fc" d="M161.40 1258.3h0.40"/>
<path stroke="#7880f6" d="M174.18 1263.1h0.40"/>
<path stroke="#2a2ad8" d="M186.96 1263.1h0.40"/>
<path stroke="#1c26d0" d="M199.74 1263.1h128.20"/>
<path stroke="#1c24cc" d="M340.32 1263.1h128.20"/>
<path stroke="#d0d0fc" d="M161.40 1263.1h0.40"/>
<path stroke="#c4c0fc" d="M174.18 1267.9h0.40"/>
<path stroke="#7074f4" d="M186.96 1267.9h0.40"/>
<path stroke="#5c48ec" d="M199.74 1267.9h0.40"/>
<path stroke="#503ce6" d="M212.52 1267.9h0.40"/>
<path stroke="#4430e0" d="M225.30 1267.9h0.40"/>
<path stroke="#372ddc" d="M238.08 1267.9h0.40"/>
<path stroke="#2a2ad8" d="M250.86 1267.9h0.40"/>
<path stroke="#2328d4" d="M263.64 1267.9h13.18"/>
<path stroke="#1c26d0" d="M289.20 1267.9h77.08"/>
<path stroke="#1c24cc" d="M378.66 1267.9h89.86"/>
<path stroke="#d0d0fc" d="M161.40 1267.9h0.40"/>
<path stroke="#c4c0fc" d="M174.18 1272.7h0.40"/>
<path stroke="#6868f2" d="M186.96 1272.7h0.40"/>
<path stroke="#503ce6" d="M199.74 1272.7h0.40"/>
<path stroke="#4430e0" d="M212.52 1272.7h0.40"/>
<path stroke="#372ddc" d="M225.30 1272.7h0.40"/>
<path stroke="#2a2ad8" d="M238.08 1272.7h0.40"/>
<path stroke="#2328d4" d="M250.86 1272.7h0.40"/>
<path stroke="#1c26d0" d="M263.64 1272.7h13.18"/>
<path stroke="#1c24cc" d="M289.20 1272.7h115.42"/>
<path stroke="#1c22c8" d="M417.00 1272.7h51.52"/>
<path stroke="#d0d0fc" d="M161.40 1272.7h0.40"/>
<path stroke="#c4c0fc" d="M174.18 1277.5h0.40"/>
<path stroke="#7880f6" d="M186.96 1277.5h0.40"/>
<path stroke="#5c48ec" d="M199.74 1277.5h0.40"/>
<path stroke="#503ce6" d="M212.52 1277.5h0.40"/>
<path stroke="#4430e0" d="M225.30 1277.5h0.40"/>
<path stroke="#372ddc" d="M238.08 1277.5h0.40"/>
<path stroke="#2a2ad8" d="M250.86 1277.5h0.40"/>
<path stroke="#2328d4" d="M263.64 1277.5h13.18"/>
<path stroke="#1c26d0" d="M289.20 1277.5h51.52"/>
<path stroke="#1c24cc" d="M353.10 1277.5h115.42"/>
<path stroke="#d0d0fc" d="M161.40 1277.5h0.40"/>
<path stroke="#c4c0fc" d="M174.18 1282.3h0.40"/>
<path stroke="#7074f4" d="M186.96 1282.3h0.40"/>
<path stroke="#5c48ec" d="M199.74 1282.3h0.40"/>
<path stroke="#503ce6" d="M212.52 1282.3h0.40"/>
<path stroke="#4430e0" d="M225.30 1282.3h0.40"/>
<path stroke="#372ddc" d="M238.08 1282.3h0.40"/>
<path stroke="#2a2ad8" d="M250.86 1282.3h0.40"/>
<path stroke="#2328d4" d="M263.64 1282.3h0.40"/>
<path stroke="#1c26d0" d="M276.42 1282.3h115.42"/>
<path stroke="#1c24cc" d="M404.22 1282.3h64.30"/>
<path stroke="#d0d0fc" d="M161.40 1282.3h0.40"/>
<path stroke="#c4c0fc" d="M174.18 1287h0.40"/>
<path stroke="#7074f4" d="M186.96 1287h0.40"/>
<path stroke="#5c48ec" d="M199.74 1287h0.40"/>
<path stroke="#503ce6" d="M212.52 1287h0.40"/>
<path stroke="#4430e0" d="M225.30 1287h0.40"/>
<path stroke="#2a2ad8" d="M238.08 1287h13.18"/>
<path stroke="#2328d4" d="M263.64 1287h0.40"/>
<path stroke="#1c26d0" d="M276.42 1287h115.42"/>
<path stroke="#1c24cc" d="M404.22 1287h64.30"/>
<path stroke="#d0d0fc" d="M161.40 1287h0.40"/>
<path stroke="#c4c0fc" d="M174.18 1291.8h0.40"/>
<path stroke="#6868f2" d="M186.96 1291.8h0.40"/>
<path stroke="#5c48ec" d="M199.74 1291.8h0.40"/>
<path stroke="#503ce6" d="M212.52 1291.8h0.40"/>
<path stroke="#4430e0" d="M225.30 1291.8h0.40"/>
<path stroke="#2a2ad8" d="M238.08 1291.8h0.40"/>
<path stroke="#2328d4" d="M250.86 1291.8h13.18"/>
<path stroke="#1c26d0" d="M276.42 1291.8h77.08"/>
<path stroke="#1c24cc" d="M365.88 1291.8h102.64"/>
<path stroke="#d0d0fc" d="M161.40 1291.8h0.40"/>
<path stroke="#c4c0fc" d="M174.18 1296.6h0.40"/>
<path stroke="#7074f4" d="M186.96 1296.6h0.40"/>
<path stroke="#5c48ec" d="M199.74 1296.6h0.40"/>
<path stroke="#503ce6" d="M212.52 1296.6h0.40"/>
<path stroke="#4430e0" d="M225.30 1296.6h0.40"/>
<path stroke="#372ddc" d="M238.08 1296.6h0.40"/>
<path stroke="#2a2ad8" d="M250.86 1296.6h0.40"/>
<path stroke="#2328d4" d="M263.64 1296.6h0.40"/>
<path stroke="#1c26d0" d="M276.42 1296.6h13.18"/>
<path stroke="#1c24cc" d="M301.98 1296.6h140.98"/>
<path stroke="#1c22c8" d="M455.34 1296.6h13.18"/>
<path stroke="#d0d0fc" d="M161.40 1296.6h0.40"/>
<path stroke="#c4c0fc" d="M174.18 1301.4h0.40"/>
<path stroke="#6868f2" d="M186.96 1301.4h0.40"/>
<path stroke="#503ce6" d="M199.74 1301.4h0.40"/>
<path stroke="#4430e0" d="M212.52 1301.4h0.40"/>
<path stroke="#372ddc" d="M225.30 1301.4h0.40"/>
<path stroke="#2a2ad8" d="M238.08 1301.4h0.40"/>
<path stroke="#2328d4" d="M250.86 1301.4h0.40"/>
<path stroke="#1c26d0" d="M263.64 1301.4h38.74"/>
<path stroke="#1c24cc" d="M314.76 1301.4h115.42"/>
<path stroke="#1c22c8" d="M442.56 1301.4h25.96"/>
<path stroke="#d0d0fc" d="M161.40 1301.4h0.40"/>
<path stroke="#c4c0fc" d="M174.18 1306.2h0.40"/>
<path stroke="#7880f6" d="M186.96 1306.2h0.40"/>
<path stroke="#6258ef" d="M199.74 1306.2h0.40"/>
<path stroke="#5c48ec" d="M212.52 1306.2h0.40"/>
<path stroke="#503ce6" d="M225.30 1306.2h0.40"/>
<path stroke="#4430e0" d="M238.08 1306.2h0.40"/>
<path stroke="#372ddc" d="M250.86 1306.2h0.40"/>
<path stroke="#2a2ad8" d="M263.64 1306.2h13.18"/>
<path stroke="#2328d4" d="M289.20 1306.2h25.96"/>
<path stroke="#1c26d0" d="M327.54 1306.2h140.98"/>
<path stroke="#d0d0fc" d="M161.40 1306.2h0.40"/>
<path stroke="#c4c0fc" d="M174.18 1311h0.40"/>
<path stroke="#7880f6" d="M186.96 1311h0.40"/>
<path stroke="#6258ef" d="M199.74 1311h0.40"/>
<path stroke="#503ce6" d="M212.52 1311h0.40"/>
<path stroke="#4430e0" d="M225.30 1311h0.40"/>
<path stroke="#372ddc" d="M238.08 1311h0.40"/>
<path stroke="#2a2ad8" d="M250.86 1311h0.40"/>
<path stroke="#2328d4" d="M263.64 1311h13.18"/>
<path stroke="#1c26d0" d="M289.20 1311h51.52"/>
<path stroke="#1c24cc" d="M353.10 1311h115.42"/>
<path stroke="#d0d0fc" d="M161.40 1311h0.40"/>
<path stroke="#c4c0fc" d="M174.18 1315.2h0.40"/>
<path stroke="#7880f6" d="M186.96 1315.2h0.40"/>
<path stroke="#5c48ec" d="M199.74 1315.2h0.40"/>
<path stroke="#503ce6" d="M212.52 1315.2h0.40"/>
<path stroke="#4430e0" d="M225.30 1315.2h0.40"/>
<path stroke="#372ddc" d="M238.08 1315.2h0.40"/>
<path stroke="#2a2ad8" d="M250.86 1315.2h0.40"/>
<path stroke="#2328d4" d="M263.64 1315.2h13.18"/>
<path stroke="#1c26d0" d="M289.20 1315.2h89.86"/>
<path stroke="#1c24cc" d="M391.44 1315.2h77.08"/>
<path stroke="#d0d0fc" d="M161.40 1315.2h0.40"/>
<path stroke="#c4c0fc" d="M174.18 1320h0.40"/>
<path stroke="#8c90f8" d="M186.96 1320h0.40"/>
<path stroke="#6258ef" d="M199.74 1320h0.40"/>
<path stroke="#503ce6" d="M212.52 1320h13.18"/>
<path stroke="#4430e0" d="M238.08 1320h0.40"/>
<path stroke="#372ddc" d="M250.86 1320h0.40"/>
<path stroke="#2a2ad8" d="M263.64 1320h0.40"/>
<path stroke="#2328d4" d="M276.42 1320h13.18"/>
<path stroke="#1c26d0" d="M301.98 1320h38.74"/>
<path stroke="#1c24cc" d="M353.10 1320h115.42"/>
<path stroke="#d0d0fc" d="M161.40 1320h0.40"/>
<path stroke="#c4c0fc" d="M174.18 1324.8h0.40"/>
<path stroke="#8c90f8" d="M186.96 1324.8h0.40"/>
<path stroke="#6868f2" d="M199.74 1324.8h0.40"/>
<path stroke="#5c48ec" d="M212.52 1324.8h0.40"/>
<path stroke="#503ce6" d="M225.30 1324.8h13.18"/>
<path stroke="#4430e0" d="M250.86 1324.8h0.40"/>
<path stroke="#372ddc" d="M263.64 1324.8h0.40"/>
<path stroke="#2a2ad8" d="M276.42 1324.8h0.40"/>
<path stroke="#2328d4" d="M289.20 1324.8h13.18"/>
<path stroke="#1c26d0" d="M314.76 1324.8h140.98"/>
<path stroke="#1c24cc" d="M468.12 1324.8h0.40"/>
<path stroke="#d0d0fc" d="M161.40 1324.8h0.40"/>
<path stroke="#c4c0fc" d="M174.18 1329.6h0.40"/>
<path stroke="#7880f6" d="M186.96 1329.6h0.40"/>
<path stroke="#5c48ec" d="M199.74 1329.6h13.18"/>
<path stroke="#503ce6" d="M225.30 1329.6h0.40"/>
<path stroke="#4430e0" d="M238.08 1329.6h0.40"/>
<path stroke="#372ddc" d="M250.86 1329.6h0.40"/>
<path stroke="#2a2ad8" d="M263.64 1329.6h0.40"/>
<path stroke="#2328d4" d="M276.42 1329.6h13.18"/>
<path stroke="#1c26d0" d="M301.98 1329.6h140.98"/>
<path stroke="#1c24cc" d="M455.34 1329.6h13.18"/>
<path stroke="#d0d0fc" d="M161.40 1329.6h0.40"/>
<path stroke="#c4c0fc" d="M174.18 1334.4h0.40"/>
<path stroke="#7074f4" d="M186.96 1334.4h0.40"/>
<path stroke="#5c48ec" d="M199.74 1334.4h0.40"/>
<path stroke="#503ce6" d="M212.52 1334.4h0.40"/>
<path stroke="#4430e0" d="M225.30 1334.4h0.40"/>
<path stroke="#372ddc" d="M238.08 1334.4h0.40"/>
<path stroke="#2a2ad8" d="M250.86 1334.4h0.40"/>
<path stroke="#2328d4" d="M263.64 1334.4h13.18"/>
<path stroke="#1c26d0" d="M289.20 1334.4h51.52"/>
<path stroke="#1c24cc" d="M353.10 1334.4h115.42"/>
<path stroke="#d0d0fc" d="M161.40 1334.4h0.40"/>
<path stroke="#c4c0fc" d="M174.18 1339.1h0.40"/>
<path stroke="#7074f4" d="M186.96 1339.1h0.40"/>
<path stroke="#503ce6" d="M199.74 1339.1h13.18"/>
<path stroke="#4430e0" d="M225.30 1339.1h0.40"/>
<path stroke="#372ddc" d="M238.08 1339.1h0.40"/>
<path stroke="#2328d4" d="M250.86 1339.1h13.18"/>
<path stroke="#1c26d0" d="M276.42 1339.1h13.18"/>
<path stroke="#1c24cc" d="M301.98 1339.1h166.54"/>
<path stroke="#d0d0fc" d="M161.40 1339.1h0.40"/>
<path stroke="#c4c0fc" d="M174.18 1343.9h0.40"/>
<path stroke="#7880f6" d="M186.96 1343.9h0.40"/>
<path stroke="#5c48ec" d="M199.74 1343.9h0.40"/>
<path stroke="#503ce6" d="M212.52 1343.9h13.18"/>
<path stroke="#4430e0" d="M238.08 1343.9h0.40"/>
<path stroke="#372ddc" d="M250.86 1343.9h0.40"/>
<path stroke="#2a2ad8" d="M263.64 1343.9h0.40"/>
<path stroke="#2328d4" d="M276.42 1343.9h0.40"/>
<path stroke="#1c26d0" d="M289.20 1343.9h51.52"/>
<path stroke="#1c24cc" d="M353.10 1343.9h115.42"/>
<path stroke="#d0d0fc" d="M161.40 1343.9h0.40"/>
<path stroke="#c4c0fc" d="M174.18 1348.7h0.40"/>
<path stroke="#7880f6" d="M186.96 1348.7h0.40"/>
<path stroke="#5c48ec" d="M199.74 1348.7h0.40"/>
<path stroke="#503ce6" d="M212.52 1348.7h0.40"/>
<path stroke="#4430e0" d="M225.30 1348.7h13.18"/>
<path stroke="#372ddc" d="M250.86 1348.7h0.40"/>
<path stroke="#2a2ad8" d="M263.64 1348.7h0.40"/>
<path stroke="#2328d4" d="M276.42 1348.7h0.40"/>
<path stroke="#1c26d0" d="M289.20 1348.7h13.18"/>
<path stroke="#1c24cc" d="M314.76 1348.7h153.76"/>
<path stroke="#d0d0fc" d="M161.40 1348.7h0.40"/>
<path stroke="#c4c0fc" d="M174.18 1353.5h0.40"/>
<path stroke="#7074f4" d="M186.96 1353.5h0.40"/>
<path stroke="#5c48ec" d="M199.74 1353.5h0.40"/>
<path stroke="#503ce6" d="M212.52 1353.5h0.40"/>
<path stroke="#4430e0" d="M225.30 1353.5h13.18"/>
<path stroke="#2a2ad8" d="M250.86 1353.5h0.40"/>
<path stroke="#2328d4" d="M263.64 1353.5h13.18"/>
<path stroke="#1c26d0" d="M289.20 1353.5h51.52"/>
<path stroke="#1c24cc" d="M353.10 1353.5h115.42"/>
<path stroke="#d0d0fc" d="M161.40 1353.5h0.40"/>
<path stroke="#a0a0fa" d="M174.18 1358.3h25.96"/>
<path stroke="#8c90f8" d="M212.52 1358.3h13.18"/>
<path stroke="#372ddc" d="M238.08 1358.3h0.40"/>
<path stroke="#2a2ad8" d="M250.86 1358.3h25.96"/>
<path stroke="#2328d4" d="M289.20 1358.3h25.96"/>
<path stroke="#1c26d0" d="M327.54 1358.3h140.98"/>
<path stroke="#d0d0fc" d="M161.40 1358.3h0.40"/>
<path stroke="#a0a0fa" d="M174.18 1363.1h0.40"/>
<path stroke="#8c90f8" d="M186.96 1363.1h25.96"/>
<path stroke="#7880f6" d="M225.30 1363.1h0.40"/>
<path stroke="#2a2ad8" d="M238.08 1363.1h13.18"/>
<path stroke="#2328d4" d="M263.64 1363.1h25.96"/>
<path stroke="#1c26d0" d="M301.98 1363.1h64.30"/>
<path stroke="#1c24cc" d="M378.66 1363.1h89.86"/>
<path stroke="#d0d0fc" d="M161.40 1363.1h0.40"/>
<path stroke="#a0a0fa" d="M174.18 1367.8h13.18"/>
<path stroke="#8c90f8" d="M199.74 1367.8h13.18"/>
<path stroke="#5c48ec" d="M225.30 1367.8h0.40"/>
<path stroke="#2a2ad8" d="M238.08 1367.8h13.18"/>
<path stroke="#2328d4" d="M263.64 1367.8h25.96"/>
<path stroke="#1c26d0" d="M301.98 1367.8h115.42"/>
<path stroke="#1c24cc" d="M429.78 1367.8h38.74"/>
<path stroke="#d0d0fc" d="M161.40 1367.8h0.40"/>
<path stroke="#b2b0fb" d="M174.18 1372.6h0.40"/>
<path stroke="#a0a0fa" d="M186.96 1372.6h13.18"/>
<path stroke="#8c90f8" d="M212.52 1372.6h0.40"/>
<path stroke="#5c48ec" d="M225.30 1372.6h0.40"/>
<path stroke="#2a2ad8" d="M238.08 1372.6h25.96"/>
<path stroke="#2328d4" d="M276.42 1372.6h38.74"/>
<path stroke="#1c26d0" d="M327.54 1372.6h140.98"/>
<path stroke="#d0d0fc" d="M161.40 1372.6h0.40"/>
<path stroke="#8c90f8" d="M174.18 1377.4h0.40"/>
<path stroke="#6868f2" d="M186.96 1377.4h0.40"/>
<path stroke="#6258ef" d="M199.74 1377.4h64.30"/>
<path stroke="#5c48ec" d="M276.42 1377.4h51.52"/>
<path stroke="#4430e0" d="M340.32 1377.4h0.40"/>
<path stroke="#2a2ad8" d="M353.10 1377.4h0.40"/>
<path stroke="#2328d4" d="M365.88 1377.4h64.30"/>
<path stroke="#1c26d0" d="M442.56 1377.4h25.96"/>
<path stroke="#d0d0fc" d="M161.40 1377.4h0.40"/>
<path stroke="#7880f6" d="M174.18 1382.2h0.40"/>
<path stroke="#6258ef" d="M186.96 1382.2h0.40"/>
<path stroke="#5c48ec" d="M199.74 1382.2h77.08"/>
<path stroke="#503ce6" d="M289.20 1382.2h38.74"/>
<path stroke="#372ddc" d="M340.32 1382.2h0.40"/>
<path stroke="#2328d4" d="M353.10 1382.2h0.40"/>
<path stroke="#1c26d0" d="M365.88 1382.2h77.08"/>
<path stroke="#1c24cc" d="M455.34 1382.2h13.18"/>
<path stroke="#d0d0fc" d="M161.40 1382.2h0.40"/>
<path stroke="#8c90f8" d="M174.18 1387h0.40"/>
<path stroke="#6258ef" d="M186.96 1387h25.96"/>
<path stroke="#5c48ec" d="M225.30 1387h77.08"/>
<path stroke="#503ce6" d="M314.76 1387h0.40"/>
<path stroke="#4430e0" d="M327.54 1387h0.40"/>
<path stroke="#2a2ad8" d="M340.32 1387h0.40"/>
<path stroke="#2328d4" d="M353.10 1387h13.18"/>
<path stroke="#1c26d0" d="M378.66 1387h89.86"/>
<path stroke="#d0d0fc" d="M161.40 1387h0.40"/>
<path stroke="#8c90f8" d="M174.18 1391.8h0.40"/>
<path stroke="#7074f4" d="M186.96 1391.8h0.40"/>
<path stroke="#5c48ec" d="M199.74 1391.8h0.40"/>
<path stroke="#503ce6" d="M212.52 1391.8h0.40"/>
<path stroke="#372ddc" d="M225.30 1391.8h0.40"/>
<path stroke="#2a2ad8" d="M238.08 1391.8h51.52"/>
<path stroke="#2328d4" d="M301.98 1391.8h13.18"/>
<path stroke="#1c26d0" d="M327.54 1391.8h0.40"/>
<path stroke="#1c24cc" d="M340.32 1391.8h128.20"/>
<path stroke="#d0d0fc" d="M161.40 1391.8h0.40"/>
<path stroke="#a0a0fa" d="M174.18 1396.5h0.40"/>
<path stroke="#7880f6" d="M186.96 1396.5h0.40"/>
<path stroke="#6258ef" d="M199.74 1396.5h0.40"/>
<path stroke="#5c48ec" d="M212.52 1396.5h0.40"/>
<path stroke="#503ce6" d="M225.30 1396.5h0.40"/>
<path stroke="#4430e0" d="M238.08 1396.5h0.40"/>
<path stroke="#2a2ad8" d="M250.86 1396.5h89.86"/>
<path stroke="#2328d4" d="M353.10 1396.5h0.40"/>
<path stroke="#1c26d0" d="M365.88 1396.5h25.96"/>
<path stroke="#1c24cc" d="M404.22 1396.5h64.30"/>
<path stroke="#d0d0fc" d="M161.40 1396.5h0.40"/>
<path stroke="#b2b0fb" d="M174.18 1401.3h0.40"/>
<path stroke="#7880f6" d="M186.96 1401.3h0.40"/>
<path stroke="#6258ef" d="M199.74 1401.3h0.40"/>
<path stroke="#4430e0" d="M212.52 1401.3h0.40"/>
<path stroke="#2a2ad8" d="M225.30 1401.3h0.40"/>
<path stroke="#2328d4" d="M238.08 1401.3h38.74"/>
<path stroke="#1c26d0" d="M289.20 1401.3h115.42"/>
<path stroke="#1c24cc" d="M417.00 1401.3h51.52"/>
<path stroke="#d0d0fc" d="M161.40 1401.3h0.40"/>
<path stroke="#b2b0fb" d="M174.18 1406.1h0.40"/>
<path stroke="#8c90f8" d="M186.96 1406.1h0.40"/>
<path stroke="#6868f2" d="M199.74 1406.1h0.40"/>
<path stroke="#5c48ec" d="M212.52 1406.1h0.40"/>
<path stroke="#372ddc" d="M225.30 1406.1h0.40"/>
<path stroke="#2a2ad8" d="M238.08 1406.1h25.96"/>
<path stroke="#2328d4" d="M276.42 1406.1h128.20"/>
<path stroke="#1c26d0" d="M417.00 1406.1h51.52"/>
<path stroke="#d0d0fc" d="M161.40 1406.1h0.40"/>
<path stroke="#b2b0fb" d="M174.18 1410.9h0.40"/>
<path stroke="#7074f4" d="M186.96 1410.9h0.40"/>
<path stroke="#5c48ec" d="M199.74 1410.9h0.40"/>
<path stroke="#372ddc" d="M212.52 1410.9h0.40"/>
<path stroke="#2328d4" d="M225.30 1410.9h64.30"/>
<path stroke="#1c26d0" d="M301.98 1410.9h102.64"/>
<path stroke="#1c24cc" d="M417.00 1410.9h51.52"/>
<path stroke="#d0d0fc" d="M161.40 1410.9h0.40"/>
<path stroke="#b2b0fb" d="M174.18 1415.7h0.40"/>
<path stroke="#7880f6" d="M186.96 1415.7h0.40"/>
<path stroke="#6258ef" d="M199.74 1415.7h0.40"/>
<path stroke="#503ce6" d="M212.52 1415.7h0.40"/>
<path stroke="#2a2ad8" d="M225.30 1415.7h0.40"/>
<path stroke="#2328d4" d="M238.08 1415.7h102.64"/>
<path stroke="#1c26d0" d="M353.10 1415.7h102.64"/>
<path stroke="#1c24cc" d="M468.12 1415.7h0.40"/>
<path stroke="#d0d0fc" d="M161.40 1415.7h0.40"/>
<path stroke="#b2b0fb" d="M174.18 1420.5h0.40"/>
<path stroke="#7880f6" d="M186.96 1420.5h0.40"/>
<path stroke="#6258ef" d="M199.74 1420.5h0.40"/>
<path stroke="#4430e0" d="M212.52 1420.5h0.40"/>
<path stroke="#2a2ad8" d="M225.30 1420.5h0.40"/>
<path stroke="#2328d4" d="M238.08 1420.5h25.96"/>
<path stroke="#1c26d0" d="M276.42 1420.5h115.42"/>
<path stroke="#1c24cc" d="M404.22 1420.5h64.30"/>
<path stroke="#d0d0fc" d="M161.40 1420.5h0.40"/>
<path stroke="#cac8fc" d="M174.18 1425.2h0.40"/>
<path stroke="#b2b0fb" d="M186.96 1425.2h0.40"/>
<path stroke="#7880f6" d="M199.74 1425.2h0.40"/>
<path stroke="#6868f2" d="M212.52 1425.2h0.40"/>
<path stroke="#6258ef" d="M225.30 1425.2h0.40"/>
<path stroke="#5c48ec" d="M238.08 1425.2h25.96"/>
<path stroke="#503ce6" d="M276.42 1425.2h38.74"/>
<path stroke="#4430e0" d="M327.54 1425.2h0.40"/>
<path stroke="#372ddc" d="M340.32 1425.2h0.40"/>
<path stroke="#2a2ad8" d="M353.10 1425.2h0.40"/>
<path stroke="#2328d4" d="M365.88 1425.2h102.64"/>
<path stroke="#d0d0fc" d="M161.40 1425.2h0.40"/>
<path stroke="#cac8fc" d="M174.18 1430h0.40"/>
<path stroke="#b2b0fb" d="M186.96 1430h0.40"/>
<path stroke="#7880f6" d="M199.74 1430h0.40"/>
<path stroke="#6258ef" d="M212.52 1430h0.40"/>
<path stroke="#5c48ec" d="M225.30 1430h0.40"/>
<path stroke="#503ce6" d="M238.08 1430h25.96"/>
<path stroke="#4430e0" d="M276.42 1430h51.52"/>
<path stroke="#372ddc" d="M340.32 1430h0.40"/>
<path stroke="#2328d4" d="M353.10 1430h0.40"/>
<path stroke="#1c26d0" d="M365.88 1430h102.64"/>
<path stroke="#d0d0fc" d="M161.40 1430h0.40"/>
<path stroke="#cac8fc" d="M174.18 1434.8h0.40"/>
<path stroke="#a0a0fa" d="M186.96 1434.8h0.40"/>
<path stroke="#6868f2" d="M199.74 1434.8h0.40"/>
<path stroke="#5c48ec" d="M212.52 1434.8h0.40"/>
<path stroke="#503ce6" d="M225.30 1434.8h25.96"/>
<path stroke="#4430e0" d="M263.64 1434.8h38.74"/>
<path stroke="#372ddc" d="M314.76 1434.8h0.40"/>
<path stroke="#2328d4" d="M327.54 1434.8h0.40"/>
<path stroke="#1c26d0" d="M340.32 1434.8h128.20"/>
<path stroke="#d0d0fc" d="M161.40 1434.8h0.40"/>
<path stroke="#cac8fc" d="M174.18 1439.6h0.40"/>
<path stroke="#b2b0fb" d="M186.96 1439.6h0.40"/>
<path stroke="#7880f6" d="M199.74 1439.6h0.40"/>
<path stroke="#6868f2" d="M212.52 1439.6h0.40"/>
<path stroke="#5c48ec" d="M225.30 1439.6h25.96"/>
<path stroke="#503ce6" d="M263.64 1439.6h38.74"/>
<path stroke="#4430e0" d="M314.76 1439.6h13.18"/>
<path stroke="#372ddc" d="M340.32 1439.6h0.40"/>
<path stroke="#2a2ad8" d="M353.10 1439.6h0.40"/>
<path stroke="#2328d4" d="M365.88 1439.6h77.08"/>
<path stroke="#1c26d0" d="M455.34 1439.6h13.18"/>
<path stroke="#d0d0fc" d="M161.40 1439.6h0.40"/>
<path stroke="#cac8fc" d="M174.18 1444.4h0.40"/>
<path stroke="#b2b0fb" d="M186.96 1444.4h0.40"/>
<path stroke="#7880f6" d="M199.74 1444.4h0.40"/>
<path stroke="#6868f2" d="M212.52 1444.4h0.40"/>
<path stroke="#5c48ec" d="M225.30 1444.4h13.18"/>
<path stroke="#503ce6" d="M250.86 1444.4h38.74"/>
<path stroke="#4430e0" d="M301.98 1444.4h25.96"/>
<path stroke="#372ddc" d="M340.32 1444.4h0.40"/>
<path stroke="#2a2ad8" d="M353.10 1444.4h0.40"/>
<path stroke="#2328d4" d="M365.88 1444.4h38.74"/>
<path stroke="#1c26d0" d="M417.00 1444.4h51.52"/>
<path stroke="#d0d0fc" d="M161.40 1444.4h0.40"/>
<path stroke="#cac8fc" d="M174.18 1449.2h0.40"/>
<path stroke="#a0a0fa" d="M186.96 1449.2h0.40"/>
<path stroke="#7074f4" d="M199.74 1449.2h0.40"/>
<path stroke="#6258ef" d="M212.52 1449.2h0.40"/>
<path stroke="#5c48ec" d="M225.30 1449.2h13.18"/>
<path stroke="#503ce6" d="M250.86 1449.2h25.96"/>
<path stroke="#4430e0" d="M289.20 1449.2h13.18"/>
<path stroke="#372ddc" d="M314.76 1449.2h0.40"/>
<path stroke="#2a2ad8" d="M327.54 1449.2h0.40"/>
<path stroke="#2328d4" d="M340.32 1449.2h51.52"/>
<path stroke="#1c26d0" d="M404.22 1449.2h64.30"/>
<path stroke="#d0d0fc" d="M161.40 1449.2h0.40"/>
<path stroke="#cac8fc" d="M174.18 1453.9h0.40"/>
<path stroke="#7074f4" d="M186.96 1453.9h0.40"/>
<path stroke="#372ddc" d="M199.74 1453.9h13.18"/>
<path stroke="#4430e0" d="M225.30 1453.9h0.40"/>
<path stroke="#503ce6" d="M238.08 1453.9h64.30"/>
<path stroke="#372ddc" d="M314.76 1453.9h0.40"/>
<path stroke="#2a2ad8" d="M327.54 1453.9h13.18"/>
<path stroke="#2328d4" d="M353.10 1453.9h64.30"/>
<path stroke="#1c26d0" d="M429.78 1453.9h38.74"/>
<path stroke="#d0d0fc" d="M161.40 1453.9h0.40"/>
<path stroke="#cac8fc" d="M174.18 1458.7h0.40"/>
<path stroke="#7074f4" d="M186.96 1458.7h0.40"/>
<path stroke="#372ddc" d="M199.74 1458.7h13.18"/>
<path stroke="#4430e0" d="M225.30 1458.7h0.40"/>
<path stroke="#503ce6" d="M238.08 1458.7h64.30"/>
<path stroke="#372ddc" d="M314.76 1458.7h0.40"/>
<path stroke="#2328d4" d="M327.54 1458.7h64.30"/>
<path stroke="#1c26d0" d="M404.22 1458.7h64.30"/>
<path stroke="#d0d0fc" d="M161.40 1458.7h0.40"/>
<path stroke="#cac8fc" d="M174.18 1463.5h0.40"/>
<path stroke="#a0a0fa" d="M186.96 1463.5h0.40"/>
<path stroke="#5c48ec" d="M199.74 1463.5h0.40"/>
<path stroke="#4430e0" d="M212.52 1463.5h0.40"/>
<path stroke="#372ddc" d="M225.30 1463.5h0.40"/>
<path stroke="#4430e0" d="M238.08 1463.5h0.40"/>
<path stroke="#5c48ec" d="M250.86 1463.5h64.30"/>
<path stroke="#503ce6" d="M327.54 1463.5h13.18"/>
<path stroke="#4430e0" d="M353.10 1463.5h0.40"/>
<path stroke="#2a2ad8" d="M365.88 1463.5h64.30"/>
<path stroke="#2328d4" d="M442.56 1463.5h25.96"/>
<path stroke="#d0d0fc" d="M161.40 1463.5h0.40"/>
<path stroke="#cac8fc" d="M174.18 1468.3h0.40"/>
<path stroke="#6868f2" d="M186.96 1468.3h0.40"/>
<path stroke="#372ddc" d="M199.74 1468.3h13.18"/>
<path stroke="#4430e0" d="M225.30 1468.3h0.40"/>
<path stroke="#503ce6" d="M238.08 1468.3h51.52"/>
<path stroke="#4430e0" d="M301.98 1468.3h0.40"/>
<path stroke="#2a2ad8" d="M314.76 1468.3h13.18"/>
<path stroke="#2328d4" d="M340.32 1468.3h51.52"/>
<path stroke="#1c26d0" d="M404.22 1468.3h64.30"/>
<path stroke="#d0d0fc" d="M161.40 1468.3h0.40"/>
<path stroke="#cac8fc" d="M174.18 1473.1h0.40"/>
<path stroke="#b2b0fb" d="M186.96 1473.1h0.40"/>
<path stroke="#a0a0fa" d="M199.74 1473.1h0.40"/>
<path stroke="#6258ef" d="M212.52 1473.1h13.18"/>
<path stroke="#5c48ec" d="M238.08 1473.1h102.64"/>
<path stroke="#503ce6" d="M353.10 1473.1h0.40"/>
<path stroke="#4430e0" d="M365.88 1473.1h51.52"/>
<path stroke="#372ddc" d="M429.78 1473.1h38.74"/>
<path stroke="#d0d0fc" d="M161.40 1473.1h0.40"/>
<path stroke="#cac8fc" d="M174.18 1477.9h0.40"/>
<path stroke="#a0a0fa" d="M186.96 1477.9h0.40"/>
<path stroke="#7880f6" d="M199.74 1477.9h0.40"/>
<path stroke="#5c48ec" d="M212.52 1477.9h51.52"/>
<path stroke="#503ce6" d="M276.42 1477.9h64.30"/>
<path stroke="#372ddc" d="M353.10 1477.9h64.30"/>
<path stroke="#2a2ad8" d="M429.78 1477.9h38.74"/>
<path stroke="#d0d0fc" d="M161.40 1477.9h0.40"/>
<path stroke="#cac8fc" d="M174.18 1482.6h0.40"/>
<path stroke="#b2b0fb" d="M186.96 1482.6h0.40"/>
<path stroke="#a0a0fa" d="M199.74 1482.6h0.40"/>
<path stroke="#6868f2" d="M212.52 1482.6h0.40"/>
<path stroke="#5c48ec" d="M225.30 1482.6h128.20"/>
<path stroke="#503ce6" d="M365.88 1482.6h0.40"/>
<path stroke="#4430e0" d="M378.66 1482.6h0.40"/>
<path stroke="#372ddc" d="M391.44 1482.6h77.08"/>
<path stroke="#d0d0fc" d="M161.40 1482.6h0.40"/>
<path stroke="#cac8fc" d="M186.96 1487.4h0.40"/>
<path stroke="#b2b0fb" d="M199.74 1487.4h0.40"/>
<path stroke="#a0a0fa" d="M212.52 1487.4h0.40"/>
<path stroke="#7880f6" d="M225.30 1487.4h38.74"/>
<path stroke="#7074f4" d="M276.42 1487.4h0.40"/>
<path stroke="#5c48ec" d="M289.20 1487.4h64.30"/>
<path stroke="#503ce6" d="M365.88 1487.4h0.40"/>
<path stroke="#1c26d0" d="M378.66 1487.4h89.86"/>
<path stroke="#d0d0fc" d="M161.40 1487.4h13.18"/>
<path stroke="#cac8fc" d="M186.96 1491.7h0.40"/>
<path stroke="#c4c0fc" d="M199.74 1491.7h0.40"/>
<path stroke="#a0a0fa" d="M212.52 1491.7h0.40"/>
<path stroke="#8c90f8" d="M225.30 1491.7h0.40"/>
<path stroke="#7880f6" d="M238.08 1491.7h13.18"/>
<path stroke="#7074f4" d="M263.64 1491.7h25.96"/>
<path stroke="#5c48ec" d="M301.98 1491.7h64.30"/>
<path stroke="#d0d0fc" d="M161.40 1491.7h13.18"/>
<path stroke="#cac8fc" d="M186.96 1495.9h0.40"/>
<path stroke="#b2b0fb" d="M199.74 1495.9h0.40"/>
<path stroke="#a0a0fa" d="M212.52 1495.9h0.40"/>
<path stroke="#7880f6" d="M225.30 1495.9h13.18"/>
<path stroke="#7074f4" d="M250.86 1495.9h25.96"/>
<path stroke="#5c48ec" d="M289.20 1495.9h64.30"/>
<path stroke="#503ce6" d="M365.88 1495.9h0.40"/>
<path stroke="#d0d0fc" d="M161.40 1495.9h13.18"/>
<path stroke="#cac8fc" d="M186.96 1500.7h0.40"/>
<path stroke="#b2b0fb" d="M199.74 1500.7h0.40"/>
<path stroke="#a0a0fa" d="M212.52 1500.7h0.40"/>
<path stroke="#8c90f8" d="M225.30 1500.7h0.40"/>
<path stroke="#7880f6" d="M238.08 1500.7h25.96"/>
<path stroke="#6258ef" d="M276.42 1500.7h51.52"/>
<path stroke="#5c48ec" d="M340.32 1500.7h25.96"/>
<path stroke="#d0d0fc" d="M161.40 1500.7h13.18"/>
<path stroke="#cac8fc" d="M212.52 1505.5h13.18"/>
<path stroke="#c4c0fc" d="M238.08 1505.5h0.40"/>
<path stroke="#b2b0fb" d="M250.86 1505.5h13.18"/>
<path stroke="#8c90f8" d="M276.42 1505.5h38.74"/>
<path stroke="#7880f6" d="M327.54 1505.5h0.40"/>
<path stroke="#7074f4" d="M340.32 1505.5h0.40"/>
<path stroke="#6258ef" d="M353.10 1505.5h13.18"/>
<path stroke="#d0d0fc" d="M161.40 1505.5h38.74"/>
<path stroke="#cac8fc" d="M212.52 1510.3h0.40"/>
<path stroke="#c4c0fc" d="M225.30 1510.3h0.40"/>
<path stroke="#b2b0fb" d="M238.08 1510.3h13.18"/>
<path stroke="#a0a0fa" d="M263.64 1510.3h0.40"/>
<path stroke="#8c90f8" d="M276.42 1510.3h25.96"/>
<path stroke="#7880f6" d="M314.76 1510.3h13.18"/>
<path stroke="#6258ef" d="M340.32 1510.3h13.18"/>
<path stroke="#5c48ec" d="M365.88 1510.3h64.30"/>
<path stroke="#503ce6" d="M442.56 1510.3h25.96"/>
<path stroke="#d0d0fc" d="M161.40 1510.3h38.74"/>
<path stroke="#cac8fc" d="M212.52 1515.1h0.40"/>
<path stroke="#c4c0fc" d="M225.30 1515.1h0.40"/>
<path stroke="#b2b0fb" d="M238.08 1515.1h0.40"/>
<path stroke="#a0a0fa" d="M250.86 1515.1h0.40"/>
<path stroke="#7880f6" d="M263.64 1515.1h38.74"/>
<path stroke="#7074f4" d="M314.76 1515.1h0.40"/>
<path stroke="#5c48ec" d="M327.54 1515.1h64.30"/>
<path stroke="#503ce6" d="M404.22 1515.1h0.40"/>
<path stroke="#4430e0" d="M417.00 1515.1h51.52"/>
<path stroke="#d0d0fc" d="M161.40 1515.1h38.74"/>
<path stroke="#cac8fc" d="M238.08 1519.8h13.18"/>
<path stroke="#b2b0fb" d="M263.64 1519.8h0.40"/>
<path stroke="#8c90f8" d="M276.42 1519.8h0.40"/>
<path stroke="#7880f6" d="M289.20 1519.8h38.74"/>
<path stroke="#6868f2" d="M340.32 1519.8h128.20"/>
<path stroke="#d0d0fc" d="M161.40 1519.8h64.30"/>
<path stroke="#cac8fc" d="M225.30 1524.6h13.18"/>
<path stroke="#c4c0fc" d="M250.86 1524.6h0.40"/>
<path stroke="#a0a0fa" d="M263.64 1524.6h0.40"/>
<path stroke="#7880f6" d="M276.42 1524.6h38.74"/>
<path stroke="#6868f2" d="M327.54 1524.6h140.98"/>
<path stroke="#d0d0fc" d="M161.40 1524.6h51.52"/>
<path stroke="#d0d0fc" d="M161.40 1528.9h153.76"/>
<path stroke="#d0d0fc" d="M161.40 1532.6h153.76"/>
<path stroke="#d0d0fc" d="M161.40 1535.8h153.76"/>
<path stroke="#d0d0fc" d="M161.40 1538.7h153.76"/>
</g>
<path stroke-width="17.2" stroke-linecap="round" fill="none" stroke="#d0d0fc" d="M160.1 1235h2.6M160.1 1239.7h2.6M160.1 1244h2.6M160.1 1248.8h2.6M160.1 1253.6h2.6M160.1 1258.3h2.6M160.1 1263.1h2.6M160.1 1267.9h2.6M160.1 1272.7h2.6M160.1 1277.5h2.6M160.1 1282.3h2.6M160.1 1287h2.6M160.1 1291.8h2.6M160.1 1296.6h2.6M160.1 1301.4h2.6M160.1 1306.2h2.6M160.1 1311h2.6M160.1 1315.2h2.6M160.1 1320h2.6M160.1 1324.8h2.6M160.1 1329.6h2.6M160.1 1334.4h2.6M160.1 1339.1h2.6M160.1 1343.9h2.6M160.1 1348.7h2.6M160.1 1353.5h2.6M160.1 1358.3h2.6M160.1 1363.1h2.6M160.1 1367.8h2.6M160.1 1372.6h2.6M160.1 1377.4h2.6M160.1 1382.2h2.6M160.1 1387h2.6M160.1 1391.8h2.6M160.1 1396.5h2.6M160.1 1401.3h2.6M160.1 1406.1h2.6M160.1 1410.9h2.6M160.1 1415.7h2.6M160.1 1420.5h2.6M160.1 1425.2h2.6M160.1 1430h2.6M160.1 1434.8h2.6M160.1 1439.6h2.6M160.1 1444.4h2.6M160.1 1449.2h2.6M160.1 1453.9h2.6M160.1 1458.7h2.6M160.1 1463.5h2.6M160.1 1468.3h2.6M160.1 1473.1h2.6M160.1 1477.9h2.6M160.1 1482.6h2.6M160.1 1487.4h2.6M160.1 1491.7h2.6M160.1 1495.9h2.6M160.1 1500.7h2.6M160.1 1505.5h2.6M160.1 1510.3h2.6M160.1 1515.1h2.6M160.1 1519.8h2.6M160.1 1524.6h2.6M160.1 1528.9h2.6M160.1 1532.6h2.6M160.1 1535.8h2.6M160.1 1538.7h2.6"/>
<g stroke-width="17.2" stroke-linecap="round" fill="none" stroke-dasharray="0 12.780">
<path stroke="#dcd4fa" d="M559.58 1235h0.40"/>
<path stroke="#7074f4" d="M572.36 1235h0.40"/>
<path stroke="#5c48ec" d="M585.14 1235h0.40"/>
<path stroke="#503ce6" d="M597.92 1235h0.40"/>
<path stroke="#4430e0" d="M610.70 1235h0.40"/>
<path stroke="#372ddc" d="M623.48 1235h0.40"/>
<path stroke="#2a2ad8" d="M636.26 1235h13.18"/>
<path stroke="#2328d4" d="M661.82 1235h13.18"/>
<path stroke="#1c26d0" d="M687.38 1235h64.30"/>
<path stroke="#1c24cc" d="M764.06 1235h89.86"/>
<path stroke="#f9767c" d="M546.80 1235h0.40"/>
<path stroke="#dcd4fa" d="M559.58 1239.7h0.40"/>
<path stroke="#7074f4" d="M572.36 1239.7h0.40"/>
<path stroke="#5c48ec" d="M585.14 1239.7h0.40"/>
<path stroke="#503ce6" d="M597.92 1239.7h0.40"/>
<path stroke="#4430e0" d="M610.70 1239.7h0.40"/>
<path stroke="#372ddc" d="M623.48 1239.7h13.18"/>
<path stroke="#2a2ad8" d="M649.04 1239.7h0.40"/>
<path stroke="#2328d4" d="M661.82 1239.7h25.96"/>
<path stroke="#1c26d0" d="M700.16 1239.7h115.42"/>
<path stroke="#1c24cc" d="M827.96 1239.7h25.96"/>
<path stroke="#f9767c" d="M546.80 1239.7h0.40"/>
<path stroke="#dcd4fa" d="M559.58 1244h0.40"/>
<path stroke="#7074f4" d="M572.36 1244h0.40"/>
<path stroke="#5c48ec" d="M585.14 1244h0.40"/>
<path stroke="#503ce6" d="M597.92 1244h0.40"/>
<path stroke="#4430e0" d="M610.70 1244h0.40"/>
<path stroke="#372ddc" d="M623.48 1244h13.18"/>
<path stroke="#2a2ad8" d="M649.04 1244h0.40"/>
<path stroke="#2328d4" d="M661.82 1244h25.96"/>
<path stroke="#1c26d0" d="M700.16 1244h89.86"/>
<path stroke="#1c24cc" d="M802.40 1244h51.52"/>
<path stroke="#f9767c" d="M546.80 1244h0.40"/>
<path stroke="#dcd4fa" d="M559.58 1248.8h0.40"/>
<path stroke="#2328d4" d="M572.36 1248.8h0.40"/>
<path stroke="#1c26d0" d="M585.14 1248.8h64.30"/>
<path stroke="#1c24cc" d="M661.82 1248.8h140.98"/>
<path stroke="#1c22c8" d="M815.18 1248.8h38.74"/>
<path stroke="#f9767c" d="M546.80 1248.8h0.40"/>
<path stroke="#dcd4fa" d="M559.58 1253.6h0.40"/>
<path stroke="#372ddc" d="M572.36 1253.6h0.40"/>
<path stroke="#2328d4" d="M585.14 1253.6h77.08"/>
<path stroke="#1c26d0" d="M674.60 1253.6h153.76"/>
<path stroke="#1c24cc" d="M840.74 1253.6h13.18"/>
<path stroke="#f9767c" d="M546.80 1253.6h0.40"/>
<path stroke="#dcd4fa" d="M559.58 1258.3h0.40"/>
<path stroke="#2a2ad8" d="M572.36 1258.3h0.40"/>
<path stroke="#2328d4" d="M585.14 1258.3h51.52"/>
<path stroke="#1c26d0" d="M649.04 1258.3h140.98"/>
<path stroke="#1c24cc" d="M802.40 1258.3h51.52"/>
<path stroke="#f9767c" d="M546.80 1258.3h0.40"/>
<path stroke="#dcd4fa" d="M559.58 1263.1h0.40"/>
<path stroke="#2a2ad8" d="M572.36 1263.1h0.40"/>
<path stroke="#1c26d0" d="M585.14 1263.1h128.20"/>
<path stroke="#1c24cc" d="M725.72 1263.1h128.20"/>
<path stroke="#f9767c" d="M546.80 1263.1h0.40"/>
<path stroke="#dcd4fa" d="M559.58 1267.9h0.40"/>
<path stroke="#7074f4" d="M572.36 1267.9h0.40"/>
<path stroke="#5c48ec" d="M585.14 1267.9h0.40"/>
<path stroke="#503ce6" d="M597.92 1267.9h0.40"/>
<path stroke="#4430e0" d="M610.70 1267.9h0.40"/>
<path stroke="#372ddc" d="M623.48 1267.9h0.40"/>
<path stroke="#2a2ad8" d="M636.26 1267.9h0.40"/>
<path stroke="#2328d4" d="M649.04 1267.9h13.18"/>
<path stroke="#1c26d0" d="M674.60 1267.9h77.08"/>
<path stroke="#1c24cc" d="M764.06 1267.9h89.86"/>
<path stroke="#f9767c" d="M546.80 1267.9h0.40"/>
<path stroke="#dcd4fa" d="M559.58 1272.7h0.40"/>
<path stroke="#6868f2" d="M572.36 1272.7h0.40"/>
<path stroke="#503ce6" d="M585.14 1272.7h0.40"/>
<path stroke="#4430e0" d="M597.92 1272.7h0.40"/>
<path stroke="#372ddc" d="M610.70 1272.7h0.40"/>
<path stroke="#2a2ad8" d="M623.48 1272.7h0.40"/>
<path stroke="#2328d4" d="M636.26 1272.7h0.40"/>
<path stroke="#1c26d0" d="M649.04 1272.7h13.18"/>
<path stroke="#1c24cc" d="M674.60 1272.7h115.42"/>
<path stroke="#1c22c8" d="M802.40 1272.7h51.52"/>
<path stroke="#f9767c" d="M546.80 1272.7h0.40"/>
<path stroke="#dcd4fa" d="M559.58 1277.5h0.40"/>
<path stroke="#7880f6" d="M572.36 1277.5h0.40"/>
<path stroke="#5c48ec" d="M585.14 1277.5h0.40"/>
<path stroke="#503ce6" d="M597.92 1277.5h0.40"/>
<path stroke="#4430e0" d="M610.70 1277.5h0.40"/>
<path stroke="#372ddc" d="M623.48 1277.5h0.40"/>
<path stroke="#2a2ad8" d="M636.26 1277.5h0.40"/>
<path stroke="#2328d4" d="M649.04 1277.5h13.18"/>
<path stroke="#1c26d0" d="M674.60 1277.5h51.52"/>
<path stroke="#1c24cc" d="M738.50 1277.5h115.42"/>
<path stroke="#f9767c" d="M546.80 1277.5h0.40"/>
<path stroke="#dcd4fa" d="M559.58 1282.3h0.40"/>
<path stroke="#7074f4" d="M572.36 1282.3h0.40"/>
<path stroke="#5c48ec" d="M585.14 1282.3h0.40"/>
<path stroke="#503ce6" d="M597.92 1282.3h0.40"/>
<path stroke="#4430e0" d="M610.70 1282.3h0.40"/>
<path stroke="#372ddc" d="M623.48 1282.3h0.40"/>
<path stroke="#2a2ad8" d="M636.26 1282.3h0.40"/>
<path stroke="#2328d4" d="M649.04 1282.3h0.40"/>
<path stroke="#1c26d0" d="M661.82 1282.3h115.42"/>
<path stroke="#1c24cc" d="M789.62 1282.3h64.30"/>
<path stroke="#f9767c" d="M546.80 1282.3h0.40"/>
<path stroke="#dcd4fa" d="M559.58 1287h0.40"/>
<path stroke="#7074f4" d="M572.36 1287h0.40"/>
<path stroke="#5c48ec" d="M585.14 1287h0.40"/>
<path stroke="#503ce6" d="M597.92 1287h0.40"/>
<path stroke="#4430e0" d="M610.70 1287h0.40"/>
<path stroke="#2a2ad8" d="M623.48 1287h13.18"/>
<path stroke="#2328d4" d="M649.04 1287h0.40"/>
<path stroke="#1c26d0" d="M661.82 1287h115.42"/>
<path stroke="#1c24cc" d="M789.62 1287h64.30"/>
<path stroke="#f9767c" d="M546.80 1287h0.40"/>
<path stroke="#dcd4fa" d="M559.58 1291.8h0.40"/>
<path stroke="#6868f2" d="M572.36 1291.8h0.40"/>
<path stroke="#5c48ec" d="M585.14 1291.8h0.40"/>
<path stroke="#503ce6" d="M597.92 1291.8h0.40"/>
<path stroke="#4430e0" d="M610.70 1291.8h0.40"/>
<path stroke="#2a2ad8" d="M623.48 1291.8h0.40"/>
<path stroke="#2328d4" d="M636.26 1291.8h13.18"/>
<path stroke="#1c26d0" d="M661.82 1291.8h77.08"/>
<path stroke="#1c24cc" d="M751.28 1291.8h102.64"/>
<path stroke="#f9767c" d="M546.80 1291.8h0.40"/>
<path stroke="#dcd4fa" d="M559.58 1296.6h0.40"/>
<path stroke="#7074f4" d="M572.36 1296.6h0.40"/>
<path stroke="#5c48ec" d="M585.14 1296.6h0.40"/>
<path stroke="#503ce6" d="M597.92 1296.6h0.40"/>
<path stroke="#4430e0" d="M610.70 1296.6h0.40"/>
<path stroke="#372ddc" d="M623.48 1296.6h0.40"/>
<path stroke="#2a2ad8" d="M636.26 1296.6h0.40"/>
<path stroke="#2328d4" d="M649.04 1296.6h0.40"/>
<path stroke="#1c26d0" d="M661.82 1296.6h13.18"/>
<path stroke="#1c24cc" d="M687.38 1296.6h140.98"/>
<path stroke="#1c22c8" d="M840.74 1296.6h13.18"/>
<path stroke="#f9767c" d="M546.80 1296.6h0.40"/>
<path stroke="#dcd4fa" d="M559.58 1301.4h0.40"/>
<path stroke="#6868f2" d="M572.36 1301.4h0.40"/>
<path stroke="#503ce6" d="M585.14 1301.4h0.40"/>
<path stroke="#4430e0" d="M597.92 1301.4h0.40"/>
<path stroke="#372ddc" d="M610.70 1301.4h0.40"/>
<path stroke="#2a2ad8" d="M623.48 1301.4h0.40"/>
<path stroke="#2328d4" d="M636.26 1301.4h0.40"/>
<path stroke="#1c26d0" d="M649.04 1301.4h38.74"/>
<path stroke="#1c24cc" d="M700.16 1301.4h115.42"/>
<path stroke="#1c22c8" d="M827.96 1301.4h25.96"/>
<path stroke="#f9767c" d="M546.80 1301.4h0.40"/>
<path stroke="#dcd4fa" d="M559.58 1306.2h0.40"/>
<path stroke="#7880f6" d="M572.36 1306.2h0.40"/>
<path stroke="#6258ef" d="M585.14 1306.2h0.40"/>
<path stroke="#5c48ec" d="M597.92 1306.2h0.40"/>
<path stroke="#503ce6" d="M610.70 1306.2h0.40"/>
<path stroke="#4430e0" d="M623.48 1306.2h0.40"/>
<path stroke="#372ddc" d="M636.26 1306.2h0.40"/>
<path stroke="#2a2ad8" d="M649.04 1306.2h13.18"/>
<path stroke="#2328d4" d="M674.60 1306.2h25.96"/>
<path stroke="#1c26d0" d="M712.94 1306.2h140.98"/>
<path stroke="#f9767c" d="M546.80 1306.2h0.40"/>
<path stroke="#dcd4fa" d="M559.58 1311h0.40"/>
<path stroke="#7880f6" d="M572.36 1311h0.40"/>
<path stroke="#6258ef" d="M585.14 1311h0.40"/>
<path stroke="#503ce6" d="M597.92 1311h0.40"/>
<path stroke="#4430e0" d="M610.70 1311h0.40"/>
<path stroke="#372ddc" d="M623.48 1311h0.40"/>
<path stroke="#2a2ad8" d="M636.26 1311h0.40"/>
<path stroke="#2328d4" d="M649.04 1311h13.18"/>
<path stroke="#1c26d0" d="M674.60 1311h51.52"/>
<path stroke="#1c24cc" d="M738.50 1311h115.42"/>
<path stroke="#f9767c" d="M546.80 1311h0.40"/>
<path stroke="#dcd4fa" d="M559.58 1315.2h0.40"/>
<path stroke="#7880f6" d="M572.36 1315.2h0.40"/>
<path stroke="#5c48ec" d="M585.14 1315.2h0.40"/>
<path stroke="#503ce6" d="M597.92 1315.2h0.40"/>
<path stroke="#4430e0" d="M610.70 1315.2h0.40"/>
<path stroke="#372ddc" d="M623.48 1315.2h0.40"/>
<path stroke="#2a2ad8" d="M636.26 1315.2h0.40"/>
<path stroke="#2328d4" d="M649.04 1315.2h13.18"/>
<path stroke="#1c26d0" d="M674.60 1315.2h89.86"/>
<path stroke="#1c24cc" d="M776.84 1315.2h77.08"/>
<path stroke="#f9767c" d="M546.80 1315.2h0.40"/>
<path stroke="#dcd4fa" d="M559.58 1320h0.40"/>
<path stroke="#8c90f8" d="M572.36 1320h0.40"/>
<path stroke="#6258ef" d="M585.14 1320h0.40"/>
<path stroke="#503ce6" d="M597.92 1320h13.18"/>
<path stroke="#4430e0" d="M623.48 1320h0.40"/>
<path stroke="#372ddc" d="M636.26 1320h0.40"/>
<path stroke="#2a2ad8" d="M649.04 1320h0.40"/>
<path stroke="#2328d4" d="M661.82 1320h13.18"/>
<path stroke="#1c26d0" d="M687.38 1320h38.74"/>
<path stroke="#1c24cc" d="M738.50 1320h115.42"/>
<path stroke="#f9767c" d="M546.80 1320h0.40"/>
<path stroke="#dcd4fa" d="M559.58 1324.8h0.40"/>
<path stroke="#8c90f8" d="M572.36 1324.8h0.40"/>
<path stroke="#6868f2" d="M585.14 1324.8h0.40"/>
<path stroke="#5c48ec" d="M597.92 1324.8h0.40"/>
<path stroke="#503ce6" d="M610.70 1324.8h13.18"/>
<path stroke="#4430e0" d="M636.26 1324.8h0.40"/>
<path stroke="#372ddc" d="M649.04 1324.8h0.40"/>
<path stroke="#2a2ad8" d="M661.82 1324.8h0.40"/>
<path stroke="#2328d4" d="M674.60 1324.8h13.18"/>
<path stroke="#1c26d0" d="M700.16 1324.8h140.98"/>
<path stroke="#1c24cc" d="M853.52 1324.8h0.40"/>
<path stroke="#f9767c" d="M546.80 1324.8h0.40"/>
<path stroke="#dcd4fa" d="M559.58 1329.6h0.40"/>
<path stroke="#7880f6" d="M572.36 1329.6h0.40"/>
<path stroke="#5c48ec" d="M585.14 1329.6h13.18"/>
<path stroke="#503ce6" d="M610.70 1329.6h0.40"/>
<path stroke="#4430e0" d="M623.48 1329.6h0.40"/>
<path stroke="#372ddc" d="M636.26 1329.6h0.40"/>
<path stroke="#2a2ad8" d="M649.04 1329.6h0.40"/>
<path stroke="#2328d4" d="M661.82 1329.6h13.18"/>
<path stroke="#1c26d0" d="M687.38 1329.6h140.98"/>
<path stroke="#1c24cc" d="M840.74 1329.6h13.18"/>
<path stroke="#f9767c" d="M546.80 1329.6h0.40"/>
<path stroke="#dcd4fa" d="M559.58 1334.4h0.40"/>
<path stroke="#7074f4" d="M572.36 1334.4h0.40"/>
<path stroke="#5c48ec" d="M585.14 1334.4h0.40"/>
<path stroke="#503ce6" d="M597.92 1334.4h0.40"/>
<path stroke="#4430e0" d="M610.70 1334.4h0.40"/>
<path stroke="#372ddc" d="M623.48 1334.4h0.40"/>
<path stroke="#2a2ad8" d="M636.26 1334.4h0.40"/>
<path stroke="#2328d4" d="M649.04 1334.4h13.18"/>
<path stroke="#1c26d0" d="M674.60 1334.4h51.52"/>
<path stroke="#1c24cc" d="M738.50 1334.4h115.42"/>
<path stroke="#f9767c" d="M546.80 1334.4h0.40"/>
<path stroke="#dcd4fa" d="M559.58 1339.1h0.40"/>
<path stroke="#7074f4" d="M572.36 1339.1h0.40"/>
<path stroke="#503ce6" d="M585.14 1339.1h13.18"/>
<path stroke="#4430e0" d="M610.70 1339.1h0.40"/>
<path stroke="#372ddc" d="M623.48 1339.1h0.40"/>
<path stroke="#2328d4" d="M636.26 1339.1h13.18"/>
<path stroke="#1c26d0" d="M661.82 1339.1h13.18"/>
<path stroke="#1c24cc" d="M687.38 1339.1h166.54"/>
<path stroke="#f9767c" d="M546.80 1339.1h0.40"/>
<path stroke="#dcd4fa" d="M559.58 1343.9h0.40"/>
<path stroke="#7880f6" d="M572.36 1343.9h0.40"/>
<path stroke="#5c48ec" d="M585.14 1343.9h0.40"/>
<path stroke="#503ce6" d="M597.92 1343.9h13.18"/>
<path stroke="#4430e0" d="M623.48 1343.9h0.40"/>
<path stroke="#372ddc" d="M636.26 1343.9h0.40"/>
<path stroke="#2a2ad8" d="M649.04 1343.9h0.40"/>
<path stroke="#2328d4" d="M661.82 1343.9h0.40"/>
<path stroke="#1c26d0" d="M674.60 1343.9h51.52"/>
<path stroke="#1c24cc" d="M738.50 1343.9h115.42"/>
<path stroke="#f9767c" d="M546.80 1343.9h0.40"/>
<path stroke="#dcd4fa" d="M559.58 1348.7h0.40"/>
<path stroke="#7880f6" d="M572.36 1348.7h0.40"/>
<path stroke="#5c48ec" d="M585.14 1348.7h0.40"/>
<path stroke="#503ce6" d="M597.92 1348.7h0.40"/>
<path stroke="#4430e0" d="M610.70 1348.7h13.18"/>
<path stroke="#372ddc" d="M636.26 1348.7h0.40"/>
<path stroke="#2a2ad8" d="M649.04 1348.7h0.40"/>
<path stroke="#2328d4" d="M661.82 1348.7h0.40"/>
<path stroke="#1c26d0" d="M674.60 1348.7h13.18"/>
<path stroke="#1c24cc" d="M700.16 1348.7h153.76"/>
<path stroke="#f9767c" d="M546.80 1348.7h0.40"/>
<path stroke="#dcd4fa" d="M559.58 1353.5h0.40"/>
<path stroke="#7074f4" d="M572.36 1353.5h0.40"/>
<path stroke="#5c48ec" d="M585.14 1353.5h0.40"/>
<path stroke="#503ce6" d="M597.92 1353.5h0.40"/>
<path stroke="#4430e0" d="M610.70 1353.5h13.18"/>
<path stroke="#2a2ad8" d="M636.26 1353.5h0.40"/>
<path stroke="#2328d4" d="M649.04 1353.5h13.18"/>
<path stroke="#1c26d0" d="M674.60 1353.5h51.52"/>
<path stroke="#1c24cc" d="M738.50 1353.5h115.42"/>
<path stroke="#f9767c" d="M546.80 1353.5h0.40"/>
<path stroke="#dcd4fa" d="M559.58 1358.3h0.40"/>
<path stroke="#a0a0fa" d="M572.36 1358.3h13.18"/>
<path stroke="#8c90f8" d="M597.92 1358.3h13.18"/>
<path stroke="#372ddc" d="M623.48 1358.3h0.40"/>
<path stroke="#2a2ad8" d="M636.26 1358.3h25.96"/>
<path stroke="#2328d4" d="M674.60 1358.3h25.96"/>
<path stroke="#1c26d0" d="M712.94 1358.3h140.98"/>
<path stroke="#f9767c" d="M546.80 1358.3h0.40"/>
<path stroke="#dcd4fa" d="M559.58 1363.1h0.40"/>
<path stroke="#8c90f8" d="M572.36 1363.1h25.96"/>
<path stroke="#7880f6" d="M610.70 1363.1h0.40"/>
<path stroke="#2a2ad8" d="M623.48 1363.1h13.18"/>
<path stroke="#2328d4" d="M649.04 1363.1h25.96"/>
<path stroke="#1c26d0" d="M687.38 1363.1h64.30"/>
<path stroke="#1c24cc" d="M764.06 1363.1h89.86"/>
<path stroke="#f9767c" d="M546.80 1363.1h0.40"/>
<path stroke="#dcd4fa" d="M559.58 1367.8h0.40"/>
<path stroke="#a0a0fa" d="M572.36 1367.8h0.40"/>
<path stroke="#8c90f8" d="M585.14 1367.8h13.18"/>
<path stroke="#5c48ec" d="M610.70 1367.8h0.40"/>
<path stroke="#2a2ad8" d="M623.48 1367.8h13.18"/>
<path stroke="#2328d4" d="M649.04 1367.8h25.96"/>
<path stroke="#1c26d0" d="M687.38 1367.8h115.42"/>
<path stroke="#1c24cc" d="M815.18 1367.8h38.74"/>
<path stroke="#f9767c" d="M546.80 1367.8h0.40"/>
<path stroke="#dcd4fa" d="M559.58 1372.6h0.40"/>
<path stroke="#d0d0fc" d="M572.36 1372.6h0.40"/>
<path stroke="#a0a0fa" d="M585.14 1372.6h0.40"/>
<path stroke="#8c90f8" d="M597.92 1372.6h0.40"/>
<path stroke="#5c48ec" d="M610.70 1372.6h0.40"/>
<path stroke="#2a2ad8" d="M623.48 1372.6h25.96"/>
<path stroke="#2328d4" d="M661.82 1372.6h38.74"/>
<path stroke="#1c26d0" d="M712.94 1372.6h140.98"/>
<path stroke="#f9767c" d="M546.80 1372.6h0.40"/>
<path stroke="#dcd4fa" d="M559.58 1377.4h0.40"/>
<path stroke="#6868f2" d="M572.36 1377.4h0.40"/>
<path stroke="#6258ef" d="M585.14 1377.4h64.30"/>
<path stroke="#5c48ec" d="M661.82 1377.4h51.52"/>
<path stroke="#4430e0" d="M725.72 1377.4h0.40"/>
<path stroke="#2a2ad8" d="M738.50 1377.4h0.40"/>
<path stroke="#2328d4" d="M751.28 1377.4h64.30"/>
<path stroke="#1c26d0" d="M827.96 1377.4h25.96"/>
<path stroke="#f9767c" d="M546.80 1377.4h0.40"/>
<path stroke="#dcd4fa" d="M559.58 1382.2h0.40"/>
<path stroke="#6258ef" d="M572.36 1382.2h0.40"/>
<path stroke="#5c48ec" d="M585.14 1382.2h77.08"/>
<path stroke="#503ce6" d="M674.60 1382.2h38.74"/>
<path stroke="#372ddc" d="M725.72 1382.2h0.40"/>
<path stroke="#2328d4" d="M738.50 1382.2h0.40"/>
<path stroke="#1c26d0" d="M751.28 1382.2h77.08"/>
<path stroke="#1c24cc" d="M840.74 1382.2h13.18"/>
<path stroke="#f9767c" d="M546.80 1382.2h0.40"/>
<path stroke="#dcd4fa" d="M559.58 1387h0.40"/>
<path stroke="#6258ef" d="M572.36 1387h25.96"/>
<path stroke="#5c48ec" d="M610.70 1387h77.08"/>
<path stroke="#503ce6" d="M700.16 1387h0.40"/>
<path stroke="#4430e0" d="M712.94 1387h0.40"/>
<path stroke="#2a2ad8" d="M725.72 1387h0.40"/>
<path stroke="#2328d4" d="M738.50 1387h13.18"/>
<path stroke="#1c26d0" d="M764.06 1387h89.86"/>
<path stroke="#f9767c" d="M546.80 1387h0.40"/>
<path stroke="#dcd4fa" d="M559.58 1391.8h0.40"/>
<path stroke="#7074f4" d="M572.36 1391.8h0.40"/>
<path stroke="#5c48ec" d="M585.14 1391.8h0.40"/>
<path stroke="#503ce6" d="M597.92 1391.8h0.40"/>
<path stroke="#372ddc" d="M610.70 1391.8h0.40"/>
<path stroke="#2a2ad8" d="M623.48 1391.8h51.52"/>
<path stroke="#2328d4" d="M687.38 1391.8h13.18"/>
<path stroke="#1c26d0" d="M712.94 1391.8h0.40"/>
<path stroke="#1c24cc" d="M725.72 1391.8h128.20"/>
<path stroke="#f9767c" d="M546.80 1391.8h0.40"/>
<path stroke="#dcd4fa" d="M559.58 1396.5h0.40"/>
<path stroke="#7880f6" d="M572.36 1396.5h0.40"/>
<path stroke="#6258ef" d="M585.14 1396.5h0.40"/>
<path stroke="#5c48ec" d="M597.92 1396.5h0.40"/>
<path stroke="#503ce6" d="M610.70 1396.5h0.40"/>
<path stroke="#4430e0" d="M623.48 1396.5h0.40"/>
<path stroke="#2a2ad8" d="M636.26 1396.5h89.86"/>
<path stroke="#2328d4" d="M738.50 1396.5h0.40"/>
<path stroke="#1c26d0" d="M751.28 1396.5h25.96"/>
<path stroke="#1c24cc" d="M789.62 1396.5h64.30"/>
<path stroke="#f9767c" d="M546.80 1396.5h0.40"/>
<path stroke="#dcd4fa" d="M559.58 1401.3h0.40"/>
<path stroke="#7880f6" d="M572.36 1401.3h0.40"/>
<path stroke="#6258ef" d="M585.14 1401.3h0.40"/>
<path stroke="#4430e0" d="M597.92 1401.3h0.40"/>
<path stroke="#2a2ad8" d="M610.70 1401.3h0.40"/>
<path stroke="#2328d4" d="M623.48 1401.3h38.74"/>
<path stroke="#1c26d0" d="M674.60 1401.3h115.42"/>
<path stroke="#1c24cc" d="M802.40 1401.3h51.52"/>
<path stroke="#f9767c" d="M546.80 1401.3h0.40"/>
<path stroke="#dcd4fa" d="M559.58 1406.1h0.40"/>
<path stroke="#8c90f8" d="M572.36 1406.1h0.40"/>
<path stroke="#6868f2" d="M585.14 1406.1h0.40"/>
<path stroke="#5c48ec" d="M597.92 1406.1h0.40"/>
<path stroke="#372ddc" d="M610.70 1406.1h0.40"/>
<path stroke="#2a2ad8" d="M623.48 1406.1h25.96"/>
<path stroke="#2328d4" d="M661.82 1406.1h128.20"/>
<path stroke="#1c26d0" d="M802.40 1406.1h51.52"/>
<path stroke="#f9767c" d="M546.80 1406.1h0.40"/>
<path stroke="#dcd4fa" d="M559.58 1410.9h0.40"/>
<path stroke="#7074f4" d="M572.36 1410.9h0.40"/>
<path stroke="#5c48ec" d="M585.14 1410.9h0.40"/>
<path stroke="#372ddc" d="M597.92 1410.9h0.40"/>
<path stroke="#2328d4" d="M610.70 1410.9h64.30"/>
<path stroke="#1c26d0" d="M687.38 1410.9h102.64"/>
<path stroke="#1c24cc" d="M802.40 1410.9h51.52"/>
<path stroke="#f9767c" d="M546.80 1410.9h0.40"/>
<path stroke="#dcd4fa" d="M559.58 1415.7h0.40"/>
<path stroke="#7880f6" d="M572.36 1415.7h0.40"/>
<path stroke="#6258ef" d="M585.14 1415.7h0.40"/>
<path stroke="#503ce6" d="M597.92 1415.7h0.40"/>
<path stroke="#2a2ad8" d="M610.70 1415.7h0.40"/>
<path stroke="#2328d4" d="M623.48 1415.7h102.64"/>
<path stroke="#1c26d0" d="M738.50 1415.7h102.64"/>
<path stroke="#1c24cc" d="M853.52 1415.7h0.40"/>
<path stroke="#f9767c" d="M546.80 1415.7h0.40"/>
<path stroke="#dcd4fa" d="M559.58 1420.5h0.40"/>
<path stroke="#7880f6" d="M572.36 1420.5h0.40"/>
<path stroke="#6258ef" d="M585.14 1420.5h0.40"/>
<path stroke="#4430e0" d="M597.92 1420.5h0.40"/>
<path stroke="#2a2ad8" d="M610.70 1420.5h0.40"/>
<path stroke="#2328d4" d="M623.48 1420.5h25.96"/>
<path stroke="#1c26d0" d="M661.82 1420.5h115.42"/>
<path stroke="#1c24cc" d="M789.62 1420.5h64.30"/>
<path stroke="#f9767c" d="M546.80 1420.5h0.40"/>
<path stroke="#dcd4fa" d="M559.58 1425.2h0.40"/>
<path stroke="#d0d0fc" d="M572.36 1425.2h0.40"/>
<path stroke="#7880f6" d="M585.14 1425.2h0.40"/>
<path stroke="#6868f2" d="M597.92 1425.2h0.40"/>
<path stroke="#6258ef" d="M610.70 1425.2h0.40"/>
<path stroke="#5c48ec" d="M623.48 1425.2h25.96"/>
<path stroke="#503ce6" d="M661.82 1425.2h38.74"/>
<path stroke="#4430e0" d="M712.94 1425.2h0.40"/>
<path stroke="#372ddc" d="M725.72 1425.2h0.40"/>
<path stroke="#2a2ad8" d="M738.50 1425.2h0.40"/>
<path stroke="#2328d4" d="M751.28 1425.2h102.64"/>
<path stroke="#f9767c" d="M546.80 1425.2h0.40"/>
<path stroke="#dcd4fa" d="M559.58 1430h0.40"/>
<path stroke="#d0d0fc" d="M572.36 1430h0.40"/>
<path stroke="#7880f6" d="M585.14 1430h0.40"/>
<path stroke="#6258ef" d="M597.92 1430h0.40"/>
<path stroke="#5c48ec" d="M610.70 1430h0.40"/>
<path stroke="#503ce6" d="M623.48 1430h25.96"/>
<path stroke="#4430e0" d="M661.82 1430h51.52"/>
<path stroke="#372ddc" d="M725.72 1430h0.40"/>
<path stroke="#2328d4" d="M738.50 1430h0.40"/>
<path stroke="#1c26d0" d="M751.28 1430h102.64"/>
<path stroke="#f9767c" d="M546.80 1430h0.40"/>
<path stroke="#dcd4fa" d="M559.58 1434.8h0.40"/>
<path stroke="#a0a0fa" d="M572.36 1434.8h0.40"/>
<path stroke="#6868f2" d="M585.14 1434.8h0.40"/>
<path stroke="#5c48ec" d="M597.92 1434.8h0.40"/>
<path stroke="#503ce6" d="M610.70 1434.8h25.96"/>
<path stroke="#4430e0" d="M649.04 1434.8h38.74"/>
<path stroke="#372ddc" d="M700.16 1434.8h0.40"/>
<path stroke="#2328d4" d="M712.94 1434.8h0.40"/>
<path stroke="#1c26d0" d="M725.72 1434.8h128.20"/>
<path stroke="#f9767c" d="M546.80 1434.8h0.40"/>
<path stroke="#dcd4fa" d="M559.58 1439.6h0.40"/>
<path stroke="#d0d0fc" d="M572.36 1439.6h0.40"/>
<path stroke="#7880f6" d="M585.14 1439.6h0.40"/>
<path stroke="#6868f2" d="M597.92 1439.6h0.40"/>
<path stroke="#5c48ec" d="M610.70 1439.6h25.96"/>
<path stroke="#503ce6" d="M649.04 1439.6h38.74"/>
<path stroke="#4430e0" d="M700.16 1439.6h13.18"/>
<path stroke="#372ddc" d="M725.72 1439.6h0.40"/>
<path stroke="#2a2ad8" d="M738.50 1439.6h0.40"/>
<path stroke="#2328d4" d="M751.28 1439.6h77.08"/>
<path stroke="#1c26d0" d="M840.74 1439.6h13.18"/>
<path stroke="#f9767c" d="M546.80 1439.6h0.40"/>
<path stroke="#dcd4fa" d="M559.58 1444.4h0.40"/>
<path stroke="#d0d0fc" d="M572.36 1444.4h0.40"/>
<path stroke="#7880f6" d="M585.14 1444.4h0.40"/>
<path stroke="#6868f2" d="M597.92 1444.4h0.40"/>
<path stroke="#5c48ec" d="M610.70 1444.4h13.18"/>
<path stroke="#503ce6" d="M636.26 1444.4h38.74"/>
<path stroke="#4430e0" d="M687.38 1444.4h25.96"/>
<path stroke="#372ddc" d="M725.72 1444.4h0.40"/>
<path stroke="#2a2ad8" d="M738.50 1444.4h0.40"/>
<path stroke="#2328d4" d="M751.28 1444.4h38.74"/>
<path stroke="#1c26d0" d="M802.40 1444.4h51.52"/>
<path stroke="#f9767c" d="M546.80 1444.4h0.40"/>
<path stroke="#dcd4fa" d="M559.58 1449.2h0.40"/>
<path stroke="#d0d0fc" d="M572.36 1449.2h0.40"/>
<path stroke="#7074f4" d="M585.14 1449.2h0.40"/>
<path stroke="#6258ef" d="M597.92 1449.2h0.40"/>
<path stroke="#5c48ec" d="M610.70 1449.2h13.18"/>
<path stroke="#503ce6" d="M636.26 1449.2h25.96"/>
<path stroke="#4430e0" d="M674.60 1449.2h13.18"/>
<path stroke="#372ddc" d="M700.16 1449.2h0.40"/>
<path stroke="#2a2ad8" d="M712.94 1449.2h0.40"/>
<path stroke="#2328d4" d="M725.72 1449.2h51.52"/>
<path stroke="#1c26d0" d="M789.62 1449.2h64.30"/>
<path stroke="#f9767c" d="M546.80 1449.2h0.40"/>
<path stroke="#dcd4fa" d="M559.58 1453.9h0.40"/>
<path stroke="#7074f4" d="M572.36 1453.9h0.40"/>
<path stroke="#372ddc" d="M585.14 1453.9h13.18"/>
<path stroke="#4430e0" d="M610.70 1453.9h0.40"/>
<path stroke="#503ce6" d="M623.48 1453.9h64.30"/>
<path stroke="#372ddc" d="M700.16 1453.9h0.40"/>
<path stroke="#2a2ad8" d="M712.94 1453.9h13.18"/>
<path stroke="#2328d4" d="M738.50 1453.9h64.30"/>
<path stroke="#1c26d0" d="M815.18 1453.9h38.74"/>
<path stroke="#f9767c" d="M546.80 1453.9h0.40"/>
<path stroke="#dcd4fa" d="M559.58 1458.7h0.40"/>
<path stroke="#7074f4" d="M572.36 1458.7h0.40"/>
<path stroke="#372ddc" d="M585.14 1458.7h13.18"/>
<path stroke="#4430e0" d="M610.70 1458.7h0.40"/>
<path stroke="#503ce6" d="M623.48 1458.7h64.30"/>
<path stroke="#372ddc" d="M700.16 1458.7h0.40"/>
<path stroke="#2328d4" d="M712.94 1458.7h64.30"/>
<path stroke="#1c26d0" d="M789.62 1458.7h64.30"/>
<path stroke="#f9767c" d="M546.80 1458.7h0.40"/>
<path stroke="#dcd4fa" d="M559.58 1463.5h0.40"/>
<path stroke="#a0a0fa" d="M572.36 1463.5h0.40"/>
<path stroke="#5c48ec" d="M585.14 1463.5h0.40"/>
<path stroke="#4430e0" d="M597.92 1463.5h0.40"/>
<path stroke="#372ddc" d="M610.70 1463.5h0.40"/>
<path stroke="#4430e0" d="M623.48 1463.5h0.40"/>
<path stroke="#5c48ec" d="M636.26 1463.5h64.30"/>
<path stroke="#503ce6" d="M712.94 1463.5h13.18"/>
<path stroke="#4430e0" d="M738.50 1463.5h0.40"/>
<path stroke="#2a2ad8" d="M751.28 1463.5h64.30"/>
<path stroke="#2328d4" d="M827.96 1463.5h25.96"/>
<path stroke="#f9767c" d="M546.80 1463.5h0.40"/>
<path stroke="#dcd4fa" d="M559.58 1468.3h0.40"/>
<path stroke="#6868f2" d="M572.36 1468.3h0.40"/>
<path stroke="#372ddc" d="M585.14 1468.3h13.18"/>
<path stroke="#4430e0" d="M610.70 1468.3h0.40"/>
<path stroke="#503ce6" d="M623.48 1468.3h51.52"/>
<path stroke="#4430e0" d="M687.38 1468.3h0.40"/>
<path stroke="#2a2ad8" d="M700.16 1468.3h13.18"/>
<path stroke="#2328d4" d="M725.72 1468.3h51.52"/>
<path stroke="#1c26d0" d="M789.62 1468.3h64.30"/>
<path stroke="#f9767c" d="M546.80 1468.3h0.40"/>
<path stroke="#dcd4fa" d="M572.36 1473.1h0.40"/>
<path stroke="#a0a0fa" d="M585.14 1473.1h0.40"/>
<path stroke="#6258ef" d="M597.92 1473.1h13.18"/>
<path stroke="#5c48ec" d="M623.48 1473.1h102.64"/>
<path stroke="#503ce6" d="M738.50 1473.1h0.40"/>
<path stroke="#4430e0" d="M751.28 1473.1h51.52"/>
<path stroke="#372ddc" d="M815.18 1473.1h38.74"/>
<path stroke="#f9767c" d="M546.80 1473.1h13.18"/>
<path stroke="#dcd4fa" d="M572.36 1477.9h0.40"/>
<path stroke="#7880f6" d="M585.14 1477.9h0.40"/>
<path stroke="#5c48ec" d="M597.92 1477.9h51.52"/>
<path stroke="#503ce6" d="M661.82 1477.9h64.30"/>
<path stroke="#372ddc" d="M738.50 1477.9h64.30"/>
<path stroke="#2a2ad8" d="M815.18 1477.9h38.74"/>
<path stroke="#f9767c" d="M546.80 1477.9h13.18"/>
<path stroke="#dcd4fa" d="M572.36 1482.6h0.40"/>
<path stroke="#a0a0fa" d="M585.14 1482.6h0.40"/>
<path stroke="#6868f2" d="M597.92 1482.6h0.40"/>
<path stroke="#5c48ec" d="M610.70 1482.6h128.20"/>
<path stroke="#503ce6" d="M751.28 1482.6h0.40"/>
<path stroke="#4430e0" d="M764.06 1482.6h0.40"/>
<path stroke="#372ddc" d="M776.84 1482.6h77.08"/>
<path stroke="#f9767c" d="M546.80 1482.6h13.18"/>
<path stroke="#f4b4dc" d="M585.14 1487.4h0.40"/>
<path stroke="#d0d0fc" d="M597.92 1487.4h0.40"/>
<path stroke="#7880f6" d="M610.70 1487.4h38.74"/>
<path stroke="#7074f4" d="M661.82 1487.4h0.40"/>
<path stroke="#5c48ec" d="M674.60 1487.4h64.30"/>
<path stroke="#503ce6" d="M751.28 1487.4h0.40"/>
<path stroke="#1c26d0" d="M764.06 1487.4h89.86"/>
<path stroke="#f9767c" d="M546.80 1487.4h25.96"/>
<path stroke="#f4b4dc" d="M585.14 1491.7h0.40"/>
<path stroke="#d0d0fc" d="M597.92 1491.7h0.40"/>
<path stroke="#8c90f8" d="M610.70 1491.7h0.40"/>
<path stroke="#7880f6" d="M623.48 1491.7h13.18"/>
<path stroke="#7074f4" d="M649.04 1491.7h25.96"/>
<path stroke="#5c48ec" d="M687.38 1491.7h64.30"/>
<path stroke="#f9767c" d="M546.80 1491.7h25.96"/>
<path stroke="#dcd4fa" d="M585.14 1495.9h0.40"/>
<path stroke="#a0a0fa" d="M597.92 1495.9h0.40"/>
<path stroke="#7880f6" d="M610.70 1495.9h13.18"/>
<path stroke="#7074f4" d="M636.26 1495.9h25.96"/>
<path stroke="#5c48ec" d="M674.60 1495.9h64.30"/>
<path stroke="#503ce6" d="M751.28 1495.9h0.40"/>
<path stroke="#f9767c" d="M546.80 1495.9h25.96"/>
<path stroke="#f4b4dc" d="M585.14 1500.7h0.40"/>
<path stroke="#d0d0fc" d="M597.92 1500.7h0.40"/>
<path stroke="#8c90f8" d="M610.70 1500.7h0.40"/>
<path stroke="#7880f6" d="M623.48 1500.7h25.96"/>
<path stroke="#6258ef" d="M661.82 1500.7h51.52"/>
<path stroke="#5c48ec" d="M725.72 1500.7h25.96"/>
<path stroke="#f9767c" d="M546.80 1500.7h25.96"/>
<path stroke="#f4b4dc" d="M597.92 1505.5h0.40"/>
<path stroke="#f0c0f0" d="M610.70 1505.5h0.40"/>
<path stroke="#dcd4fa" d="M623.48 1505.5h0.40"/>
<path stroke="#d6d2fb" d="M636.26 1505.5h0.40"/>
<path stroke="#d0d0fc" d="M649.04 1505.5h0.40"/>
<path stroke="#8c90f8" d="M661.82 1505.5h38.74"/>
<path stroke="#7880f6" d="M712.94 1505.5h0.40"/>
<path stroke="#7074f4" d="M725.72 1505.5h0.40"/>
<path stroke="#6258ef" d="M738.50 1505.5h13.18"/>
<path stroke="#f9767c" d="M546.80 1505.5h38.74"/>
<path stroke="#f4b4dc" d="M597.92 1510.3h0.40"/>
<path stroke="#f0c0f0" d="M610.70 1510.3h0.40"/>
<path stroke="#dcd4fa" d="M623.48 1510.3h0.40"/>
<path stroke="#d6d2fb" d="M636.26 1510.3h0.40"/>
<path stroke="#d0d0fc" d="M649.04 1510.3h0.40"/>
<path stroke="#8c90f8" d="M661.82 1510.3h25.96"/>
<path stroke="#7880f6" d="M700.16 1510.3h13.18"/>
<path stroke="#6258ef" d="M725.72 1510.3h13.18"/>
<path stroke="#5c48ec" d="M751.28 1510.3h64.30"/>
<path stroke="#503ce6" d="M827.96 1510.3h25.96"/>
<path stroke="#f9767c" d="M546.80 1510.3h38.74"/>
<path stroke="#f4b4dc" d="M597.92 1515.1h0.40"/>
<path stroke="#e6caf5" d="M610.70 1515.1h0.40"/>
<path stroke="#dcd4fa" d="M623.48 1515.1h0.40"/>
<path stroke="#d0d0fc" d="M636.26 1515.1h0.40"/>
<path stroke="#7880f6" d="M649.04 1515.1h38.74"/>
<path stroke="#7074f4" d="M700.16 1515.1h0.40"/>
<path stroke="#5c48ec" d="M712.94 1515.1h64.30"/>
<path stroke="#503ce6" d="M789.62 1515.1h0.40"/>
<path stroke="#4430e0" d="M802.40 1515.1h51.52"/>
<path stroke="#f9767c" d="M546.80 1515.1h38.74"/>
<path stroke="#f4b4dc" d="M610.70 1519.8h0.40"/>
<path stroke="#e6caf5" d="M623.48 1519.8h0.40"/>
<path stroke="#dcd4fa" d="M636.26 1519.8h0.40"/>
<path stroke="#d0d0fc" d="M649.04 1519.8h0.40"/>
<path stroke="#8c90f8" d="M661.82 1519.8h0.40"/>
<path stroke="#7880f6" d="M674.60 1519.8h38.74"/>
<path stroke="#6868f2" d="M725.72 1519.8h128.20"/>
<path stroke="#f9767c" d="M546.80 1519.8h51.52"/>
<path stroke="#dcd4fa" d="M636.26 1524.6h0.40"/>
<path stroke="#a0a0fa" d="M649.04 1524.6h0.40"/>
<path stroke="#7880f6" d="M661.82 1524.6h38.74"/>
<path stroke="#6868f2" d="M712.94 1524.6h140.98"/>
<path stroke="#f9767c" d="M546.80 1524.6h77.08"/>
<path stroke="#f9767c" d="M546.80 1528.9h153.76"/>
<path stroke="#f9767c" d="M546.80 1532.6h153.76"/>
<path stroke="#f9767c" d="M546.80 1535.8h153.76"/>
<path stroke="#f9767c" d="M546.80 1538.7h153.76"/>
</g>
<path stroke-width="17.2" stroke-linecap="round" fill="none" stroke="#f9767c" d="M545.5 1235h2.6M545.5 1239.7h2.6M545.5 1244h2.6M545.5 1248.8h2.6M545.5 1253.6h2.6M545.5 1258.3h2.6M545.5 1263.1h2.6M545.5 1267.9h2.6M545.5 1272.7h2.6M545.5 1277.5h2.6M545.5 1282.3h2.6M545.5 1287h2.6M545.5 1291.8h2.6M545.5 1296.6h2.6M545.5 1301.4h2.6M545.5 1306.2h2.6M545.5 1311h2.6M545.5 1315.2h2.6M545.5 1320h2.6M545.5 1324.8h2.6M545.5 1329.6h2.6M545.5 1334.4h2.6M545.5 1339.1h2.6M545.5 1343.9h2.6M545.5 1348.7h2.6M545.5 1353.5h2.6M545.5 1358.3h2.6M545.5 1363.1h2.6M545.5 1367.8h2.6M545.5 1372.6h2.6M545.5 1377.4h2.6M545.5 1382.2h2.6M545.5 1387h2.6M545.5 1391.8h2.6M545.5 1396.5h2.6M545.5 1401.3h2.6M545.5 1406.1h2.6M545.5 1410.9h2.6M545.5 1415.7h2.6M545.5 1420.5h2.6M545.5 1425.2h2.6M545.5 1430h2.6M545.5 1434.8h2.6M545.5 1439.6h2.6M545.5 1444.4h2.6M545.5 1449.2h2.6M545.5 1453.9h2.6M545.5 1458.7h2.6M545.5 1463.5h2.6M545.5 1468.3h2.6M545.5 1473.1h2.6M545.5 1477.9h2.6M545.5 1482.6h2.6M545.5 1487.4h2.6M545.5 1491.7h2.6M545.5 1495.9h2.6M545.5 1500.7h2.6M545.5 1505.5h2.6M545.5 1510.3h2.6M545.5 1515.1h2.6M545.5 1519.8h2.6M545.5 1524.6h2.6M545.5 1528.9h2.6M545.5 1532.6h2.6M545.5 1535.8h2.6M545.5 1538.7h2.6"/>
<g stroke-width="17.2" stroke-linecap="round" fill="none" stroke-dasharray="0 12.780">
<path stroke="#e6caf5" d="M945.08 1235h0.40"/>
<path stroke="#7074f4" d="M957.86 1235h0.40"/>
<path stroke="#6868f2" d="M970.64 1235h0.40"/>
<path stroke="#5c48ec" d="M983.42 1235h0.40"/>
<path stroke="#503ce6" d="M996.20 1235h0.40"/>
<path stroke="#4430e0" d="M1008.98 1235h0.40"/>
<path stroke="#372ddc" d="M1021.76 1235h0.40"/>
<path stroke="#2a2ad8" d="M1034.54 1235h13.18"/>
<path stroke="#2328d4" d="M1060.10 1235h25.96"/>
<path stroke="#1c26d0" d="M1098.44 1235h102.64"/>
<path stroke="#1c24cc" d="M1213.46 1235h25.96"/>
<path stroke="#fa6468" d="M932.30 1235h0.40"/>
<path stroke="#e6caf5" d="M945.08 1239.7h0.40"/>
<path stroke="#7074f4" d="M957.86 1239.7h0.40"/>
<path stroke="#6868f2" d="M970.64 1239.7h0.40"/>
<path stroke="#6258ef" d="M983.42 1239.7h0.40"/>
<path stroke="#5c48ec" d="M996.20 1239.7h0.40"/>
<path stroke="#503ce6" d="M1008.98 1239.7h0.40"/>
<path stroke="#4430e0" d="M1021.76 1239.7h0.40"/>
<path stroke="#372ddc" d="M1034.54 1239.7h0.40"/>
<path stroke="#2a2ad8" d="M1047.32 1239.7h13.18"/>
<path stroke="#2328d4" d="M1072.88 1239.7h25.96"/>
<path stroke="#1c26d0" d="M1111.22 1239.7h128.20"/>
<path stroke="#fa6468" d="M932.30 1239.7h0.40"/>
<path stroke="#e6caf5" d="M945.08 1244h0.40"/>
<path stroke="#7074f4" d="M957.86 1244h0.40"/>
<path stroke="#6868f2" d="M970.64 1244h0.40"/>
<path stroke="#6258ef" d="M983.42 1244h0.40"/>
<path stroke="#5c48ec" d="M996.20 1244h0.40"/>
<path stroke="#503ce6" d="M1008.98 1244h0.40"/>
<path stroke="#4430e0" d="M1021.76 1244h0.40"/>
<path stroke="#372ddc" d="M1034.54 1244h0.40"/>
<path stroke="#2a2ad8" d="M1047.32 1244h13.18"/>
<path stroke="#2328d4" d="M1072.88 1244h25.96"/>
<path stroke="#1c26d0" d="M1111.22 1244h128.20"/>
<path stroke="#fa6468" d="M932.30 1244h0.40"/>
<path stroke="#e6caf5" d="M945.08 1248.8h0.40"/>
<path stroke="#2a2ad8" d="M957.86 1248.8h0.40"/>
<path stroke="#1c26d0" d="M970.64 1248.8h102.64"/>
<path stroke="#1c24cc" d="M1085.66 1248.8h115.42"/>
<path stroke="#1c22c8" d="M1213.46 1248.8h25.96"/>
<path stroke="#fa6468" d="M932.30 1248.8h0.40"/>
<path stroke="#e6caf5" d="M945.08 1253.6h0.40"/>
<path stroke="#503ce6" d="M957.86 1253.6h0.40"/>
<path stroke="#2a2ad8" d="M970.64 1253.6h25.96"/>
<path stroke="#2328d4" d="M1008.98 1253.6h128.20"/>
<path stroke="#1c26d0" d="M1149.56 1253.6h89.86"/>
<path stroke="#fa6468" d="M932.30 1253.6h0.40"/>
<path stroke="#e6caf5" d="M945.08 1258.3h0.40"/>
<path stroke="#372ddc" d="M957.86 1258.3h0.40"/>
<path stroke="#2a2ad8" d="M970.64 1258.3h0.40"/>
<path stroke="#2328d4" d="M983.42 1258.3h115.42"/>
<path stroke="#1c26d0" d="M1111.22 1258.3h128.20"/>
<path stroke="#fa6468" d="M932.30 1258.3h0.40"/>
<path stroke="#e6caf5" d="M945.08 1263.1h0.40"/>
<path stroke="#372ddc" d="M957.86 1263.1h0.40"/>
<path stroke="#2328d4" d="M970.64 1263.1h51.52"/>
<path stroke="#1c26d0" d="M1034.54 1263.1h115.42"/>
<path stroke="#1c24cc" d="M1162.34 1263.1h77.08"/>
<path stroke="#fa6468" d="M932.30 1263.1h0.40"/>
<path stroke="#e6caf5" d="M945.08 1267.9h0.40"/>
<path stroke="#7074f4" d="M957.86 1267.9h0.40"/>
<path stroke="#6868f2" d="M970.64 1267.9h0.40"/>
<path stroke="#6258ef" d="M983.42 1267.9h0.40"/>
<path stroke="#5c48ec" d="M996.20 1267.9h0.40"/>
<path stroke="#4430e0" d="M1008.98 1267.9h0.40"/>
<path stroke="#372ddc" d="M1021.76 1267.9h0.40"/>
<path stroke="#2a2ad8" d="M1034.54 1267.9h0.40"/>
<path stroke="#2328d4" d="M1047.32 1267.9h13.18"/>
<path stroke="#1c26d0" d="M1072.88 1267.9h115.42"/>
<path stroke="#1c24cc" d="M1200.68 1267.9h38.74"/>
<path stroke="#fa6468" d="M932.30 1267.9h0.40"/>
<path stroke="#e6caf5" d="M945.08 1272.7h0.40"/>
<path stroke="#6868f2" d="M957.86 1272.7h0.40"/>
<path stroke="#6258ef" d="M970.64 1272.7h0.40"/>
<path stroke="#503ce6" d="M983.42 1272.7h0.40"/>
<path stroke="#4430e0" d="M996.20 1272.7h0.40"/>
<path stroke="#372ddc" d="M1008.98 1272.7h0.40"/>
<path stroke="#2328d4" d="M1021.76 1272.7h13.18"/>
<path stroke="#1c26d0" d="M1047.32 1272.7h25.96"/>
<path stroke="#1c24cc" d="M1085.66 1272.7h102.64"/>
<path stroke="#1c22c8" d="M1200.68 1272.7h38.74"/>
<path stroke="#fa6468" d="M932.30 1272.7h0.40"/>
<path stroke="#e6caf5" d="M945.08 1277.5h0.40"/>
<path stroke="#7880f6" d="M957.86 1277.5h0.40"/>
<path stroke="#7074f4" d="M970.64 1277.5h0.40"/>
<path stroke="#6258ef" d="M983.42 1277.5h0.40"/>
<path stroke="#5c48ec" d="M996.20 1277.5h0.40"/>
<path stroke="#503ce6" d="M1008.98 1277.5h0.40"/>
<path stroke="#372ddc" d="M1021.76 1277.5h0.40"/>
<path stroke="#2a2ad8" d="M1034.54 1277.5h0.40"/>
<path stroke="#2328d4" d="M1047.32 1277.5h13.18"/>
<path stroke="#1c26d0" d="M1072.88 1277.5h89.86"/>
<path stroke="#1c24cc" d="M1175.12 1277.5h64.30"/>
<path stroke="#fa6468" d="M932.30 1277.5h0.40"/>
<path stroke="#e6caf5" d="M945.08 1282.3h0.40"/>
<path stroke="#7074f4" d="M957.86 1282.3h0.40"/>
<path stroke="#6868f2" d="M970.64 1282.3h0.40"/>
<path stroke="#6258ef" d="M983.42 1282.3h0.40"/>
<path stroke="#503ce6" d="M996.20 1282.3h0.40"/>
<path stroke="#4430e0" d="M1008.98 1282.3h0.40"/>
<path stroke="#372ddc" d="M1021.76 1282.3h0.40"/>
<path stroke="#2a2ad8" d="M1034.54 1282.3h0.40"/>
<path stroke="#2328d4" d="M1047.32 1282.3h38.74"/>
<path stroke="#1c26d0" d="M1098.44 1282.3h102.64"/>
<path stroke="#1c24cc" d="M1213.46 1282.3h25.96"/>
<path stroke="#fa6468" d="M932.30 1282.3h0.40"/>
<path stroke="#e6caf5" d="M945.08 1287h0.40"/>
<path stroke="#7074f4" d="M957.86 1287h0.40"/>
<path stroke="#6868f2" d="M970.64 1287h0.40"/>
<path stroke="#6258ef" d="M983.42 1287h0.40"/>
<path stroke="#503ce6" d="M996.20 1287h0.40"/>
<path stroke="#4430e0" d="M1008.98 1287h0.40"/>
<path stroke="#372ddc" d="M1021.76 1287h0.40"/>
<path stroke="#2a2ad8" d="M1034.54 1287h0.40"/>
<path stroke="#2328d4" d="M1047.32 1287h38.74"/>
<path stroke="#1c26d0" d="M1098.44 1287h102.64"/>
<path stroke="#1c24cc" d="M1213.46 1287h25.96"/>
<path stroke="#fa6468" d="M932.30 1287h0.40"/>
<path stroke="#e6caf5" d="M945.08 1291.8h0.40"/>
<path stroke="#6868f2" d="M957.86 1291.8h0.40"/>
<path stroke="#6258ef" d="M970.64 1291.8h0.40"/>
<path stroke="#5c48ec" d="M983.42 1291.8h0.40"/>
<path stroke="#503ce6" d="M996.20 1291.8h0.40"/>
<path stroke="#372ddc" d="M1008.98 1291.8h0.40"/>
<path stroke="#2a2ad8" d="M1021.76 1291.8h13.18"/>
<path stroke="#2328d4" d="M1047.32 1291.8h13.18"/>
<path stroke="#1c26d0" d="M1072.88 1291.8h102.64"/>
<path stroke="#1c24cc" d="M1187.90 1291.8h51.52"/>
<path stroke="#fa6468" d="M932.30 1291.8h0.40"/>
<path stroke="#e6caf5" d="M945.08 1296.6h0.40"/>
<path stroke="#7074f4" d="M957.86 1296.6h0.40"/>
<path stroke="#6868f2" d="M970.64 1296.6h0.40"/>
<path stroke="#5c48ec" d="M983.42 1296.6h0.40"/>
<path stroke="#503ce6" d="M996.20 1296.6h0.40"/>
<path stroke="#4430e0" d="M1008.98 1296.6h0.40"/>
<path stroke="#372ddc" d="M1021.76 1296.6h0.40"/>
<path stroke="#2a2ad8" d="M1034.54 1296.6h0.40"/>
<path stroke="#2328d4" d="M1047.32 1296.6h0.40"/>
<path stroke="#1c26d0" d="M1060.10 1296.6h38.74"/>
<path stroke="#1c24cc" d="M1111.22 1296.6h128.20"/>
<path stroke="#fa6468" d="M932.30 1296.6h0.40"/>
<path stroke="#e6caf5" d="M945.08 1301.4h0.40"/>
<path stroke="#6868f2" d="M957.86 1301.4h0.40"/>
<path stroke="#6258ef" d="M970.64 1301.4h0.40"/>
<path stroke="#5c48ec" d="M983.42 1301.4h0.40"/>
<path stroke="#503ce6" d="M996.20 1301.4h0.40"/>
<path stroke="#372ddc" d="M1008.98 1301.4h0.40"/>
<path stroke="#2a2ad8" d="M1021.76 1301.4h0.40"/>
<path stroke="#2328d4" d="M1034.54 1301.4h0.40"/>
<path stroke="#1c26d0" d="M1047.32 1301.4h64.30"/>
<path stroke="#1c24cc" d="M1124.00 1301.4h115.42"/>
<path stroke="#fa6468" d="M932.30 1301.4h0.40"/>
<path stroke="#e6caf5" d="M945.08 1306.2h0.40"/>
<path stroke="#7880f6" d="M957.86 1306.2h0.40"/>
<path stroke="#6258ef" d="M970.64 1306.2h0.40"/>
<path stroke="#6868f2" d="M983.42 1306.2h0.40"/>
<path stroke="#6258ef" d="M996.20 1306.2h0.40"/>
<path stroke="#5c48ec" d="M1008.98 1306.2h0.40"/>
<path stroke="#4430e0" d="M1021.76 1306.2h0.40"/>
<path stroke="#372ddc" d="M1034.54 1306.2h0.40"/>
<path stroke="#2a2ad8" d="M1047.32 1306.2h13.18"/>
<path stroke="#2328d4" d="M1072.88 1306.2h89.86"/>
<path stroke="#1c26d0" d="M1175.12 1306.2h64.30"/>
<path stroke="#fa6468" d="M932.30 1306.2h0.40"/>
<path stroke="#e6caf5" d="M945.08 1311h0.40"/>
<path stroke="#7880f6" d="M957.86 1311h0.40"/>
<path stroke="#7074f4" d="M970.64 1311h0.40"/>
<path stroke="#6258ef" d="M983.42 1311h0.40"/>
<path stroke="#5c48ec" d="M996.20 1311h0.40"/>
<path stroke="#503ce6" d="M1008.98 1311h0.40"/>
<path stroke="#372ddc" d="M1021.76 1311h0.40"/>
<path stroke="#2a2ad8" d="M1034.54 1311h13.18"/>
<path stroke="#2328d4" d="M1060.10 1311h0.40"/>
<path stroke="#1c26d0" d="M1072.88 1311h89.86"/>
<path stroke="#1c24cc" d="M1175.12 1311h64.30"/>
<path stroke="#fa6468" d="M932.30 1311h0.40"/>
<path stroke="#e6caf5" d="M945.08 1315.2h0.40"/>
<path stroke="#7880f6" d="M957.86 1315.2h0.40"/>
<path stroke="#6868f2" d="M970.64 1315.2h0.40"/>
<path stroke="#6258ef" d="M983.42 1315.2h0.40"/>
<path stroke="#5c48ec" d="M996.20 1315.2h0.40"/>
<path stroke="#503ce6" d="M1008.98 1315.2h0.40"/>
<path stroke="#372ddc" d="M1021.76 1315.2h0.40"/>
<path stroke="#2a2ad8" d="M1034.54 1315.2h13.18"/>
<path stroke="#2328d4" d="M1060.10 1315.2h13.18"/>
<path stroke="#1c26d0" d="M1085.66 1315.2h115.42"/>
<path stroke="#1c24cc" d="M1213.46 1315.2h25.96"/>
<path stroke="#fa6468" d="M932.30 1315.2h0.40"/>
<path stroke="#e6caf5" d="M945.08 1320h0.40"/>
<path stroke="#8c90f8" d="M957.86 1320h0.40"/>
<path stroke="#7074f4" d="M970.64 1320h0.40"/>
<path stroke="#6258ef" d="M983.42 1320h0.40"/>
<path stroke="#5c48ec" d="M996.20 1320h13.18"/>
<path stroke="#503ce6" d="M1021.76 1320h0.40"/>
<path stroke="#372ddc" d="M1034.54 1320h0.40"/>
<path stroke="#2a2ad8" d="M1047.32 1320h0.40"/>
<path stroke="#2328d4" d="M1060.10 1320h13.18"/>
<path stroke="#1c26d0" d="M1085.66 1320h77.08"/>
<path stroke="#1c24cc" d="M1175.12 1320h64.30"/>
<path stroke="#fa6468" d="M932.30 1320h0.40"/>
<path stroke="#e6caf5" d="M945.08 1324.8h0.40"/>
<path stroke="#8c90f8" d="M957.86 1324.8h0.40"/>
<path stroke="#6868f2" d="M970.64 1324.8h13.18"/>
<path stroke="#6258ef" d="M996.20 1324.8h0.40"/>
<path stroke="#5c48ec" d="M1008.98 1324.8h13.18"/>
<path stroke="#4430e0" d="M1034.54 1324.8h0.40"/>
<path stroke="#372ddc" d="M1047.32 1324.8h0.40"/>
<path stroke="#2a2ad8" d="M1060.10 1324.8h13.18"/>
<path stroke="#2328d4" d="M1085.66 1324.8h38.74"/>
<path stroke="#1c26d0" d="M1136.78 1324.8h102.64"/>
<path stroke="#fa6468" d="M932.30 1324.8h0.40"/>
<path stroke="#e6caf5" d="M945.08 1329.6h0.40"/>
<path stroke="#7880f6" d="M957.86 1329.6h0.40"/>
<path stroke="#6868f2" d="M970.64 1329.6h13.18"/>
<path stroke="#6258ef" d="M996.20 1329.6h0.40"/>
<path stroke="#5c48ec" d="M1008.98 1329.6h0.40"/>
<path stroke="#4430e0" d="M1021.76 1329.6h0.40"/>
<path stroke="#372ddc" d="M1034.54 1329.6h0.40"/>
<path stroke="#2a2ad8" d="M1047.32 1329.6h0.40"/>
<path stroke="#2328d4" d="M1060.10 1329.6h77.08"/>
<path stroke="#1c26d0" d="M1149.56 1329.6h89.86"/>
<path stroke="#fa6468" d="M932.30 1329.6h0.40"/>
<path stroke="#e6caf5" d="M945.08 1334.4h0.40"/>
<path stroke="#7074f4" d="M957.86 1334.4h0.40"/>
<path stroke="#6868f2" d="M970.64 1334.4h0.40"/>
<path stroke="#6258ef" d="M983.42 1334.4h0.40"/>
<path stroke="#5c48ec" d="M996.20 1334.4h0.40"/>
<path stroke="#503ce6" d="M1008.98 1334.4h0.40"/>
<path stroke="#372ddc" d="M1021.76 1334.4h0.40"/>
<path stroke="#2a2ad8" d="M1034.54 1334.4h0.40"/>
<path stroke="#2328d4" d="M1047.32 1334.4h0.40"/>
<path stroke="#1c26d0" d="M1060.10 1334.4h89.86"/>
<path stroke="#1c24cc" d="M1162.34 1334.4h77.08"/>
<path stroke="#fa6468" d="M932.30 1334.4h0.40"/>
<path stroke="#e6caf5" d="M945.08 1339.1h0.40"/>
<path stroke="#7074f4" d="M957.86 1339.1h0.40"/>
<path stroke="#6258ef" d="M970.64 1339.1h0.40"/>
<path stroke="#5c48ec" d="M983.42 1339.1h0.40"/>
<path stroke="#503ce6" d="M996.20 1339.1h0.40"/>
<path stroke="#4430e0" d="M1008.98 1339.1h0.40"/>
<path stroke="#2a2ad8" d="M1021.76 1339.1h0.40"/>
<path stroke="#2328d4" d="M1034.54 1339.1h13.18"/>
<path stroke="#1c26d0" d="M1060.10 1339.1h51.52"/>
<path stroke="#1c24cc" d="M1124.00 1339.1h115.42"/>
<path stroke="#fa6468" d="M932.30 1339.1h0.40"/>
<path stroke="#e6caf5" d="M945.08 1343.9h0.40"/>
<path stroke="#7880f6" d="M957.86 1343.9h0.40"/>
<path stroke="#6868f2" d="M970.64 1343.9h0.40"/>
<path stroke="#6258ef" d="M983.42 1343.9h0.40"/>
<path stroke="#5c48ec" d="M996.20 1343.9h0.40"/>
<path stroke="#503ce6" d="M1008.98 1343.9h0.40"/>
<path stroke="#4430e0" d="M1021.76 1343.9h0.40"/>
<path stroke="#372ddc" d="M1034.54 1343.9h0.40"/>
<path stroke="#2a2ad8" d="M1047.32 1343.9h0.40"/>
<path stroke="#2328d4" d="M1060.10 1343.9h0.40"/>
<path stroke="#1c26d0" d="M1072.88 1343.9h89.86"/>
<path stroke="#1c24cc" d="M1175.12 1343.9h64.30"/>
<path stroke="#fa6468" d="M932.30 1343.9h0.40"/>
<path stroke="#e6caf5" d="M945.08 1348.7h0.40"/>
<path stroke="#7880f6" d="M957.86 1348.7h0.40"/>
<path stroke="#6868f2" d="M970.64 1348.7h0.40"/>
<path stroke="#6258ef" d="M983.42 1348.7h0.40"/>
<path stroke="#5c48ec" d="M996.20 1348.7h0.40"/>
<path stroke="#503ce6" d="M1008.98 1348.7h0.40"/>
<path stroke="#4430e0" d="M1021.76 1348.7h0.40"/>
<path stroke="#2a2ad8" d="M1034.54 1348.7h0.40"/>
<path stroke="#2328d4" d="M1047.32 1348.7h13.18"/>
<path stroke="#1c26d0" d="M1072.88 1348.7h38.74"/>
<path stroke="#1c24cc" d="M1124.00 1348.7h115.42"/>
<path stroke="#fa6468" d="M932.30 1348.7h0.40"/>
<path stroke="#e6caf5" d="M945.08 1353.5h0.40"/>
<path stroke="#7074f4" d="M957.86 1353.5h0.40"/>
<path stroke="#6868f2" d="M970.64 1353.5h0.40"/>
<path stroke="#6258ef" d="M983.42 1353.5h0.40"/>
<path stroke="#5c48ec" d="M996.20 1353.5h0.40"/>
<path stroke="#503ce6" d="M1008.98 1353.5h0.40"/>
<path stroke="#372ddc" d="M1021.76 1353.5h0.40"/>
<path stroke="#2a2ad8" d="M1034.54 1353.5h0.40"/>
<path stroke="#2328d4" d="M1047.32 1353.5h13.18"/>
<path stroke="#1c26d0" d="M1072.88 1353.5h89.86"/>
<path stroke="#1c24cc" d="M1175.12 1353.5h64.30"/>
<path stroke="#fa6468" d="M932.30 1353.5h0.40"/>
<path stroke="#e6caf5" d="M945.08 1358.3h0.40"/>
<path stroke="#a0a0fa" d="M957.86 1358.3h13.18"/>
<path stroke="#8c90f8" d="M983.42 1358.3h13.18"/>
<path stroke="#4430e0" d="M1008.98 1358.3h0.40"/>
<path stroke="#372ddc" d="M1021.76 1358.3h13.18"/>
<path stroke="#2a2ad8" d="M1047.32 1358.3h25.96"/>
<path stroke="#2328d4" d="M1085.66 1358.3h77.08"/>
<path stroke="#1c26d0" d="M1175.12 1358.3h64.30"/>
<path stroke="#fa6468" d="M932.30 1358.3h0.40"/>
<path stroke="#e6caf5" d="M945.08 1363.1h0.40"/>
<path stroke="#8c90f8" d="M957.86 1363.1h25.96"/>
<path stroke="#7880f6" d="M996.20 1363.1h0.40"/>
<path stroke="#372ddc" d="M1008.98 1363.1h0.40"/>
<path stroke="#2a2ad8" d="M1021.76 1363.1h25.96"/>
<path stroke="#2328d4" d="M1060.10 1363.1h25.96"/>
<path stroke="#1c26d0" d="M1098.44 1363.1h102.64"/>
<path stroke="#1c24cc" d="M1213.46 1363.1h25.96"/>
<path stroke="#fa6468" d="M932.30 1363.1h0.40"/>
<path stroke="#e6caf5" d="M945.08 1367.8h0.40"/>
<path stroke="#a0a0fa" d="M957.86 1367.8h0.40"/>
<path stroke="#8c90f8" d="M970.64 1367.8h13.18"/>
<path stroke="#6868f2" d="M996.20 1367.8h0.40"/>
<path stroke="#372ddc" d="M1008.98 1367.8h13.18"/>
<path stroke="#2a2ad8" d="M1034.54 1367.8h13.18"/>
<path stroke="#2328d4" d="M1060.10 1367.8h51.52"/>
<path stroke="#1c26d0" d="M1124.00 1367.8h115.42"/>
<path stroke="#fa6468" d="M932.30 1367.8h0.40"/>
<path stroke="#e6caf5" d="M945.08 1372.6h0.40"/>
<path stroke="#d0d0fc" d="M957.86 1372.6h0.40"/>
<path stroke="#a0a0fa" d="M970.64 1372.6h0.40"/>
<path stroke="#8c90f8" d="M983.42 1372.6h0.40"/>
<path stroke="#6258ef" d="M996.20 1372.6h0.40"/>
<path stroke="#372ddc" d="M1008.98 1372.6h25.96"/>
<path stroke="#2a2ad8" d="M1047.32 1372.6h13.18"/>
<path stroke="#2328d4" d="M1072.88 1372.6h89.86"/>
<path stroke="#1c26d0" d="M1175.12 1372.6h64.30"/>
<path stroke="#fa6468" d="M932.30 1372.6h0.40"/>
<path stroke="#e6caf5" d="M945.08 1377.4h0.40"/>
<path stroke="#6868f2" d="M957.86 1377.4h0.40"/>
<path stroke="#6258ef" d="M970.64 1377.4h13.18"/>
<path stroke="#7074f4" d="M996.20 1377.4h51.52"/>
<path stroke="#6868f2" d="M1060.10 1377.4h38.74"/>
<path stroke="#5c48ec" d="M1111.22 1377.4h0.40"/>
<path stroke="#372ddc" d="M1124.00 1377.4h0.40"/>
<path stroke="#2a2ad8" d="M1136.78 1377.4h38.74"/>
<path stroke="#2328d4" d="M1187.90 1377.4h51.52"/>
<path stroke="#fa6468" d="M932.30 1377.4h0.40"/>
<path stroke="#e6caf5" d="M945.08 1382.2h0.40"/>
<path stroke="#6258ef" d="M957.86 1382.2h0.40"/>
<path stroke="#6868f2" d="M970.64 1382.2h64.30"/>
<path stroke="#6258ef" d="M1047.32 1382.2h51.52"/>
<path stroke="#4430e0" d="M1111.22 1382.2h0.40"/>
<path stroke="#2a2ad8" d="M1124.00 1382.2h0.40"/>
<path stroke="#2328d4" d="M1136.78 1382.2h25.96"/>
<path stroke="#1c26d0" d="M1175.12 1382.2h64.30"/>
<path stroke="#fa6468" d="M932.30 1382.2h0.40"/>
<path stroke="#e6caf5" d="M945.08 1387h0.40"/>
<path stroke="#6258ef" d="M957.86 1387h0.40"/>
<path stroke="#7074f4" d="M970.64 1387h25.96"/>
<path stroke="#6868f2" d="M1008.98 1387h64.30"/>
<path stroke="#6258ef" d="M1085.66 1387h0.40"/>
<path stroke="#5c48ec" d="M1098.44 1387h0.40"/>
<path stroke="#372ddc" d="M1111.22 1387h0.40"/>
<path stroke="#2328d4" d="M1124.00 1387h64.30"/>
<path stroke="#1c26d0" d="M1200.68 1387h38.74"/>
<path stroke="#fa6468" d="M932.30 1387h0.40"/>
<path stroke="#e6caf5" d="M945.08 1391.8h0.40"/>
<path stroke="#7074f4" d="M957.86 1391.8h0.40"/>
<path stroke="#6868f2" d="M970.64 1391.8h0.40"/>
<path stroke="#6258ef" d="M983.42 1391.8h0.40"/>
<path stroke="#4430e0" d="M996.20 1391.8h0.40"/>
<path stroke="#372ddc" d="M1008.98 1391.8h25.96"/>
<path stroke="#2a2ad8" d="M1047.32 1391.8h38.74"/>
<path stroke="#1c26d0" d="M1098.44 1391.8h38.74"/>
<path stroke="#1c24cc" d="M1149.56 1391.8h89.86"/>
<path stroke="#fa6468" d="M932.30 1391.8h0.40"/>
<path stroke="#e6caf5" d="M945.08 1396.5h0.40"/>
<path stroke="#7880f6" d="M957.86 1396.5h0.40"/>
<path stroke="#6258ef" d="M970.64 1396.5h0.40"/>
<path stroke="#6868f2" d="M983.42 1396.5h0.40"/>
<path stroke="#6258ef" d="M996.20 1396.5h0.40"/>
<path stroke="#5c48ec" d="M1008.98 1396.5h0.40"/>
<path stroke="#372ddc" d="M1021.76 1396.5h89.86"/>
<path stroke="#2a2ad8" d="M1124.00 1396.5h0.40"/>
<path stroke="#2328d4" d="M1136.78 1396.5h0.40"/>
<path stroke="#1c26d0" d="M1149.56 1396.5h77.08"/>
<path stroke="#1c24cc" d="M1239.02 1396.5h0.40"/>
<path stroke="#fa6468" d="M932.30 1396.5h0.40"/>
<path stroke="#e6caf5" d="M945.08 1401.3h0.40"/>
<path stroke="#7880f6" d="M957.86 1401.3h0.40"/>
<path stroke="#7074f4" d="M970.64 1401.3h0.40"/>
<path stroke="#5c48ec" d="M983.42 1401.3h0.40"/>
<path stroke="#503ce6" d="M996.20 1401.3h0.40"/>
<path stroke="#4430e0" d="M1008.98 1401.3h38.74"/>
<path stroke="#372ddc" d="M1060.10 1401.3h102.64"/>
<path stroke="#2a2ad8" d="M1175.12 1401.3h64.30"/>
<path stroke="#fa6468" d="M932.30 1401.3h0.40"/>
<path stroke="#e6caf5" d="M945.08 1406.1h0.40"/>
<path stroke="#8c90f8" d="M957.86 1406.1h0.40"/>
<path stroke="#6868f2" d="M970.64 1406.1h0.40"/>
<path stroke="#6258ef" d="M983.42 1406.1h0.40"/>
<path stroke="#503ce6" d="M996.20 1406.1h77.08"/>
<path stroke="#4430e0" d="M1085.66 1406.1h89.86"/>
<path stroke="#372ddc" d="M1187.90 1406.1h51.52"/>
<path stroke="#fa6468" d="M932.30 1406.1h0.40"/>
<path stroke="#e6caf5" d="M945.08 1410.9h0.40"/>
<path stroke="#7074f4" d="M957.86 1410.9h0.40"/>
<path stroke="#6868f2" d="M970.64 1410.9h0.40"/>
<path stroke="#503ce6" d="M983.42 1410.9h0.40"/>
<path stroke="#4430e0" d="M996.20 1410.9h64.30"/>
<path stroke="#372ddc" d="M1072.88 1410.9h77.08"/>
<path stroke="#2a2ad8" d="M1162.34 1410.9h77.08"/>
<path stroke="#fa6468" d="M932.30 1410.9h0.40"/>
<path stroke="#e6caf5" d="M945.08 1415.7h0.40"/>
<path stroke="#7880f6" d="M957.86 1415.7h0.40"/>
<path stroke="#6258ef" d="M970.64 1415.7h0.40"/>
<path stroke="#5c48ec" d="M983.42 1415.7h13.18"/>
<path stroke="#4430e0" d="M1008.98 1415.7h102.64"/>
<path stroke="#372ddc" d="M1124.00 1415.7h77.08"/>
<path stroke="#2a2ad8" d="M1213.46 1415.7h25.96"/>
<path stroke="#fa6468" d="M932.30 1415.7h0.40"/>
<path stroke="#e6caf5" d="M945.08 1420.5h0.40"/>
<path stroke="#7880f6" d="M957.86 1420.5h0.40"/>
<path stroke="#7074f4" d="M970.64 1420.5h0.40"/>
<path stroke="#5c48ec" d="M983.42 1420.5h0.40"/>
<path stroke="#503ce6" d="M996.20 1420.5h0.40"/>
<path stroke="#4430e0" d="M1008.98 1420.5h25.96"/>
<path stroke="#372ddc" d="M1047.32 1420.5h102.64"/>
<path stroke="#2a2ad8" d="M1162.34 1420.5h77.08"/>
<path stroke="#fa6468" d="M932.30 1420.5h0.40"/>
<path stroke="#e6caf5" d="M945.08 1425.2h0.40"/>
<path stroke="#d0d0fc" d="M957.86 1425.2h0.40"/>
<path stroke="#7880f6" d="M970.64 1425.2h0.40"/>
<path stroke="#6868f2" d="M983.42 1425.2h0.40"/>
<path stroke="#7074f4" d="M996.20 1425.2h0.40"/>
<path stroke="#6868f2" d="M1008.98 1425.2h25.96"/>
<path stroke="#6258ef" d="M1047.32 1425.2h25.96"/>
<path stroke="#5c48ec" d="M1085.66 1425.2h13.18"/>
<path stroke="#503ce6" d="M1111.22 1425.2h25.96"/>
<path stroke="#4430e0" d="M1149.56 1425.2h89.86"/>
<path stroke="#fa6468" d="M932.30 1425.2h0.40"/>
<path stroke="#e6caf5" d="M945.08 1430h0.40"/>
<path stroke="#d0d0fc" d="M957.86 1430h0.40"/>
<path stroke="#7880f6" d="M970.64 1430h0.40"/>
<path stroke="#6258ef" d="M983.42 1430h0.40"/>
<path stroke="#6868f2" d="M996.20 1430h0.40"/>
<path stroke="#6258ef" d="M1008.98 1430h13.18"/>
<path stroke="#5c48ec" d="M1034.54 1430h38.74"/>
<path stroke="#503ce6" d="M1085.66 1430h13.18"/>
<path stroke="#5c48ec" d="M1111.22 1430h0.40"/>
<path stroke="#503ce6" d="M1124.00 1430h0.40"/>
<path stroke="#372ddc" d="M1136.78 1430h102.64"/>
<path stroke="#fa6468" d="M932.30 1430h0.40"/>
<path stroke="#e6caf5" d="M945.08 1434.8h0.40"/>
<path stroke="#a0a0fa" d="M957.86 1434.8h0.40"/>
<path stroke="#6868f2" d="M970.64 1434.8h13.18"/>
<path stroke="#6258ef" d="M996.20 1434.8h13.18"/>
<path stroke="#5c48ec" d="M1021.76 1434.8h25.96"/>
<path stroke="#503ce6" d="M1060.10 1434.8h13.18"/>
<path stroke="#4430e0" d="M1085.66 1434.8h0.40"/>
<path stroke="#503ce6" d="M1098.44 1434.8h0.40"/>
<path stroke="#372ddc" d="M1111.22 1434.8h89.86"/>
<path stroke="#2a2ad8" d="M1213.46 1434.8h25.96"/>
<path stroke="#fa6468" d="M932.30 1434.8h0.40"/>
<path stroke="#e6caf5" d="M945.08 1439.6h0.40"/>
<path stroke="#d0d0fc" d="M957.86 1439.6h0.40"/>
<path stroke="#7880f6" d="M970.64 1439.6h0.40"/>
<path stroke="#6868f2" d="M983.42 1439.6h0.40"/>
<path stroke="#7074f4" d="M996.20 1439.6h0.40"/>
<path stroke="#6868f2" d="M1008.98 1439.6h13.18"/>
<path stroke="#6258ef" d="M1034.54 1439.6h25.96"/>
<path stroke="#5c48ec" d="M1072.88 1439.6h25.96"/>
<path stroke="#503ce6" d="M1111.22 1439.6h13.18"/>
<path stroke="#4430e0" d="M1136.78 1439.6h77.08"/>
<path stroke="#372ddc" d="M1226.24 1439.6h13.18"/>
<path stroke="#fa6468" d="M932.30 1439.6h0.40"/>
<path stroke="#e6caf5" d="M945.08 1444.4h0.40"/>
<path stroke="#d0d0fc" d="M957.86 1444.4h0.40"/>
<path stroke="#7880f6" d="M970.64 1444.4h0.40"/>
<path stroke="#6868f2" d="M983.42 1444.4h25.96"/>
<path stroke="#6258ef" d="M1021.76 1444.4h13.18"/>
<path stroke="#5c48ec" d="M1047.32 1444.4h38.74"/>
<path stroke="#503ce6" d="M1098.44 1444.4h0.40"/>
<path stroke="#4430e0" d="M1111.22 1444.4h0.40"/>
<path stroke="#503ce6" d="M1124.00 1444.4h0.40"/>
<path stroke="#4430e0" d="M1136.78 1444.4h38.74"/>
<path stroke="#372ddc" d="M1187.90 1444.4h51.52"/>
<path stroke="#fa6468" d="M932.30 1444.4h0.40"/>
<path stroke="#e6caf5" d="M945.08 1449.2h0.40"/>
<path stroke="#d0d0fc" d="M957.86 1449.2h0.40"/>
<path stroke="#7074f4" d="M970.64 1449.2h13.18"/>
<path stroke="#6868f2" d="M996.20 1449.2h13.18"/>
<path stroke="#6258ef" d="M1021.76 1449.2h13.18"/>
<path stroke="#5c48ec" d="M1047.32 1449.2h25.96"/>
<path stroke="#503ce6" d="M1085.66 1449.2h13.18"/>
<path stroke="#4430e0" d="M1111.22 1449.2h51.52"/>
<path stroke="#372ddc" d="M1175.12 1449.2h64.30"/>
<path stroke="#fa6468" d="M932.30 1449.2h0.40"/>
<path stroke="#e6caf5" d="M957.86 1453.9h0.40"/>
<path stroke="#4430e0" d="M970.64 1453.9h13.18"/>
<path stroke="#503ce6" d="M996.20 1453.9h0.40"/>
<path stroke="#6258ef" d="M1008.98 1453.9h64.30"/>
<path stroke="#503ce6" d="M1085.66 1453.9h38.74"/>
<path stroke="#4430e0" d="M1136.78 1453.9h51.52"/>
<path stroke="#372ddc" d="M1200.68 1453.9h38.74"/>
<path stroke="#fa6468" d="M932.30 1453.9h13.18"/>
<path stroke="#e6caf5" d="M957.86 1458.7h0.40"/>
<path stroke="#4430e0" d="M970.64 1458.7h0.40"/>
<path stroke="#5c48ec" d="M983.42 1458.7h0.40"/>
<path stroke="#503ce6" d="M996.20 1458.7h0.40"/>
<path stroke="#6258ef" d="M1008.98 1458.7h38.74"/>
<path stroke="#5c48ec" d="M1060.10 1458.7h13.18"/>
<path stroke="#4430e0" d="M1085.66 1458.7h0.40"/>
<path stroke="#503ce6" d="M1098.44 1458.7h13.18"/>
<path stroke="#4430e0" d="M1124.00 1458.7h38.74"/>
<path stroke="#372ddc" d="M1175.12 1458.7h64.30"/>
<path stroke="#fa6468" d="M932.30 1458.7h13.18"/>
<path stroke="#e6caf5" d="M957.86 1463.5h0.40"/>
<path stroke="#6868f2" d="M970.64 1463.5h0.40"/>
<path stroke="#503ce6" d="M983.42 1463.5h25.96"/>
<path stroke="#6868f2" d="M1021.76 1463.5h38.74"/>
<path stroke="#6258ef" d="M1072.88 1463.5h38.74"/>
<path stroke="#503ce6" d="M1124.00 1463.5h0.40"/>
<path stroke="#5c48ec" d="M1136.78 1463.5h0.40"/>
<path stroke="#503ce6" d="M1149.56 1463.5h64.30"/>
<path stroke="#4430e0" d="M1226.24 1463.5h13.18"/>
<path stroke="#fa6468" d="M932.30 1463.5h13.18"/>
<path stroke="#e6caf5" d="M957.86 1468.3h0.40"/>
<path stroke="#4430e0" d="M970.64 1468.3h0.40"/>
<path stroke="#5c48ec" d="M983.42 1468.3h13.18"/>
<path stroke="#6258ef" d="M1008.98 1468.3h51.52"/>
<path stroke="#5c48ec" d="M1072.88 1468.3h13.18"/>
<path stroke="#503ce6" d="M1098.44 1468.3h13.18"/>
<path stroke="#4430e0" d="M1124.00 1468.3h38.74"/>
<path stroke="#372ddc" d="M1175.12 1468.3h64.30"/>
<path stroke="#fa6468" d="M932.30 1468.3h13.18"/>
<path stroke="#e6caf5" d="M970.64 1473.1h0.40"/>
<path stroke="#7074f4" d="M983.42 1473.1h25.96"/>
<path stroke="#6868f2" d="M1021.76 1473.1h89.86"/>
<path stroke="#6258ef" d="M1124.00 1473.1h0.40"/>
<path stroke="#5c48ec" d="M1136.78 1473.1h0.40"/>
<path stroke="#503ce6" d="M1149.56 1473.1h64.30"/>
<path stroke="#4430e0" d="M1226.24 1473.1h13.18"/>
<path stroke="#fa6468" d="M932.30 1473.1h25.96"/>
<path stroke="#e6caf5" d="M970.64 1477.9h0.40"/>
<path stroke="#6868f2" d="M983.42 1477.9h38.74"/>
<path stroke="#6258ef" d="M1034.54 1477.9h64.30"/>
<path stroke="#5c48ec" d="M1111.22 1477.9h0.40"/>
<path stroke="#503ce6" d="M1124.00 1477.9h0.40"/>
<path stroke="#4430e0" d="M1136.78 1477.9h25.96"/>
<path stroke="#5c48ec" d="M1175.12 1477.9h64.30"/>
<path stroke="#fa6468" d="M932.30 1477.9h25.96"/>
<path stroke="#e6caf5" d="M970.64 1482.6h0.40"/>
<path stroke="#6868f2" d="M983.42 1482.6h89.86"/>
<path stroke="#6258ef" d="M1085.66 1482.6h25.96"/>
<path stroke="#6868f2" d="M1124.00 1482.6h0.40"/>
<path stroke="#6258ef" d="M1136.78 1482.6h0.40"/>
<path stroke="#5c48ec" d="M1149.56 1482.6h0.40"/>
<path stroke="#503ce6" d="M1162.34 1482.6h25.96"/>
<path stroke="#4430e0" d="M1200.68 1482.6h25.96"/>
<path stroke="#5c48ec" d="M1239.02 1482.6h0.40"/>
<path stroke="#fa6468" d="M932.30 1482.6h25.96"/>
<path stroke="#e6caf5" d="M983.42 1487.4h0.40"/>
<path stroke="#7880f6" d="M996.20 1487.4h38.74"/>
<path stroke="#7074f4" d="M1047.32 1487.4h0.40"/>
<path stroke="#6868f2" d="M1060.10 1487.4h64.30"/>
<path stroke="#6258ef" d="M1136.78 1487.4h0.40"/>
<path stroke="#372ddc" d="M1149.56 1487.4h89.86"/>
<path stroke="#fa6468" d="M932.30 1487.4h38.74"/>
<path stroke="#e6caf5" d="M983.42 1491.7h0.40"/>
<path stroke="#8c90f8" d="M996.20 1491.7h0.40"/>
<path stroke="#7880f6" d="M1008.98 1491.7h13.18"/>
<path stroke="#7074f4" d="M1034.54 1491.7h25.96"/>
<path stroke="#6868f2" d="M1072.88 1491.7h51.52"/>
<path stroke="#6258ef" d="M1136.78 1491.7h0.40"/>
<path stroke="#fa6468" d="M932.30 1491.7h38.74"/>
<path stroke="#e6caf5" d="M983.42 1495.9h0.40"/>
<path stroke="#7880f6" d="M996.20 1495.9h13.18"/>
<path stroke="#7074f4" d="M1021.76 1495.9h25.96"/>
<path stroke="#6868f2" d="M1060.10 1495.9h38.74"/>
<path stroke="#6258ef" d="M1111.22 1495.9h25.96"/>
<path stroke="#fa6468" d="M932.30 1495.9h38.74"/>
<path stroke="#e6caf5" d="M983.42 1500.7h0.40"/>
<path stroke="#8c90f8" d="M996.20 1500.7h0.40"/>
<path stroke="#7880f6" d="M1008.98 1500.7h25.96"/>
<path stroke="#6258ef" d="M1047.32 1500.7h0.40"/>
<path stroke="#7074f4" d="M1060.10 1500.7h77.08"/>
<path stroke="#fa6468" d="M932.30 1500.7h38.74"/>
<path stroke="#f4b4dc" d="M996.20 1505.5h0.40"/>
<path stroke="#e6caf5" d="M1008.98 1505.5h0.40"/>
<path stroke="#dcd4fa" d="M1021.76 1505.5h0.40"/>
<path stroke="#d0d0fc" d="M1034.54 1505.5h0.40"/>
<path stroke="#8c90f8" d="M1047.32 1505.5h38.74"/>
<path stroke="#7880f6" d="M1098.44 1505.5h0.40"/>
<path stroke="#7074f4" d="M1111.22 1505.5h25.96"/>
<path stroke="#fa6468" d="M932.30 1505.5h51.52"/>
<path stroke="#f4b4dc" d="M996.20 1510.3h0.40"/>
<path stroke="#e6caf5" d="M1008.98 1510.3h0.40"/>
<path stroke="#dcd4fa" d="M1021.76 1510.3h0.40"/>
<path stroke="#d0d0fc" d="M1034.54 1510.3h0.40"/>
<path stroke="#8c90f8" d="M1047.32 1510.3h25.96"/>
<path stroke="#7880f6" d="M1085.66 1510.3h0.40"/>
<path stroke="#6868f2" d="M1098.44 1510.3h0.40"/>
<path stroke="#6258ef" d="M1111.22 1510.3h0.40"/>
<path stroke="#5c48ec" d="M1124.00 1510.3h64.30"/>
<path stroke="#503ce6" d="M1200.68 1510.3h0.40"/>
<path stroke="#4430e0" d="M1213.46 1510.3h25.96"/>
<path stroke="#fa6468" d="M932.30 1510.3h51.52"/>
<path stroke="#f4b4dc" d="M996.20 1515.1h0.40"/>
<path stroke="#dcd4fa" d="M1008.98 1515.1h0.40"/>
<path stroke="#d0d0fc" d="M1021.76 1515.1h0.40"/>
<path stroke="#7880f6" d="M1034.54 1515.1h38.74"/>
<path stroke="#7074f4" d="M1085.66 1515.1h0.40"/>
<path stroke="#5c48ec" d="M1098.44 1515.1h0.40"/>
<path stroke="#503ce6" d="M1111.22 1515.1h64.30"/>
<path stroke="#372ddc" d="M1187.90 1515.1h51.52"/>
<path stroke="#fa6468" d="M932.30 1515.1h51.52"/>
<path stroke="#f4b4dc" d="M1021.76 1519.8h0.40"/>
<path stroke="#d0d0fc" d="M1034.54 1519.8h0.40"/>
<path stroke="#8c90f8" d="M1047.32 1519.8h0.40"/>
<path stroke="#7880f6" d="M1060.10 1519.8h25.96"/>
<path stroke="#6258ef" d="M1098.44 1519.8h0.40"/>
<path stroke="#5c48ec" d="M1111.22 1519.8h25.96"/>
<path stroke="#503ce6" d="M1149.56 1519.8h89.86"/>
<path stroke="#fa6468" d="M932.30 1519.8h77.08"/>
<path stroke="#e6caf5" d="M1034.54 1524.6h0.40"/>
<path stroke="#7880f6" d="M1047.32 1524.6h38.74"/>
<path stroke="#5c48ec" d="M1098.44 1524.6h77.08"/>
<path stroke="#503ce6" d="M1187.90 1524.6h51.52"/>
<path stroke="#fa6468" d="M932.30 1524.6h89.86"/>
<path stroke="#fa6468" d="M932.30 1528.9h153.76"/>
<path stroke="#fa6468" d="M932.30 1532.6h153.76"/>
<path stroke="#fa6468" d="M932.30 1535.8h153.76"/>
<path stroke="#fa6468" d="M932.30 1538.7h153.76"/>
</g>
<path stroke-width="17.2" stroke-linecap="round" fill="none" stroke="#fa6468" d="M931 1235h2.6M931 1239.7h2.6M931 1244h2.6M931 1248.8h2.6M931 1253.6h2.6M931 1258.3h2.6M931 1263.1h2.6M931 1267.9h2.6M931 1272.7h2.6M931 1277.5h2.6M931 1282.3h2.6M931 1287h2.6M931 1291.8h2.6M931 1296.6h2.6M931 1301.4h2.6M931 1306.2h2.6M931 1311h2.6M931 1315.2h2.6M931 1320h2.6M931 1324.8h2.6M931 1329.6h2.6M931 1334.4h2.6M931 1339.1h2.6M931 1343.9h2.6M931 1348.7h2.6M931 1353.5h2.6M931 1358.3h2.6M931 1363.1h2.6M931 1367.8h2.6M931 1372.6h2.6M931 1377.4h2.6M931 1382.2h2.6M931 1387h2.6M931 1391.8h2.6M931 1396.5h2.6M931 1401.3h2.6M931 1406.1h2.6M931 1410.9h2.6M931 1415.7h2.6M931 1420.5h2.6M931 1425.2h2.6M931 1430h2.6M931 1434.8h2.6M931 1439.6h2.6M931 1444.4h2.6M931 1449.2h2.6M931 1453.9h2.6M931 1458.7h2.6M931 1463.5h2.6M931 1468.3h2.6M931 1473.1h2.6M931 1477.9h2.6M931 1482.6h2.6M931 1487.4h2.6M931 1491.7h2.6M931 1495.9h2.6M931 1500.7h2.6M931 1505.5h2.6M931 1510.3h2.6M931 1515.1h2.6M931 1519.8h2.6M931 1524.6h2.6M931 1528.9h2.6M931 1532.6h2.6M931 1535.8h2.6M931 1538.7h2.6"/>
<g stroke-width="17.2" stroke-linecap="round" fill="none" stroke-dasharray="0 9.680">
<path stroke="#d0d0fc" d="M154.98 1787.6h0.40"/>
<path stroke="#8c90f8" d="M164.66 1787.6h0.40"/>
<path stroke="#6258ef" d="M174.34 1787.6h0.40"/>
<path stroke="#5c48ec" d="M184.02 1787.6h0.40"/>
<path stroke="#503ce6" d="M193.70 1787.6h126.24"/>
<path stroke="#d6d2fb" d="M145.30 1787.6h0.40"/>
<path stroke="#cac8fc" d="M154.98 1802.2h0.40"/>
<path stroke="#6868f2" d="M164.66 1802.2h0.40"/>
<path stroke="#4430e0" d="M174.34 1802.2h0.40"/>
<path stroke="#2a2ad8" d="M184.02 1802.2h10.08"/>
<path stroke="#2328d4" d="M203.38 1802.2h116.56"/>
<path stroke="#d6d2fb" d="M145.30 1802.2h0.40"/>
<path stroke="#cac8fc" d="M154.98 1815.7h0.40"/>
<path stroke="#6868f2" d="M164.66 1815.7h0.40"/>
<path stroke="#4430e0" d="M174.34 1815.7h0.40"/>
<path stroke="#2a2ad8" d="M184.02 1815.7h0.40"/>
<path stroke="#2328d4" d="M193.70 1815.7h0.40"/>
<path stroke="#1c26d0" d="M203.38 1815.7h116.56"/>
<path stroke="#d6d2fb" d="M145.30 1815.7h0.40"/>
<path stroke="#d0d0fc" d="M154.98 1826h0.40"/>
<path stroke="#b2b0fb" d="M164.66 1826h0.40"/>
<path stroke="#7074f4" d="M174.34 1826h0.40"/>
<path stroke="#6258ef" d="M184.02 1826h0.40"/>
<path stroke="#5c48ec" d="M193.70 1826h0.40"/>
<path stroke="#503ce6" d="M203.38 1826h10.08"/>
<path stroke="#4430e0" d="M222.74 1826h97.20"/>
<path stroke="#d6d2fb" d="M145.30 1826h0.40"/>
<path stroke="#d0d0fc" d="M154.98 1846.2h0.40"/>
<path stroke="#7880f6" d="M164.66 1846.2h0.40"/>
<path stroke="#6258ef" d="M174.34 1846.2h0.40"/>
<path stroke="#503ce6" d="M184.02 1846.2h0.40"/>
<path stroke="#4430e0" d="M193.70 1846.2h126.24"/>
<path stroke="#d6d2fb" d="M145.30 1846.2h0.40"/>
<path stroke="#d0d0fc" d="M154.98 1852.9h0.40"/>
<path stroke="#7880f6" d="M164.66 1852.9h0.40"/>
<path stroke="#503ce6" d="M174.34 1852.9h0.40"/>
<path stroke="#4430e0" d="M184.02 1852.9h0.40"/>
<path stroke="#372ddc" d="M193.70 1852.9h10.08"/>
<path stroke="#2a2ad8" d="M213.06 1852.9h106.88"/>
<path stroke="#d6d2fb" d="M145.30 1852.9h0.40"/>
<path stroke="#d0d0fc" d="M154.98 1859.6h0.40"/>
<path stroke="#7880f6" d="M164.66 1859.6h0.40"/>
<path stroke="#503ce6" d="M174.34 1859.6h0.40"/>
<path stroke="#2a2ad8" d="M184.02 1859.6h0.40"/>
<path stroke="#2328d4" d="M193.70 1859.6h19.76"/>
<path stroke="#1c26d0" d="M222.74 1859.6h97.20"/>
<path stroke="#d6d2fb" d="M145.30 1859.6h0.40"/>
<path stroke="#d0d0fc" d="M154.98 1865.7h0.40"/>
<path stroke="#7880f6" d="M164.66 1865.7h0.40"/>
<path stroke="#503ce6" d="M174.34 1865.7h0.40"/>
<path stroke="#2a2ad8" d="M184.02 1865.7h0.40"/>
<path stroke="#2328d4" d="M193.70 1865.7h19.76"/>
<path stroke="#1c26d0" d="M222.74 1865.7h97.20"/>
<path stroke="#d6d2fb" d="M145.30 1865.7h0.40"/>
<path stroke="#d0d0fc" d="M154.98 1871.8h0.40"/>
<path stroke="#b2b0fb" d="M164.66 1871.8h0.40"/>
<path stroke="#7074f4" d="M174.34 1871.8h0.40"/>
<path stroke="#5c48ec" d="M184.02 1871.8h0.40"/>
<path stroke="#503ce6" d="M193.70 1871.8h10.08"/>
<path stroke="#4430e0" d="M213.06 1871.8h106.88"/>
<path stroke="#d6d2fb" d="M145.30 1871.8h0.40"/>
<path stroke="#d0d0fc" d="M154.98 1878h0.40"/>
<path stroke="#b2b0fb" d="M164.66 1878h0.40"/>
<path stroke="#7074f4" d="M174.34 1878h0.40"/>
<path stroke="#6258ef" d="M184.02 1878h0.40"/>
<path stroke="#503ce6" d="M193.70 1878h19.76"/>
<path stroke="#4430e0" d="M222.74 1878h97.20"/>
<path stroke="#d6d2fb" d="M145.30 1878h0.40"/>
<path stroke="#d0d0fc" d="M154.98 1884.1h0.40"/>
<path stroke="#b2b0fb" d="M164.66 1884.1h0.40"/>
<path stroke="#7074f4" d="M174.34 1884.1h0.40"/>
<path stroke="#6258ef" d="M184.02 1884.1h0.40"/>
<path stroke="#503ce6" d="M193.70 1884.1h19.76"/>
<path stroke="#4430e0" d="M222.74 1884.1h97.20"/>
<path stroke="#d6d2fb" d="M145.30 1884.1h0.40"/>
<path stroke="#d0d0fc" d="M154.98 1890.2h0.40"/>
<path stroke="#b2b0fb" d="M164.66 1890.2h0.40"/>
<path stroke="#7074f4" d="M174.34 1890.2h0.40"/>
<path stroke="#6258ef" d="M184.02 1890.2h0.40"/>
<path stroke="#503ce6" d="M193.70 1890.2h19.76"/>
<path stroke="#4430e0" d="M222.74 1890.2h97.20"/>
<path stroke="#d6d2fb" d="M145.30 1890.2h0.40"/>
<path stroke="#d0d0fc" d="M154.98 1896.3h0.40"/>
<path stroke="#b2b0fb" d="M164.66 1896.3h0.40"/>
<path stroke="#7074f4" d="M174.34 1896.3h0.40"/>
<path stroke="#6258ef" d="M184.02 1896.3h0.40"/>
<path stroke="#503ce6" d="M193.70 1896.3h19.76"/>
<path stroke="#4430e0" d="M222.74 1896.3h97.20"/>
<path stroke="#d6d2fb" d="M145.30 1896.3h0.40"/>
<path stroke="#d0d0fc" d="M154.98 1901.2h0.40"/>
<path stroke="#b2b0fb" d="M164.66 1901.2h0.40"/>
<path stroke="#7074f4" d="M174.34 1901.2h0.40"/>
<path stroke="#5c48ec" d="M184.02 1901.2h0.40"/>
<path stroke="#503ce6" d="M193.70 1901.2h10.08"/>
<path stroke="#4430e0" d="M213.06 1901.2h106.88"/>
<path stroke="#d6d2fb" d="M145.30 1901.2h0.40"/>
<path stroke="#d0d0fc" d="M154.98 1907.3h0.40"/>
<path stroke="#8c90f8" d="M164.66 1907.3h0.40"/>
<path stroke="#5c48ec" d="M174.34 1907.3h0.40"/>
<path stroke="#372ddc" d="M184.02 1907.3h0.40"/>
<path stroke="#2a2ad8" d="M193.70 1907.3h0.40"/>
<path stroke="#2328d4" d="M203.38 1907.3h19.76"/>
<path stroke="#1c26d0" d="M232.42 1907.3h87.52"/>
<path stroke="#d6d2fb" d="M145.30 1907.3h0.40"/>
<path stroke="#d0d0fc" d="M154.98 1912.2h0.40"/>
<path stroke="#a0a0fa" d="M164.66 1912.2h0.40"/>
<path stroke="#6258ef" d="M174.34 1912.2h0.40"/>
<path stroke="#4430e0" d="M184.02 1912.2h0.40"/>
<path stroke="#2a2ad8" d="M193.70 1912.2h10.08"/>
<path stroke="#2328d4" d="M213.06 1912.2h58.48"/>
<path stroke="#1c26d0" d="M280.82 1912.2h39.12"/>
<path stroke="#d6d2fb" d="M145.30 1912.2h0.40"/>
<path stroke="#cac8fc" d="M164.66 1918.9h0.40"/>
<path stroke="#8c90f8" d="M174.34 1918.9h0.40"/>
<path stroke="#7074f4" d="M184.02 1918.9h0.40"/>
<path stroke="#6868f2" d="M193.70 1918.9h0.40"/>
<path stroke="#6258ef" d="M203.38 1918.9h0.40"/>
<path stroke="#5c48ec" d="M213.06 1918.9h106.88"/>
<path stroke="#d6d2fb" d="M145.30 1918.9h10.08"/>
<path stroke="#cac8fc" d="M164.66 1923.8h0.40"/>
<path stroke="#8c90f8" d="M174.34 1923.8h0.40"/>
<path stroke="#7074f4" d="M184.02 1923.8h0.40"/>
<path stroke="#6868f2" d="M193.70 1923.8h0.40"/>
<path stroke="#6258ef" d="M203.38 1923.8h0.40"/>
<path stroke="#5c48ec" d="M213.06 1923.8h106.88"/>
<path stroke="#d6d2fb" d="M145.30 1923.8h10.08"/>
<path stroke="#d0d0fc" d="M154.98 1929.9h0.40"/>
<path stroke="#a0a0fa" d="M164.66 1929.9h0.40"/>
<path stroke="#6258ef" d="M174.34 1929.9h0.40"/>
<path stroke="#4430e0" d="M184.02 1929.9h0.40"/>
<path stroke="#372ddc" d="M193.70 1929.9h0.40"/>
<path stroke="#2a2ad8" d="M203.38 1929.9h10.08"/>
<path stroke="#2328d4" d="M222.74 1929.9h97.20"/>
<path stroke="#d6d2fb" d="M145.30 1929.9h0.40"/>
<path stroke="#c4c0fc" d="M164.66 1935.4h0.40"/>
<path stroke="#7074f4" d="M174.34 1935.4h0.40"/>
<path stroke="#5c48ec" d="M184.02 1935.4h0.40"/>
<path stroke="#4430e0" d="M193.70 1935.4h0.40"/>
<path stroke="#372ddc" d="M203.38 1935.4h10.08"/>
<path stroke="#2a2ad8" d="M222.74 1935.4h97.20"/>
<path stroke="#d6d2fb" d="M145.30 1935.4h10.08"/>
<path stroke="#d0d0fc" d="M164.66 1940.3h0.40"/>
<path stroke="#c4c0fc" d="M174.34 1940.3h0.40"/>
<path stroke="#8c90f8" d="M184.02 1940.3h0.40"/>
<path stroke="#7880f6" d="M193.70 1940.3h0.40"/>
<path stroke="#6868f2" d="M203.38 1940.3h0.40"/>
<path stroke="#6258ef" d="M213.06 1940.3h19.76"/>
<path stroke="#5c48ec" d="M242.10 1940.3h77.84"/>
<path stroke="#d6d2fb" d="M145.30 1940.3h10.08"/>
<path stroke="#d0d0fc" d="M164.66 1946.4h0.40"/>
<path stroke="#c4c0fc" d="M174.34 1946.4h0.40"/>
<path stroke="#8c90f8" d="M184.02 1946.4h0.40"/>
<path stroke="#7880f6" d="M193.70 1946.4h0.40"/>
<path stroke="#6868f2" d="M203.38 1946.4h0.40"/>
<path stroke="#6258ef" d="M213.06 1946.4h19.76"/>
<path stroke="#5c48ec" d="M242.10 1946.4h77.84"/>
<path stroke="#d6d2fb" d="M145.30 1946.4h10.08"/>
<path stroke="#d0d0fc" d="M164.66 1952.5h0.40"/>
<path stroke="#c4c0fc" d="M174.34 1952.5h0.40"/>
<path stroke="#8c90f8" d="M184.02 1952.5h0.40"/>
<path stroke="#7074f4" d="M193.70 1952.5h0.40"/>
<path stroke="#6868f2" d="M203.38 1952.5h0.40"/>
<path stroke="#6258ef" d="M213.06 1952.5h10.08"/>
<path stroke="#5c48ec" d="M232.42 1952.5h39.12"/>
<path stroke="#503ce6" d="M280.82 1952.5h39.12"/>
<path stroke="#d6d2fb" d="M145.30 1952.5h10.08"/>
<path stroke="#d0d0fc" d="M164.66 1959.8h0.40"/>
<path stroke="#c4c0fc" d="M174.34 1959.8h0.40"/>
<path stroke="#a0a0fa" d="M184.02 1959.8h0.40"/>
<path stroke="#7880f6" d="M193.70 1959.8h0.40"/>
<path stroke="#6868f2" d="M203.38 1959.8h0.40"/>
<path stroke="#5c48ec" d="M213.06 1959.8h0.40"/>
<path stroke="#503ce6" d="M222.74 1959.8h0.40"/>
<path stroke="#4430e0" d="M232.42 1959.8h10.08"/>
<path stroke="#372ddc" d="M251.78 1959.8h39.12"/>
<path stroke="#2a2ad8" d="M300.18 1959.8h19.76"/>
<path stroke="#d6d2fb" d="M145.30 1959.8h10.08"/>
<path stroke="#cac8fc" d="M174.34 1965.9h0.40"/>
<path stroke="#b2b0fb" d="M184.02 1965.9h0.40"/>
<path stroke="#8c90f8" d="M193.70 1965.9h0.40"/>
<path stroke="#7074f4" d="M203.38 1965.9h0.40"/>
<path stroke="#6258ef" d="M213.06 1965.9h0.40"/>
<path stroke="#5c48ec" d="M222.74 1965.9h0.40"/>
<path stroke="#503ce6" d="M232.42 1965.9h0.40"/>
<path stroke="#4430e0" d="M242.10 1965.9h10.08"/>
<path stroke="#372ddc" d="M261.46 1965.9h39.12"/>
<path stroke="#2a2ad8" d="M309.86 1965.9h10.08"/>
<path stroke="#d6d2fb" d="M145.30 1965.9h19.76"/>
<path stroke="#cac8fc" d="M174.34 1972h0.40"/>
<path stroke="#b2b0fb" d="M184.02 1972h0.40"/>
<path stroke="#8c90f8" d="M193.70 1972h0.40"/>
<path stroke="#7074f4" d="M203.38 1972h0.40"/>
<path stroke="#6258ef" d="M213.06 1972h0.40"/>
<path stroke="#5c48ec" d="M222.74 1972h0.40"/>
<path stroke="#503ce6" d="M232.42 1972h10.08"/>
<path stroke="#4430e0" d="M251.78 1972h10.08"/>
<path stroke="#372ddc" d="M271.14 1972h48.80"/>
<path stroke="#d6d2fb" d="M145.30 1972h19.76"/>
<path stroke="#cac8fc" d="M174.34 1978.1h0.40"/>
<path stroke="#b2b0fb" d="M184.02 1978.1h0.40"/>
<path stroke="#a0a0fa" d="M193.70 1978.1h0.40"/>
<path stroke="#7880f6" d="M203.38 1978.1h0.40"/>
<path stroke="#7074f4" d="M213.06 1978.1h0.40"/>
<path stroke="#6868f2" d="M222.74 1978.1h10.08"/>
<path stroke="#6258ef" d="M242.10 1978.1h29.44"/>
<path stroke="#5c48ec" d="M280.82 1978.1h39.12"/>
<path stroke="#d6d2fb" d="M145.30 1978.1h19.76"/>
<path stroke="#cac8fc" d="M174.34 1983.6h0.40"/>
<path stroke="#c4c0fc" d="M184.02 1983.6h0.40"/>
<path stroke="#a0a0fa" d="M193.70 1983.6h0.40"/>
<path stroke="#7880f6" d="M203.38 1983.6h0.40"/>
<path stroke="#7074f4" d="M213.06 1983.6h10.08"/>
<path stroke="#6868f2" d="M232.42 1983.6h10.08"/>
<path stroke="#6258ef" d="M251.78 1983.6h68.16"/>
<path stroke="#d6d2fb" d="M145.30 1983.6h19.76"/>
<path stroke="#d0d0fc" d="M174.34 1990.3h0.40"/>
<path stroke="#cac8fc" d="M184.02 1990.3h0.40"/>
<path stroke="#b2b0fb" d="M193.70 1990.3h0.40"/>
<path stroke="#8c90f8" d="M203.38 1990.3h0.40"/>
<path stroke="#7074f4" d="M213.06 1990.3h0.40"/>
<path stroke="#6868f2" d="M222.74 1990.3h0.40"/>
<path stroke="#6258ef" d="M232.42 1990.3h0.40"/>
<path stroke="#5c48ec" d="M242.10 1990.3h0.40"/>
<path stroke="#503ce6" d="M251.78 1990.3h0.40"/>
<path stroke="#4430e0" d="M261.46 1990.3h10.08"/>
<path stroke="#372ddc" d="M280.82 1990.3h29.44"/>
<path stroke="#2a2ad8" d="M319.54 1990.3h0.40"/>
<path stroke="#d6d2fb" d="M145.30 1990.3h19.76"/>
<path stroke="#d0d0fc" d="M174.34 1996.4h0.40"/>
<path stroke="#cac8fc" d="M184.02 1996.4h0.40"/>
<path stroke="#b2b0fb" d="M193.70 1996.4h0.40"/>
<path stroke="#8c90f8" d="M203.38 1996.4h0.40"/>
<path stroke="#7074f4" d="M213.06 1996.4h0.40"/>
<path stroke="#6868f2" d="M222.74 1996.4h0.40"/>
<path stroke="#6258ef" d="M232.42 1996.4h0.40"/>
<path stroke="#5c48ec" d="M242.10 1996.4h0.40"/>
<path stroke="#503ce6" d="M251.78 1996.4h0.40"/>
<path stroke="#4430e0" d="M261.46 1996.4h10.08"/>
<path stroke="#372ddc" d="M280.82 1996.4h29.44"/>
<path stroke="#2a2ad8" d="M319.54 1996.4h0.40"/>
<path stroke="#d6d2fb" d="M145.30 1996.4h19.76"/>
<path stroke="#d0d0fc" d="M174.34 2002.6h0.40"/>
<path stroke="#cac8fc" d="M184.02 2002.6h0.40"/>
<path stroke="#b2b0fb" d="M193.70 2002.6h0.40"/>
<path stroke="#8c90f8" d="M203.38 2002.6h0.40"/>
<path stroke="#7880f6" d="M213.06 2002.6h0.40"/>
<path stroke="#6868f2" d="M222.74 2002.6h0.40"/>
<path stroke="#6258ef" d="M232.42 2002.6h0.40"/>
<path stroke="#5c48ec" d="M242.10 2002.6h0.40"/>
<path stroke="#503ce6" d="M251.78 2002.6h10.08"/>
<path stroke="#4430e0" d="M271.14 2002.6h10.08"/>
<path stroke="#372ddc" d="M290.50 2002.6h29.44"/>
<path stroke="#d6d2fb" d="M145.30 2002.6h19.76"/>
<path stroke="#d0d0fc" d="M174.34 2009.9h0.40"/>
<path stroke="#cac8fc" d="M184.02 2009.9h0.40"/>
<path stroke="#b2b0fb" d="M193.70 2009.9h0.40"/>
<path stroke="#a0a0fa" d="M203.38 2009.9h0.40"/>
<path stroke="#7880f6" d="M213.06 2009.9h0.40"/>
<path stroke="#7074f4" d="M222.74 2009.9h0.40"/>
<path stroke="#6868f2" d="M232.42 2009.9h0.40"/>
<path stroke="#6258ef" d="M242.10 2009.9h10.08"/>
<path stroke="#5c48ec" d="M261.46 2009.9h29.44"/>
<path stroke="#503ce6" d="M300.18 2009.9h19.76"/>
<path stroke="#d6d2fb" d="M145.30 2009.9h19.76"/>
<path stroke="#d0d0fc" d="M184.02 2024.5h0.40"/>
<path stroke="#cac8fc" d="M193.70 2024.5h0.40"/>
<path stroke="#c4c0fc" d="M203.38 2024.5h0.40"/>
<path stroke="#b2b0fb" d="M213.06 2024.5h0.40"/>
<path stroke="#a0a0fa" d="M222.74 2024.5h0.40"/>
<path stroke="#8c90f8" d="M232.42 2024.5h0.40"/>
<path stroke="#7880f6" d="M242.10 2024.5h0.40"/>
<path stroke="#7074f4" d="M251.78 2024.5h0.40"/>
<path stroke="#6868f2" d="M261.46 2024.5h0.40"/>
<path stroke="#6258ef" d="M271.14 2024.5h10.08"/>
<path stroke="#5c48ec" d="M290.50 2024.5h19.76"/>
<path stroke="#503ce6" d="M319.54 2024.5h0.40"/>
<path stroke="#d6d2fb" d="M145.30 2024.5h29.44"/>
</g>
<path stroke-width="17.2" stroke-linecap="round" fill="none" stroke="#d6d2fb" d="M144.5 1787.6h1.6M144.5 1802.2h1.6M144.5 1815.7h1.6M144.5 1826h1.6M144.5 1846.2h1.6M144.5 1852.9h1.6M144.5 1859.6h1.6M144.5 1865.7h1.6M144.5 1871.8h1.6M144.5 1878h1.6M144.5 1884.1h1.6M144.5 1890.2h1.6M144.5 1896.3h1.6M144.5 1901.2h1.6M144.5 1907.3h1.6M144.5 1912.2h1.6M144.5 1918.9h1.6M144.5 1923.8h1.6M144.5 1929.9h1.6M144.5 1935.4h1.6M144.5 1940.3h1.6M144.5 1946.4h1.6M144.5 1952.5h1.6M144.5 1959.8h1.6M144.5 1965.9h1.6M144.5 1972h1.6M144.5 1978.1h1.6M144.5 1983.6h1.6M144.5 1990.3h1.6M144.5 1996.4h1.6M144.5 2002.6h1.6M144.5 2009.9h1.6M144.5 2024.5h1.6"/>
<g stroke-width="17.2" stroke-linecap="round" fill="none" stroke-dasharray="0 9.680">
<path stroke="#dcd4fa" d="M545.88 1787.6h0.40"/>
<path stroke="#7880f6" d="M555.56 1787.6h0.40"/>
<path stroke="#5c48ec" d="M565.24 1787.6h0.40"/>
<path stroke="#503ce6" d="M574.92 1787.6h0.40"/>
<path stroke="#4430e0" d="M584.60 1787.6h10.08"/>
<path stroke="#372ddc" d="M603.96 1787.6h106.88"/>
<path stroke="#f9767c" d="M536.20 1787.6h0.40"/>
<path stroke="#dcd4fa" d="M545.88 1802.2h0.40"/>
<path stroke="#7074f4" d="M555.56 1802.2h0.40"/>
<path stroke="#503ce6" d="M565.24 1802.2h0.40"/>
<path stroke="#4430e0" d="M574.92 1802.2h0.40"/>
<path stroke="#372ddc" d="M584.60 1802.2h39.12"/>
<path stroke="#2a2ad8" d="M633.00 1802.2h77.84"/>
<path stroke="#f9767c" d="M536.20 1802.2h0.40"/>
<path stroke="#dcd4fa" d="M545.88 1815.7h0.40"/>
<path stroke="#7880f6" d="M555.56 1815.7h0.40"/>
<path stroke="#5c48ec" d="M565.24 1815.7h0.40"/>
<path stroke="#4430e0" d="M574.92 1815.7h0.40"/>
<path stroke="#372ddc" d="M584.60 1815.7h48.80"/>
<path stroke="#2a2ad8" d="M642.68 1815.7h68.16"/>
<path stroke="#f9767c" d="M536.20 1815.7h0.40"/>
<path stroke="#dcd4fa" d="M545.88 1826h0.40"/>
<path stroke="#d0d0fc" d="M555.56 1826h0.40"/>
<path stroke="#7880f6" d="M565.24 1826h0.40"/>
<path stroke="#6868f2" d="M574.92 1826h0.40"/>
<path stroke="#6258ef" d="M584.60 1826h0.40"/>
<path stroke="#5c48ec" d="M594.28 1826h116.56"/>
<path stroke="#f9767c" d="M536.20 1826h0.40"/>
<path stroke="#dcd4fa" d="M545.88 1846.2h0.40"/>
<path stroke="#7880f6" d="M555.56 1846.2h0.40"/>
<path stroke="#5c48ec" d="M565.24 1846.2h0.40"/>
<path stroke="#503ce6" d="M574.92 1846.2h0.40"/>
<path stroke="#4430e0" d="M584.60 1846.2h10.08"/>
<path stroke="#372ddc" d="M603.96 1846.2h106.88"/>
<path stroke="#f9767c" d="M536.20 1846.2h0.40"/>
<path stroke="#dcd4fa" d="M545.88 1852.9h0.40"/>
<path stroke="#7880f6" d="M555.56 1852.9h0.40"/>
<path stroke="#6258ef" d="M565.24 1852.9h0.40"/>
<path stroke="#503ce6" d="M574.92 1852.9h0.40"/>
<path stroke="#4430e0" d="M584.60 1852.9h126.24"/>
<path stroke="#f9767c" d="M536.20 1852.9h0.40"/>
<path stroke="#dcd4fa" d="M545.88 1859.6h0.40"/>
<path stroke="#d0d0fc" d="M555.56 1859.6h0.40"/>
<path stroke="#7074f4" d="M565.24 1859.6h0.40"/>
<path stroke="#6258ef" d="M574.92 1859.6h0.40"/>
<path stroke="#5c48ec" d="M584.60 1859.6h19.76"/>
<path stroke="#503ce6" d="M613.64 1859.6h97.20"/>
<path stroke="#f9767c" d="M536.20 1859.6h0.40"/>
<path stroke="#dcd4fa" d="M545.88 1865.7h0.40"/>
<path stroke="#d0d0fc" d="M555.56 1865.7h0.40"/>
<path stroke="#7074f4" d="M565.24 1865.7h0.40"/>
<path stroke="#6258ef" d="M574.92 1865.7h0.40"/>
<path stroke="#5c48ec" d="M584.60 1865.7h19.76"/>
<path stroke="#503ce6" d="M613.64 1865.7h97.20"/>
<path stroke="#f9767c" d="M536.20 1865.7h0.40"/>
<path stroke="#dcd4fa" d="M545.88 1871.8h0.40"/>
<path stroke="#d0d0fc" d="M555.56 1871.8h0.40"/>
<path stroke="#7074f4" d="M565.24 1871.8h0.40"/>
<path stroke="#6258ef" d="M574.92 1871.8h0.40"/>
<path stroke="#503ce6" d="M584.60 1871.8h19.76"/>
<path stroke="#4430e0" d="M613.64 1871.8h97.20"/>
<path stroke="#f9767c" d="M536.20 1871.8h0.40"/>
<path stroke="#dcd4fa" d="M545.88 1878h0.40"/>
<path stroke="#a0a0fa" d="M555.56 1878h0.40"/>
<path stroke="#6258ef" d="M565.24 1878h0.40"/>
<path stroke="#4430e0" d="M574.92 1878h0.40"/>
<path stroke="#2a2ad8" d="M584.60 1878h10.08"/>
<path stroke="#2328d4" d="M603.96 1878h58.48"/>
<path stroke="#1c26d0" d="M671.72 1878h39.12"/>
<path stroke="#f9767c" d="M536.20 1878h0.40"/>
<path stroke="#dcd4fa" d="M545.88 1884.1h0.40"/>
<path stroke="#8c90f8" d="M555.56 1884.1h0.40"/>
<path stroke="#5c48ec" d="M565.24 1884.1h0.40"/>
<path stroke="#372ddc" d="M574.92 1884.1h0.40"/>
<path stroke="#2a2ad8" d="M584.60 1884.1h0.40"/>
<path stroke="#2328d4" d="M594.28 1884.1h19.76"/>
<path stroke="#1c26d0" d="M623.32 1884.1h87.52"/>
<path stroke="#f9767c" d="M536.20 1884.1h0.40"/>
<path stroke="#dcd4fa" d="M545.88 1890.2h0.40"/>
<path stroke="#8c90f8" d="M555.56 1890.2h0.40"/>
<path stroke="#5c48ec" d="M565.24 1890.2h0.40"/>
<path stroke="#372ddc" d="M574.92 1890.2h0.40"/>
<path stroke="#2a2ad8" d="M584.60 1890.2h0.40"/>
<path stroke="#2328d4" d="M594.28 1890.2h19.76"/>
<path stroke="#1c26d0" d="M623.32 1890.2h87.52"/>
<path stroke="#f9767c" d="M536.20 1890.2h0.40"/>
<path stroke="#dcd4fa" d="M545.88 1896.3h0.40"/>
<path stroke="#8c90f8" d="M555.56 1896.3h0.40"/>
<path stroke="#5c48ec" d="M565.24 1896.3h0.40"/>
<path stroke="#372ddc" d="M574.92 1896.3h0.40"/>
<path stroke="#2a2ad8" d="M584.60 1896.3h0.40"/>
<path stroke="#2328d4" d="M594.28 1896.3h19.76"/>
<path stroke="#1c26d0" d="M623.32 1896.3h87.52"/>
<path stroke="#f9767c" d="M536.20 1896.3h0.40"/>
<path stroke="#dcd4fa" d="M545.88 1901.2h0.40"/>
<path stroke="#8c90f8" d="M555.56 1901.2h0.40"/>
<path stroke="#5c48ec" d="M565.24 1901.2h0.40"/>
<path stroke="#372ddc" d="M574.92 1901.2h0.40"/>
<path stroke="#2a2ad8" d="M584.60 1901.2h0.40"/>
<path stroke="#2328d4" d="M594.28 1901.2h19.76"/>
<path stroke="#1c26d0" d="M623.32 1901.2h87.52"/>
<path stroke="#f9767c" d="M536.20 1901.2h0.40"/>
<path stroke="#dcd4fa" d="M545.88 1907.3h0.40"/>
<path stroke="#a0a0fa" d="M555.56 1907.3h0.40"/>
<path stroke="#6258ef" d="M565.24 1907.3h0.40"/>
<path stroke="#4430e0" d="M574.92 1907.3h0.40"/>
<path stroke="#2a2ad8" d="M584.60 1907.3h10.08"/>
<path stroke="#2328d4" d="M603.96 1907.3h58.48"/>
<path stroke="#1c26d0" d="M671.72 1907.3h39.12"/>
<path stroke="#f9767c" d="M536.20 1907.3h0.40"/>
<path stroke="#dcd4fa" d="M545.88 1912.2h0.40"/>
<path stroke="#a0a0fa" d="M555.56 1912.2h0.40"/>
<path stroke="#6258ef" d="M565.24 1912.2h0.40"/>
<path stroke="#4430e0" d="M574.92 1912.2h0.40"/>
<path stroke="#372ddc" d="M584.60 1912.2h0.40"/>
<path stroke="#2a2ad8" d="M594.28 1912.2h10.08"/>
<path stroke="#2328d4" d="M613.64 1912.2h97.20"/>
<path stroke="#f9767c" d="M536.20 1912.2h0.40"/>
<path stroke="#dcd4fa" d="M545.88 1918.9h0.40"/>
<path stroke="#d0d0fc" d="M555.56 1918.9h0.40"/>
<path stroke="#a0a0fa" d="M565.24 1918.9h0.40"/>
<path stroke="#7074f4" d="M574.92 1918.9h0.40"/>
<path stroke="#6868f2" d="M584.60 1918.9h0.40"/>
<path stroke="#6258ef" d="M594.28 1918.9h19.76"/>
<path stroke="#5c48ec" d="M623.32 1918.9h87.52"/>
<path stroke="#f9767c" d="M536.20 1918.9h0.40"/>
<path stroke="#dcd4fa" d="M545.88 1923.8h0.40"/>
<path stroke="#d0d0fc" d="M555.56 1923.8h0.40"/>
<path stroke="#7074f4" d="M565.24 1923.8h0.40"/>
<path stroke="#5c48ec" d="M574.92 1923.8h0.40"/>
<path stroke="#4430e0" d="M584.60 1923.8h0.40"/>
<path stroke="#372ddc" d="M594.28 1923.8h0.40"/>
<path stroke="#2a2ad8" d="M603.96 1923.8h19.76"/>
<path stroke="#2328d4" d="M633.00 1923.8h77.84"/>
<path stroke="#f9767c" d="M536.20 1923.8h0.40"/>
<path stroke="#dcd4fa" d="M545.88 1929.9h0.40"/>
<path stroke="#a0a0fa" d="M555.56 1929.9h0.40"/>
<path stroke="#6258ef" d="M565.24 1929.9h0.40"/>
<path stroke="#4430e0" d="M574.92 1929.9h0.40"/>
<path stroke="#372ddc" d="M584.60 1929.9h0.40"/>
<path stroke="#2a2ad8" d="M594.28 1929.9h10.08"/>
<path stroke="#2328d4" d="M613.64 1929.9h97.20"/>
<path stroke="#f9767c" d="M536.20 1929.9h0.40"/>
<path stroke="#dcd4fa" d="M555.56 1935.4h0.40"/>
<path stroke="#a0a0fa" d="M565.24 1935.4h0.40"/>
<path stroke="#7074f4" d="M574.92 1935.4h0.40"/>
<path stroke="#6868f2" d="M584.60 1935.4h0.40"/>
<path stroke="#6258ef" d="M594.28 1935.4h19.76"/>
<path stroke="#5c48ec" d="M623.32 1935.4h87.52"/>
<path stroke="#f9767c" d="M536.20 1935.4h10.08"/>
<path stroke="#f4b4dc" d="M555.56 1940.3h0.40"/>
<path stroke="#dcd4fa" d="M565.24 1940.3h0.40"/>
<path stroke="#d0d0fc" d="M574.92 1940.3h0.40"/>
<path stroke="#8c90f8" d="M584.60 1940.3h0.40"/>
<path stroke="#7074f4" d="M594.28 1940.3h10.08"/>
<path stroke="#6868f2" d="M613.64 1940.3h39.12"/>
<path stroke="#6258ef" d="M662.04 1940.3h48.80"/>
<path stroke="#f9767c" d="M536.20 1940.3h10.08"/>
<path stroke="#f4b4dc" d="M555.56 1946.4h0.40"/>
<path stroke="#dcd4fa" d="M565.24 1946.4h0.40"/>
<path stroke="#d0d0fc" d="M574.92 1946.4h0.40"/>
<path stroke="#8c90f8" d="M584.60 1946.4h0.40"/>
<path stroke="#7880f6" d="M594.28 1946.4h0.40"/>
<path stroke="#7074f4" d="M603.96 1946.4h10.08"/>
<path stroke="#6868f2" d="M623.32 1946.4h87.52"/>
<path stroke="#f9767c" d="M536.20 1946.4h10.08"/>
<path stroke="#f4b4dc" d="M555.56 1952.5h0.40"/>
<path stroke="#dcd4fa" d="M565.24 1952.5h0.40"/>
<path stroke="#d0d0fc" d="M574.92 1952.5h0.40"/>
<path stroke="#8c90f8" d="M584.60 1952.5h0.40"/>
<path stroke="#7880f6" d="M594.28 1952.5h0.40"/>
<path stroke="#7074f4" d="M603.96 1952.5h10.08"/>
<path stroke="#6868f2" d="M623.32 1952.5h87.52"/>
<path stroke="#f9767c" d="M536.20 1952.5h10.08"/>
<path stroke="#f4b4dc" d="M555.56 1959.8h0.40"/>
<path stroke="#e6caf5" d="M565.24 1959.8h0.40"/>
<path stroke="#dcd4fa" d="M574.92 1959.8h0.40"/>
<path stroke="#d0d0fc" d="M584.60 1959.8h0.40"/>
<path stroke="#8c90f8" d="M594.28 1959.8h0.40"/>
<path stroke="#7880f6" d="M603.96 1959.8h0.40"/>
<path stroke="#7074f4" d="M613.64 1959.8h10.08"/>
<path stroke="#6868f2" d="M633.00 1959.8h48.80"/>
<path stroke="#6258ef" d="M691.08 1959.8h19.76"/>
<path stroke="#f9767c" d="M536.20 1959.8h10.08"/>
<path stroke="#f4b4dc" d="M555.56 1965.9h0.40"/>
<path stroke="#e6caf5" d="M565.24 1965.9h0.40"/>
<path stroke="#dcd4fa" d="M574.92 1965.9h0.40"/>
<path stroke="#d0d0fc" d="M584.60 1965.9h0.40"/>
<path stroke="#8c90f8" d="M594.28 1965.9h0.40"/>
<path stroke="#7880f6" d="M603.96 1965.9h10.08"/>
<path stroke="#7074f4" d="M623.32 1965.9h0.40"/>
<path stroke="#6868f2" d="M633.00 1965.9h39.12"/>
<path stroke="#6258ef" d="M681.40 1965.9h29.44"/>
<path stroke="#f9767c" d="M536.20 1965.9h10.08"/>
<path stroke="#f4b4dc" d="M555.56 1972h0.40"/>
<path stroke="#e6caf5" d="M565.24 1972h0.40"/>
<path stroke="#dcd4fa" d="M574.92 1972h0.40"/>
<path stroke="#d0d0fc" d="M584.60 1972h0.40"/>
<path stroke="#8c90f8" d="M594.28 1972h0.40"/>
<path stroke="#7880f6" d="M603.96 1972h0.40"/>
<path stroke="#7074f4" d="M613.64 1972h10.08"/>
<path stroke="#6868f2" d="M633.00 1972h29.44"/>
<path stroke="#6258ef" d="M671.72 1972h39.12"/>
<path stroke="#f9767c" d="M536.20 1972h10.08"/>
<path stroke="#f4b4dc" d="M565.24 1978.1h0.40"/>
<path stroke="#d0d0fc" d="M574.92 1978.1h0.40"/>
<path stroke="#a0a0fa" d="M584.60 1978.1h0.40"/>
<path stroke="#7880f6" d="M594.28 1978.1h0.40"/>
<path stroke="#7074f4" d="M603.96 1978.1h10.08"/>
<path stroke="#6868f2" d="M623.32 1978.1h10.08"/>
<path stroke="#6258ef" d="M642.68 1978.1h68.16"/>
<path stroke="#f9767c" d="M536.20 1978.1h19.76"/>
<path stroke="#f4b4dc" d="M565.24 1983.6h0.40"/>
<path stroke="#d0d0fc" d="M574.92 1983.6h0.40"/>
<path stroke="#a0a0fa" d="M584.60 1983.6h0.40"/>
<path stroke="#7880f6" d="M594.28 1983.6h0.40"/>
<path stroke="#7074f4" d="M603.96 1983.6h0.40"/>
<path stroke="#6868f2" d="M613.64 1983.6h10.08"/>
<path stroke="#6258ef" d="M633.00 1983.6h29.44"/>
<path stroke="#5c48ec" d="M671.72 1983.6h39.12"/>
<path stroke="#f9767c" d="M536.20 1983.6h19.76"/>
<path stroke="#f4b4dc" d="M574.92 1990.3h0.40"/>
<path stroke="#d0d0fc" d="M584.60 1990.3h0.40"/>
<path stroke="#8c90f8" d="M594.28 1990.3h0.40"/>
<path stroke="#7880f6" d="M603.96 1990.3h0.40"/>
<path stroke="#6868f2" d="M613.64 1990.3h0.40"/>
<path stroke="#6258ef" d="M623.32 1990.3h0.40"/>
<path stroke="#5c48ec" d="M633.00 1990.3h0.40"/>
<path stroke="#503ce6" d="M642.68 1990.3h10.08"/>
<path stroke="#4430e0" d="M662.04 1990.3h10.08"/>
<path stroke="#372ddc" d="M681.40 1990.3h29.44"/>
<path stroke="#f9767c" d="M536.20 1990.3h29.44"/>
<path stroke="#f4b4dc" d="M574.92 1996.4h0.40"/>
<path stroke="#d0d0fc" d="M584.60 1996.4h0.40"/>
<path stroke="#8c90f8" d="M594.28 1996.4h0.40"/>
<path stroke="#7074f4" d="M603.96 1996.4h0.40"/>
<path stroke="#6868f2" d="M613.64 1996.4h0.40"/>
<path stroke="#6258ef" d="M623.32 1996.4h0.40"/>
<path stroke="#5c48ec" d="M633.00 1996.4h0.40"/>
<path stroke="#503ce6" d="M642.68 1996.4h0.40"/>
<path stroke="#4430e0" d="M652.36 1996.4h10.08"/>
<path stroke="#372ddc" d="M671.72 1996.4h29.44"/>
<path stroke="#2a2ad8" d="M710.44 1996.4h0.40"/>
<path stroke="#f9767c" d="M536.20 1996.4h29.44"/>
<path stroke="#f4b4dc" d="M574.92 2002.6h0.40"/>
<path stroke="#d0d0fc" d="M584.60 2002.6h0.40"/>
<path stroke="#8c90f8" d="M594.28 2002.6h0.40"/>
<path stroke="#7880f6" d="M603.96 2002.6h0.40"/>
<path stroke="#6868f2" d="M613.64 2002.6h0.40"/>
<path stroke="#6258ef" d="M623.32 2002.6h0.40"/>
<path stroke="#5c48ec" d="M633.00 2002.6h0.40"/>
<path stroke="#503ce6" d="M642.68 2002.6h10.08"/>
<path stroke="#4430e0" d="M662.04 2002.6h10.08"/>
<path stroke="#372ddc" d="M681.40 2002.6h29.44"/>
<path stroke="#f9767c" d="M536.20 2002.6h29.44"/>
<path stroke="#f4b4dc" d="M574.92 2009.9h0.40"/>
<path stroke="#d0d0fc" d="M584.60 2009.9h0.40"/>
<path stroke="#a0a0fa" d="M594.28 2009.9h0.40"/>
<path stroke="#7880f6" d="M603.96 2009.9h0.40"/>
<path stroke="#7074f4" d="M613.64 2009.9h0.40"/>
<path stroke="#6868f2" d="M623.32 2009.9h10.08"/>
<path stroke="#6258ef" d="M642.68 2009.9h10.08"/>
<path stroke="#5c48ec" d="M662.04 2009.9h48.80"/>
<path stroke="#f9767c" d="M536.20 2009.9h29.44"/>
<path stroke="#f4b4dc" d="M594.28 2024.5h0.40"/>
<path stroke="#e6caf5" d="M603.96 2024.5h0.40"/>
<path stroke="#dcd4fa" d="M613.64 2024.5h0.40"/>
<path stroke="#d0d0fc" d="M623.32 2024.5h0.40"/>
<path stroke="#8c90f8" d="M633.00 2024.5h10.08"/>
<path stroke="#7880f6" d="M652.36 2024.5h10.08"/>
<path stroke="#7074f4" d="M671.72 2024.5h19.76"/>
<path stroke="#6868f2" d="M700.76 2024.5h10.08"/>
<path stroke="#f9767c" d="M536.20 2024.5h48.80"/>
</g>
<path stroke-width="17.2" stroke-linecap="round" fill="none" stroke="#f9767c" d="M535.4 1787.6h1.6M535.4 1802.2h1.6M535.4 1815.7h1.6M535.4 1826h1.6M535.4 1846.2h1.6M535.4 1852.9h1.6M535.4 1859.6h1.6M535.4 1865.7h1.6M535.4 1871.8h1.6M535.4 1878h1.6M535.4 1884.1h1.6M535.4 1890.2h1.6M535.4 1896.3h1.6M535.4 1901.2h1.6M535.4 1907.3h1.6M535.4 1912.2h1.6M535.4 1918.9h1.6M535.4 1923.8h1.6M535.4 1929.9h1.6M535.4 1935.4h1.6M535.4 1940.3h1.6M535.4 1946.4h1.6M535.4 1952.5h1.6M535.4 1959.8h1.6M535.4 1965.9h1.6M535.4 1972h1.6M535.4 1978.1h1.6M535.4 1983.6h1.6M535.4 1990.3h1.6M535.4 1996.4h1.6M535.4 2002.6h1.6M535.4 2009.9h1.6M535.4 2024.5h1.6"/>
<g stroke-width="17.2" stroke-linecap="round" fill="none" stroke-dasharray="0 9.680">
<path stroke="#e6caf5" d="M936.68 1787.6h0.40"/>
<path stroke="#7880f6" d="M946.36 1787.6h0.40"/>
<path stroke="#5c48ec" d="M956.04 1787.6h0.40"/>
<path stroke="#503ce6" d="M965.72 1787.6h0.40"/>
<path stroke="#4430e0" d="M975.40 1787.6h10.08"/>
<path stroke="#372ddc" d="M994.76 1787.6h106.88"/>
<path stroke="#fa6d72" d="M927.00 1787.6h0.40"/>
<path stroke="#e6caf5" d="M936.68 1802.2h0.40"/>
<path stroke="#7074f4" d="M946.36 1802.2h0.40"/>
<path stroke="#503ce6" d="M956.04 1802.2h0.40"/>
<path stroke="#4430e0" d="M965.72 1802.2h0.40"/>
<path stroke="#372ddc" d="M975.40 1802.2h39.12"/>
<path stroke="#2a2ad8" d="M1023.80 1802.2h77.84"/>
<path stroke="#fa6d72" d="M927.00 1802.2h0.40"/>
<path stroke="#e6caf5" d="M936.68 1815.7h0.40"/>
<path stroke="#7880f6" d="M946.36 1815.7h0.40"/>
<path stroke="#5c48ec" d="M956.04 1815.7h0.40"/>
<path stroke="#4430e0" d="M965.72 1815.7h0.40"/>
<path stroke="#372ddc" d="M975.40 1815.7h48.80"/>
<path stroke="#2a2ad8" d="M1033.48 1815.7h68.16"/>
<path stroke="#fa6d72" d="M927.00 1815.7h0.40"/>
<path stroke="#e6caf5" d="M936.68 1826h0.40"/>
<path stroke="#d0d0fc" d="M946.36 1826h0.40"/>
<path stroke="#7880f6" d="M956.04 1826h0.40"/>
<path stroke="#6868f2" d="M965.72 1826h0.40"/>
<path stroke="#6258ef" d="M975.40 1826h0.40"/>
<path stroke="#5c48ec" d="M985.08 1826h116.56"/>
<path stroke="#fa6d72" d="M927.00 1826h0.40"/>
<path stroke="#e6caf5" d="M936.68 1846.2h0.40"/>
<path stroke="#7880f6" d="M946.36 1846.2h0.40"/>
<path stroke="#5c48ec" d="M956.04 1846.2h0.40"/>
<path stroke="#503ce6" d="M965.72 1846.2h0.40"/>
<path stroke="#4430e0" d="M975.40 1846.2h10.08"/>
<path stroke="#372ddc" d="M994.76 1846.2h106.88"/>
<path stroke="#fa6d72" d="M927.00 1846.2h0.40"/>
<path stroke="#e6caf5" d="M936.68 1852.9h0.40"/>
<path stroke="#7880f6" d="M946.36 1852.9h0.40"/>
<path stroke="#6258ef" d="M956.04 1852.9h0.40"/>
<path stroke="#503ce6" d="M965.72 1852.9h0.40"/>
<path stroke="#4430e0" d="M975.40 1852.9h126.24"/>
<path stroke="#fa6d72" d="M927.00 1852.9h0.40"/>
<path stroke="#e6caf5" d="M936.68 1859.6h0.40"/>
<path stroke="#d0d0fc" d="M946.36 1859.6h0.40"/>
<path stroke="#7074f4" d="M956.04 1859.6h0.40"/>
<path stroke="#6258ef" d="M965.72 1859.6h0.40"/>
<path stroke="#5c48ec" d="M975.40 1859.6h19.76"/>
<path stroke="#503ce6" d="M1004.44 1859.6h97.20"/>
<path stroke="#fa6d72" d="M927.00 1859.6h0.40"/>
<path stroke="#e6caf5" d="M936.68 1865.7h0.40"/>
<path stroke="#d0d0fc" d="M946.36 1865.7h0.40"/>
<path stroke="#7074f4" d="M956.04 1865.7h0.40"/>
<path stroke="#6258ef" d="M965.72 1865.7h0.40"/>
<path stroke="#5c48ec" d="M975.40 1865.7h19.76"/>
<path stroke="#503ce6" d="M1004.44 1865.7h97.20"/>
<path stroke="#fa6d72" d="M927.00 1865.7h0.40"/>
<path stroke="#e6caf5" d="M936.68 1871.8h0.40"/>
<path stroke="#d0d0fc" d="M946.36 1871.8h0.40"/>
<path stroke="#7074f4" d="M956.04 1871.8h0.40"/>
<path stroke="#6258ef" d="M965.72 1871.8h0.40"/>
<path stroke="#503ce6" d="M975.40 1871.8h19.76"/>
<path stroke="#4430e0" d="M1004.44 1871.8h97.20"/>
<path stroke="#fa6d72" d="M927.00 1871.8h0.40"/>
<path stroke="#e6caf5" d="M936.68 1878h0.40"/>
<path stroke="#a0a0fa" d="M946.36 1878h0.40"/>
<path stroke="#6258ef" d="M956.04 1878h0.40"/>
<path stroke="#4430e0" d="M965.72 1878h0.40"/>
<path stroke="#2a2ad8" d="M975.40 1878h10.08"/>
<path stroke="#2328d4" d="M994.76 1878h58.48"/>
<path stroke="#1c26d0" d="M1062.52 1878h39.12"/>
<path stroke="#fa6d72" d="M927.00 1878h0.40"/>
<path stroke="#e6caf5" d="M936.68 1884.1h0.40"/>
<path stroke="#8c90f8" d="M946.36 1884.1h0.40"/>
<path stroke="#5c48ec" d="M956.04 1884.1h0.40"/>
<path stroke="#372ddc" d="M965.72 1884.1h0.40"/>
<path stroke="#2a2ad8" d="M975.40 1884.1h0.40"/>
<path stroke="#2328d4" d="M985.08 1884.1h19.76"/>
<path stroke="#1c26d0" d="M1014.12 1884.1h87.52"/>
<path stroke="#fa6d72" d="M927.00 1884.1h0.40"/>
<path stroke="#e6caf5" d="M936.68 1890.2h0.40"/>
<path stroke="#8c90f8" d="M946.36 1890.2h0.40"/>
<path stroke="#5c48ec" d="M956.04 1890.2h0.40"/>
<path stroke="#372ddc" d="M965.72 1890.2h0.40"/>
<path stroke="#2a2ad8" d="M975.40 1890.2h0.40"/>
<path stroke="#2328d4" d="M985.08 1890.2h19.76"/>
<path stroke="#1c26d0" d="M1014.12 1890.2h87.52"/>
<path stroke="#fa6d72" d="M927.00 1890.2h0.40"/>
<path stroke="#e6caf5" d="M936.68 1896.3h0.40"/>
<path stroke="#8c90f8" d="M946.36 1896.3h0.40"/>
<path stroke="#5c48ec" d="M956.04 1896.3h0.40"/>
<path stroke="#372ddc" d="M965.72 1896.3h0.40"/>
<path stroke="#2a2ad8" d="M975.40 1896.3h0.40"/>
<path stroke="#2328d4" d="M985.08 1896.3h19.76"/>
<path stroke="#1c26d0" d="M1014.12 1896.3h87.52"/>
<path stroke="#fa6d72" d="M927.00 1896.3h0.40"/>
<path stroke="#e6caf5" d="M936.68 1901.2h0.40"/>
<path stroke="#8c90f8" d="M946.36 1901.2h0.40"/>
<path stroke="#5c48ec" d="M956.04 1901.2h0.40"/>
<path stroke="#372ddc" d="M965.72 1901.2h0.40"/>
<path stroke="#2a2ad8" d="M975.40 1901.2h0.40"/>
<path stroke="#2328d4" d="M985.08 1901.2h19.76"/>
<path stroke="#1c26d0" d="M1014.12 1901.2h87.52"/>
<path stroke="#fa6d72" d="M927.00 1901.2h0.40"/>
<path stroke="#e6caf5" d="M936.68 1907.3h0.40"/>
<path stroke="#a0a0fa" d="M946.36 1907.3h0.40"/>
<path stroke="#6258ef" d="M956.04 1907.3h0.40"/>
<path stroke="#4430e0" d="M965.72 1907.3h0.40"/>
<path stroke="#2a2ad8" d="M975.40 1907.3h10.08"/>
<path stroke="#2328d4" d="M994.76 1907.3h58.48"/>
<path stroke="#1c26d0" d="M1062.52 1907.3h39.12"/>
<path stroke="#fa6d72" d="M927.00 1907.3h0.40"/>
<path stroke="#e6caf5" d="M936.68 1912.2h0.40"/>
<path stroke="#a0a0fa" d="M946.36 1912.2h0.40"/>
<path stroke="#6258ef" d="M956.04 1912.2h0.40"/>
<path stroke="#4430e0" d="M965.72 1912.2h0.40"/>
<path stroke="#372ddc" d="M975.40 1912.2h0.40"/>
<path stroke="#2a2ad8" d="M985.08 1912.2h10.08"/>
<path stroke="#2328d4" d="M1004.44 1912.2h97.20"/>
<path stroke="#fa6d72" d="M927.00 1912.2h0.40"/>
<path stroke="#e6caf5" d="M936.68 1918.9h0.40"/>
<path stroke="#d0d0fc" d="M946.36 1918.9h0.40"/>
<path stroke="#a0a0fa" d="M956.04 1918.9h0.40"/>
<path stroke="#7074f4" d="M965.72 1918.9h0.40"/>
<path stroke="#6868f2" d="M975.40 1918.9h0.40"/>
<path stroke="#6258ef" d="M985.08 1918.9h19.76"/>
<path stroke="#5c48ec" d="M1014.12 1918.9h87.52"/>
<path stroke="#fa6d72" d="M927.00 1918.9h0.40"/>
<path stroke="#e6caf5" d="M936.68 1923.8h0.40"/>
<path stroke="#d0d0fc" d="M946.36 1923.8h0.40"/>
<path stroke="#7074f4" d="M956.04 1923.8h0.40"/>
<path stroke="#5c48ec" d="M965.72 1923.8h0.40"/>
<path stroke="#4430e0" d="M975.40 1923.8h0.40"/>
<path stroke="#372ddc" d="M985.08 1923.8h0.40"/>
<path stroke="#2a2ad8" d="M994.76 1923.8h19.76"/>
<path stroke="#2328d4" d="M1023.80 1923.8h77.84"/>
<path stroke="#fa6d72" d="M927.00 1923.8h0.40"/>
<path stroke="#e6caf5" d="M946.36 1929.9h0.40"/>
<path stroke="#6258ef" d="M956.04 1929.9h0.40"/>
<path stroke="#4430e0" d="M965.72 1929.9h0.40"/>
<path stroke="#372ddc" d="M975.40 1929.9h0.40"/>
<path stroke="#2a2ad8" d="M985.08 1929.9h10.08"/>
<path stroke="#2328d4" d="M1004.44 1929.9h97.20"/>
<path stroke="#fa6d72" d="M927.00 1929.9h10.08"/>
<path stroke="#e6caf5" d="M946.36 1935.4h0.40"/>
<path stroke="#a0a0fa" d="M956.04 1935.4h0.40"/>
<path stroke="#7074f4" d="M965.72 1935.4h0.40"/>
<path stroke="#6868f2" d="M975.40 1935.4h0.40"/>
<path stroke="#6258ef" d="M985.08 1935.4h19.76"/>
<path stroke="#5c48ec" d="M1014.12 1935.4h87.52"/>
<path stroke="#fa6d72" d="M927.00 1935.4h10.08"/>
<path stroke="#f4b4dc" d="M946.36 1940.3h0.40"/>
<path stroke="#dcd4fa" d="M956.04 1940.3h0.40"/>
<path stroke="#d0d0fc" d="M965.72 1940.3h0.40"/>
<path stroke="#8c90f8" d="M975.40 1940.3h0.40"/>
<path stroke="#7074f4" d="M985.08 1940.3h10.08"/>
<path stroke="#6868f2" d="M1004.44 1940.3h39.12"/>
<path stroke="#6258ef" d="M1052.84 1940.3h48.80"/>
<path stroke="#fa6d72" d="M927.00 1940.3h10.08"/>
<path stroke="#f4b4dc" d="M946.36 1946.4h0.40"/>
<path stroke="#dcd4fa" d="M956.04 1946.4h0.40"/>
<path stroke="#d0d0fc" d="M965.72 1946.4h0.40"/>
<path stroke="#8c90f8" d="M975.40 1946.4h0.40"/>
<path stroke="#7880f6" d="M985.08 1946.4h0.40"/>
<path stroke="#7074f4" d="M994.76 1946.4h10.08"/>
<path stroke="#6868f2" d="M1014.12 1946.4h87.52"/>
<path stroke="#fa6d72" d="M927.00 1946.4h10.08"/>
<path stroke="#f4b4dc" d="M946.36 1952.5h0.40"/>
<path stroke="#dcd4fa" d="M956.04 1952.5h0.40"/>
<path stroke="#d0d0fc" d="M965.72 1952.5h0.40"/>
<path stroke="#8c90f8" d="M975.40 1952.5h0.40"/>
<path stroke="#7880f6" d="M985.08 1952.5h0.40"/>
<path stroke="#7074f4" d="M994.76 1952.5h10.08"/>
<path stroke="#6868f2" d="M1014.12 1952.5h87.52"/>
<path stroke="#fa6d72" d="M927.00 1952.5h10.08"/>
<path stroke="#f4b4dc" d="M946.36 1959.8h0.40"/>
<path stroke="#e6caf5" d="M956.04 1959.8h0.40"/>
<path stroke="#dcd4fa" d="M965.72 1959.8h0.40"/>
<path stroke="#d0d0fc" d="M975.40 1959.8h0.40"/>
<path stroke="#8c90f8" d="M985.08 1959.8h0.40"/>
<path stroke="#7880f6" d="M994.76 1959.8h0.40"/>
<path stroke="#7074f4" d="M1004.44 1959.8h10.08"/>
<path stroke="#6868f2" d="M1023.80 1959.8h48.80"/>
<path stroke="#6258ef" d="M1081.88 1959.8h19.76"/>
<path stroke="#fa6d72" d="M927.00 1959.8h10.08"/>
<path stroke="#f4b4dc" d="M956.04 1965.9h0.40"/>
<path stroke="#dcd4fa" d="M965.72 1965.9h0.40"/>
<path stroke="#d0d0fc" d="M975.40 1965.9h0.40"/>
<path stroke="#8c90f8" d="M985.08 1965.9h0.40"/>
<path stroke="#7880f6" d="M994.76 1965.9h10.08"/>
<path stroke="#7074f4" d="M1014.12 1965.9h0.40"/>
<path stroke="#6868f2" d="M1023.80 1965.9h39.12"/>
<path stroke="#6258ef" d="M1072.20 1965.9h29.44"/>
<path stroke="#fa6d72" d="M927.00 1965.9h19.76"/>
<path stroke="#f4b4dc" d="M956.04 1972h0.40"/>
<path stroke="#dcd4fa" d="M965.72 1972h0.40"/>
<path stroke="#d0d0fc" d="M975.40 1972h0.40"/>
<path stroke="#8c90f8" d="M985.08 1972h0.40"/>
<path stroke="#7880f6" d="M994.76 1972h0.40"/>
<path stroke="#7074f4" d="M1004.44 1972h10.08"/>
<path stroke="#6868f2" d="M1023.80 1972h29.44"/>
<path stroke="#6258ef" d="M1062.52 1972h39.12"/>
<path stroke="#fa6d72" d="M927.00 1972h19.76"/>
<path stroke="#f4b4dc" d="M956.04 1978.1h0.40"/>
<path stroke="#d0d0fc" d="M965.72 1978.1h0.40"/>
<path stroke="#a0a0fa" d="M975.40 1978.1h0.40"/>
<path stroke="#7880f6" d="M985.08 1978.1h0.40"/>
<path stroke="#7074f4" d="M994.76 1978.1h10.08"/>
<path stroke="#6868f2" d="M1014.12 1978.1h10.08"/>
<path stroke="#6258ef" d="M1033.48 1978.1h68.16"/>
<path stroke="#fa6d72" d="M927.00 1978.1h19.76"/>
<path stroke="#f4b4dc" d="M956.04 1983.6h0.40"/>
<path stroke="#d0d0fc" d="M965.72 1983.6h0.40"/>
<path stroke="#a0a0fa" d="M975.40 1983.6h0.40"/>
<path stroke="#7880f6" d="M985.08 1983.6h0.40"/>
<path stroke="#7074f4" d="M994.76 1983.6h0.40"/>
<path stroke="#6868f2" d="M1004.44 1983.6h10.08"/>
<path stroke="#6258ef" d="M1023.80 1983.6h29.44"/>
<path stroke="#5c48ec" d="M1062.52 1983.6h39.12"/>
<path stroke="#fa6d72" d="M927.00 1983.6h19.76"/>
<path stroke="#f4b4dc" d="M965.72 1990.3h0.40"/>
<path stroke="#d0d0fc" d="M975.40 1990.3h0.40"/>
<path stroke="#8c90f8" d="M985.08 1990.3h0.40"/>
<path stroke="#7880f6" d="M994.76 1990.3h0.40"/>
<path stroke="#6868f2" d="M1004.44 1990.3h0.40"/>
<path stroke="#6258ef" d="M1014.12 1990.3h0.40"/>
<path stroke="#5c48ec" d="M1023.80 1990.3h0.40"/>
<path stroke="#503ce6" d="M1033.48 1990.3h10.08"/>
<path stroke="#4430e0" d="M1052.84 1990.3h10.08"/>
<path stroke="#372ddc" d="M1072.20 1990.3h29.44"/>
<path stroke="#fa6d72" d="M927.00 1990.3h29.44"/>
<path stroke="#f4b4dc" d="M965.72 1996.4h0.40"/>
<path stroke="#d0d0fc" d="M975.40 1996.4h0.40"/>
<path stroke="#8c90f8" d="M985.08 1996.4h0.40"/>
<path stroke="#7074f4" d="M994.76 1996.4h0.40"/>
<path stroke="#6868f2" d="M1004.44 1996.4h0.40"/>
<path stroke="#6258ef" d="M1014.12 1996.4h0.40"/>
<path stroke="#5c48ec" d="M1023.80 1996.4h0.40"/>
<path stroke="#503ce6" d="M1033.48 1996.4h0.40"/>
<path stroke="#4430e0" d="M1043.16 1996.4h10.08"/>
<path stroke="#372ddc" d="M1062.52 1996.4h29.44"/>
<path stroke="#2a2ad8" d="M1101.24 1996.4h0.40"/>
<path stroke="#fa6d72" d="M927.00 1996.4h29.44"/>
<path stroke="#f4b4dc" d="M965.72 2002.6h0.40"/>
<path stroke="#d0d0fc" d="M975.40 2002.6h0.40"/>
<path stroke="#8c90f8" d="M985.08 2002.6h0.40"/>
<path stroke="#7880f6" d="M994.76 2002.6h0.40"/>
<path stroke="#6868f2" d="M1004.44 2002.6h0.40"/>
<path stroke="#6258ef" d="M1014.12 2002.6h0.40"/>
<path stroke="#5c48ec" d="M1023.80 2002.6h0.40"/>
<path stroke="#503ce6" d="M1033.48 2002.6h10.08"/>
<path stroke="#4430e0" d="M1052.84 2002.6h10.08"/>
<path stroke="#372ddc" d="M1072.20 2002.6h29.44"/>
<path stroke="#fa6d72" d="M927.00 2002.6h29.44"/>
<path stroke="#f4b4dc" d="M965.72 2009.9h0.40"/>
<path stroke="#d0d0fc" d="M975.40 2009.9h0.40"/>
<path stroke="#a0a0fa" d="M985.08 2009.9h0.40"/>
<path stroke="#7880f6" d="M994.76 2009.9h0.40"/>
<path stroke="#7074f4" d="M1004.44 2009.9h0.40"/>
<path stroke="#6868f2" d="M1014.12 2009.9h10.08"/>
<path stroke="#6258ef" d="M1033.48 2009.9h10.08"/>
<path stroke="#5c48ec" d="M1052.84 2009.9h48.80"/>
<path stroke="#fa6d72" d="M927.00 2009.9h29.44"/>
<path stroke="#f4b4dc" d="M985.08 2024.5h0.40"/>
<path stroke="#e6caf5" d="M994.76 2024.5h0.40"/>
<path stroke="#dcd4fa" d="M1004.44 2024.5h0.40"/>
<path stroke="#d0d0fc" d="M1014.12 2024.5h0.40"/>
<path stroke="#8c90f8" d="M1023.80 2024.5h10.08"/>
<path stroke="#7880f6" d="M1043.16 2024.5h10.08"/>
<path stroke="#7074f4" d="M1062.52 2024.5h19.76"/>
<path stroke="#6868f2" d="M1091.56 2024.5h10.08"/>
<path stroke="#fa6d72" d="M927.00 2024.5h48.80"/>
</g>
<path stroke-width="17.2" stroke-linecap="round" fill="none" stroke="#fa6d72" d="M926.2 1787.6h1.6M926.2 1802.2h1.6M926.2 1815.7h1.6M926.2 1826h1.6M926.2 1846.2h1.6M926.2 1852.9h1.6M926.2 1859.6h1.6M926.2 1865.7h1.6M926.2 1871.8h1.6M926.2 1878h1.6M926.2 1884.1h1.6M926.2 1890.2h1.6M926.2 1896.3h1.6M926.2 1901.2h1.6M926.2 1907.3h1.6M926.2 1912.2h1.6M926.2 1918.9h1.6M926.2 1923.8h1.6M926.2 1929.9h1.6M926.2 1935.4h1.6M926.2 1940.3h1.6M926.2 1946.4h1.6M926.2 1952.5h1.6M926.2 1959.8h1.6M926.2 1965.9h1.6M926.2 1972h1.6M926.2 1978.1h1.6M926.2 1983.6h1.6M926.2 1990.3h1.6M926.2 1996.4h1.6M926.2 2002.6h1.6M926.2 2009.9h1.6M926.2 2024.5h1.6"/>
<rect x="144.3" y="56" width="364.5" height="52.3" fill="#cccccc" stroke="#000" stroke-width="3.0"/>
<text x="326.6" y="91.9" text-anchor="middle" font-weight="bold" font-size="28.2" textLength="34.5" lengthAdjust="spacingAndGlyphs" fill="#1a1a1a">D0</text>
<rect x="142.8" y="447" width="367.5" height="3.0" fill="#000"/>
<rect x="157.9" y="448.5" width="2.8" height="8.8" fill="#000"/>
<text x="159.3" y="486.5" text-anchor="middle" font-size="29" fill="#4d4d4d">0</text>
<rect x="253.6" y="448.5" width="2.8" height="8.8" fill="#000"/>
<text x="255" y="486.5" text-anchor="middle" font-size="29" fill="#4d4d4d">2</text>
<rect x="349.3" y="448.5" width="2.8" height="8.8" fill="#000"/>
<text x="350.7" y="486.5" text-anchor="middle" font-size="29" fill="#4d4d4d">4</text>
<rect x="445" y="448.5" width="2.8" height="8.8" fill="#000"/>
<text x="446.4" y="486.5" text-anchor="middle" font-size="29" fill="#4d4d4d">6</text>
<rect x="529.7" y="56" width="364.5" height="52.3" fill="#cccccc" stroke="#000" stroke-width="3.0"/>
<text x="712" y="91.9" text-anchor="middle" font-weight="bold" font-size="28.2" textLength="34.5" lengthAdjust="spacingAndGlyphs" fill="#1a1a1a">D1</text>
<rect x="528.2" y="447" width="367.5" height="3.0" fill="#000"/>
<rect x="543.3" y="448.5" width="2.8" height="8.8" fill="#000"/>
<text x="544.7" y="486.5" text-anchor="middle" font-size="29" fill="#4d4d4d">0</text>
<rect x="639" y="448.5" width="2.8" height="8.8" fill="#000"/>
<text x="640.4" y="486.5" text-anchor="middle" font-size="29" fill="#4d4d4d">2</text>
<rect x="734.7" y="448.5" width="2.8" height="8.8" fill="#000"/>
<text x="736.1" y="486.5" text-anchor="middle" font-size="29" fill="#4d4d4d">4</text>
<rect x="830.4" y="448.5" width="2.8" height="8.8" fill="#000"/>
<text x="831.8" y="486.5" text-anchor="middle" font-size="29" fill="#4d4d4d">6</text>
<rect x="915.2" y="56" width="364.5" height="52.3" fill="#cccccc" stroke="#000" stroke-width="3.0"/>
<text x="1097.5" y="91.9" text-anchor="middle" font-weight="bold" font-size="28.2" textLength="34.5" lengthAdjust="spacingAndGlyphs" fill="#1a1a1a">D2</text>
<rect x="913.7" y="447" width="367.5" height="3.0" fill="#000"/>
<rect x="928.8" y="448.5" width="2.8" height="8.8" fill="#000"/>
<text x="930.2" y="486.5" text-anchor="middle" font-size="29" fill="#4d4d4d">0</text>
<rect x="1024.5" y="448.5" width="2.8" height="8.8" fill="#000"/>
<text x="1025.9" y="486.5" text-anchor="middle" font-size="29" fill="#4d4d4d">2</text>
<rect x="1120.2" y="448.5" width="2.8" height="8.8" fill="#000"/>
<text x="1121.6" y="486.5" text-anchor="middle" font-size="29" fill="#4d4d4d">4</text>
<rect x="1215.9" y="448.5" width="2.8" height="8.8" fill="#000"/>
<text x="1217.3" y="486.5" text-anchor="middle" font-size="29" fill="#4d4d4d">6</text>
<rect x="141.7" y="108.3" width="3.0" height="341.7" fill="#000"/>
<rect x="134" y="431.6" width="9" height="2.8" fill="#000"/>
<text x="126.8" y="443.4" text-anchor="end" font-size="29" fill="#4d4d4d">0</text>
<rect x="134" y="343.9" width="9" height="2.8" fill="#000"/>
<text x="126.8" y="355.7" text-anchor="end" font-size="29" fill="#4d4d4d">250</text>
<rect x="134" y="256.2" width="9" height="2.8" fill="#000"/>
<text x="126.8" y="268" text-anchor="end" font-size="29" fill="#4d4d4d">500</text>
<rect x="134" y="168.5" width="9" height="2.8" fill="#000"/>
<text x="126.8" y="180.3" text-anchor="end" font-size="29" fill="#4d4d4d">750</text>
<text x="143.4" y="30" font-weight="bold" font-style="italic" font-size="28.2" textLength="58" lengthAdjust="spacingAndGlyphs" fill="#000">KFM</text>
<text transform="translate(31.3 277.6) rotate(-90)" text-anchor="middle" font-weight="bold" font-size="28.2" textLength="348" lengthAdjust="spacingAndGlyphs" fill="#000">Average Fish per Replicate</text>
<rect x="144.3" y="610.7" width="364.5" height="52.3" fill="#cccccc" stroke="#000" stroke-width="3.0"/>
<text x="326.6" y="646.6" text-anchor="middle" font-weight="bold" font-size="28.2" textLength="34.5" lengthAdjust="spacingAndGlyphs" fill="#1a1a1a">D0</text>
<rect x="142.8" y="1001.7" width="367.5" height="3.0" fill="#000"/>
<rect x="157.9" y="1003.2" width="2.8" height="8.8" fill="#000"/>
<text x="159.3" y="1041.2" text-anchor="middle" font-size="29" fill="#4d4d4d">0</text>
<rect x="253.6" y="1003.2" width="2.8" height="8.8" fill="#000"/>
<text x="255" y="1041.2" text-anchor="middle" font-size="29" fill="#4d4d4d">2</text>
<rect x="349.3" y="1003.2" width="2.8" height="8.8" fill="#000"/>
<text x="350.7" y="1041.2" text-anchor="middle" font-size="29" fill="#4d4d4d">4</text>
<rect x="445" y="1003.2" width="2.8" height="8.8" fill="#000"/>
<text x="446.4" y="1041.2" text-anchor="middle" font-size="29" fill="#4d4d4d">6</text>
<rect x="529.7" y="610.7" width="364.5" height="52.3" fill="#cccccc" stroke="#000" stroke-width="3.0"/>
<text x="712" y="646.6" text-anchor="middle" font-weight="bold" font-size="28.2" textLength="34.5" lengthAdjust="spacingAndGlyphs" fill="#1a1a1a">D1</text>
<rect x="528.2" y="1001.7" width="367.5" height="3.0" fill="#000"/>
<rect x="543.3" y="1003.2" width="2.8" height="8.8" fill="#000"/>
<text x="544.7" y="1041.2" text-anchor="middle" font-size="29" fill="#4d4d4d">0</text>
<rect x="639" y="1003.2" width="2.8" height="8.8" fill="#000"/>
<text x="640.4" y="1041.2" text-anchor="middle" font-size="29" fill="#4d4d4d">2</text>
<rect x="734.7" y="1003.2" width="2.8" height="8.8" fill="#000"/>
<text x="736.1" y="1041.2" text-anchor="middle" font-size="29" fill="#4d4d4d">4</text>
<rect x="830.4" y="1003.2" width="2.8" height="8.8" fill="#000"/>
<text x="831.8" y="1041.2" text-anchor="middle" font-size="29" fill="#4d4d4d">6</text>
<rect x="915.2" y="610.7" width="364.5" height="52.3" fill="#cccccc" stroke="#000" stroke-width="3.0"/>
<text x="1097.5" y="646.6" text-anchor="middle" font-weight="bold" font-size="28.2" textLength="34.5" lengthAdjust="spacingAndGlyphs" fill="#1a1a1a">D2</text>
<rect x="913.7" y="1001.7" width="367.5" height="3.0" fill="#000"/>
<rect x="928.8" y="1003.2" width="2.8" height="8.8" fill="#000"/>
<text x="930.2" y="1041.2" text-anchor="middle" font-size="29" fill="#4d4d4d">0</text>
<rect x="1024.5" y="1003.2" width="2.8" height="8.8" fill="#000"/>
<text x="1025.9" y="1041.2" text-anchor="middle" font-size="29" fill="#4d4d4d">2</text>
<rect x="1120.2" y="1003.2" width="2.8" height="8.8" fill="#000"/>
<text x="1121.6" y="1041.2" text-anchor="middle" font-size="29" fill="#4d4d4d">4</text>
<rect x="1215.9" y="1003.2" width="2.8" height="8.8" fill="#000"/>
<text x="1217.3" y="1041.2" text-anchor="middle" font-size="29" fill="#4d4d4d">6</text>
<rect x="141.7" y="663" width="3.0" height="341.7" fill="#000"/>
<rect x="134" y="986.9" width="9" height="2.8" fill="#000"/>
<text x="126.8" y="998.7" text-anchor="end" font-size="29" fill="#4d4d4d">0</text>
<rect x="134" y="896.9" width="9" height="2.8" fill="#000"/>
<text x="126.8" y="908.7" text-anchor="end" font-size="29" fill="#4d4d4d">100</text>
<rect x="134" y="807" width="9" height="2.8" fill="#000"/>
<text x="126.8" y="818.8" text-anchor="end" font-size="29" fill="#4d4d4d">200</text>
<rect x="134" y="717.1" width="9" height="2.8" fill="#000"/>
<text x="126.8" y="728.9" text-anchor="end" font-size="29" fill="#4d4d4d">300</text>
<text x="143.4" y="584.7" font-weight="bold" font-style="italic" font-size="28.2" textLength="98" lengthAdjust="spacingAndGlyphs" fill="#000">PISCO8</text>
<text transform="translate(31.3 832.4) rotate(-90)" text-anchor="middle" font-weight="bold" font-size="28.2" textLength="348" lengthAdjust="spacingAndGlyphs" fill="#000">Average Fish per Replicate</text>
<rect x="144.3" y="1165.4" width="364.5" height="52.3" fill="#cccccc" stroke="#000" stroke-width="3.0"/>
<text x="326.6" y="1201.3" text-anchor="middle" font-weight="bold" font-size="28.2" textLength="34.5" lengthAdjust="spacingAndGlyphs" fill="#1a1a1a">D0</text>
<rect x="142.8" y="1556.4" width="367.5" height="3.0" fill="#000"/>
<rect x="157.9" y="1557.9" width="2.8" height="8.8" fill="#000"/>
<text x="159.3" y="1595.9" text-anchor="middle" font-size="29" fill="#4d4d4d">0</text>
<rect x="253.6" y="1557.9" width="2.8" height="8.8" fill="#000"/>
<text x="255" y="1595.9" text-anchor="middle" font-size="29" fill="#4d4d4d">2</text>
<rect x="349.3" y="1557.9" width="2.8" height="8.8" fill="#000"/>
<text x="350.7" y="1595.9" text-anchor="middle" font-size="29" fill="#4d4d4d">4</text>
<rect x="445" y="1557.9" width="2.8" height="8.8" fill="#000"/>
<text x="446.4" y="1595.9" text-anchor="middle" font-size="29" fill="#4d4d4d">6</text>
<rect x="529.7" y="1165.4" width="364.5" height="52.3" fill="#cccccc" stroke="#000" stroke-width="3.0"/>
<text x="712" y="1201.3" text-anchor="middle" font-weight="bold" font-size="28.2" textLength="34.5" lengthAdjust="spacingAndGlyphs" fill="#1a1a1a">D1</text>
<rect x="528.2" y="1556.4" width="367.5" height="3.0" fill="#000"/>
<rect x="543.3" y="1557.9" width="2.8" height="8.8" fill="#000"/>
<text x="544.7" y="1595.9" text-anchor="middle" font-size="29" fill="#4d4d4d">0</text>
<rect x="639" y="1557.9" width="2.8" height="8.8" fill="#000"/>
<text x="640.4" y="1595.9" text-anchor="middle" font-size="29" fill="#4d4d4d">2</text>
<rect x="734.7" y="1557.9" width="2.8" height="8.8" fill="#000"/>
<text x="736.1" y="1595.9" text-anchor="middle" font-size="29" fill="#4d4d4d">4</text>
<rect x="830.4" y="1557.9" width="2.8" height="8.8" fill="#000"/>
<text x="831.8" y="1595.9" text-anchor="middle" font-size="29" fill="#4d4d4d">6</text>
<rect x="915.2" y="1165.4" width="364.5" height="52.3" fill="#cccccc" stroke="#000" stroke-width="3.0"/>
<text x="1097.5" y="1201.3" text-anchor="middle" font-weight="bold" font-size="28.2" textLength="34.5" lengthAdjust="spacingAndGlyphs" fill="#1a1a1a">D2</text>
<rect x="913.7" y="1556.4" width="367.5" height="3.0" fill="#000"/>
<rect x="928.8" y="1557.9" width="2.8" height="8.8" fill="#000"/>
<text x="930.2" y="1595.9" text-anchor="middle" font-size="29" fill="#4d4d4d">0</text>
<rect x="1024.5" y="1557.9" width="2.8" height="8.8" fill="#000"/>
<text x="1025.9" y="1595.9" text-anchor="middle" font-size="29" fill="#4d4d4d">2</text>
<rect x="1120.2" y="1557.9" width="2.8" height="8.8" fill="#000"/>
<text x="1121.6" y="1595.9" text-anchor="middle" font-size="29" fill="#4d4d4d">4</text>
<rect x="1215.9" y="1557.9" width="2.8" height="8.8" fill="#000"/>
<text x="1217.3" y="1595.9" text-anchor="middle" font-size="29" fill="#4d4d4d">6</text>
<rect x="141.7" y="1217.7" width="3.0" height="341.7" fill="#000"/>
<rect x="134" y="1541.3" width="9" height="2.8" fill="#000"/>
<text x="126.8" y="1553.1" text-anchor="end" font-size="29" fill="#4d4d4d">0</text>
<rect x="134" y="1435" width="9" height="2.8" fill="#000"/>
<text x="126.8" y="1446.8" text-anchor="end" font-size="29" fill="#4d4d4d">100</text>
<rect x="134" y="1328.7" width="9" height="2.8" fill="#000"/>
<text x="126.8" y="1340.5" text-anchor="end" font-size="29" fill="#4d4d4d">200</text>
<rect x="134" y="1222.4" width="9" height="2.8" fill="#000"/>
<text x="126.8" y="1234.2" text-anchor="end" font-size="29" fill="#4d4d4d">300</text>
<text x="143.4" y="1139.4" font-weight="bold" font-style="italic" font-size="28.2" textLength="114" lengthAdjust="spacingAndGlyphs" fill="#000">PISCO24</text>
<text transform="translate(31.3 1387.1) rotate(-90)" text-anchor="middle" font-weight="bold" font-size="28.2" textLength="348" lengthAdjust="spacingAndGlyphs" fill="#000">Average Fish per Replicate</text>
<rect x="128.1" y="1720.1" width="370" height="52.3" fill="#cccccc" stroke="#000" stroke-width="3.0"/>
<text x="313.1" y="1756" text-anchor="middle" font-weight="bold" font-size="28.2" textLength="34.5" lengthAdjust="spacingAndGlyphs" fill="#1a1a1a">D0</text>
<rect x="126.6" y="2079.7" width="373" height="3.0" fill="#000"/>
<rect x="141.8" y="2081.2" width="2.8" height="8.8" fill="#000"/>
<text x="143.2" y="2119.2" text-anchor="middle" font-size="29" fill="#4d4d4d">0</text>
<rect x="238.7" y="2081.2" width="2.8" height="8.8" fill="#000"/>
<text x="240.1" y="2119.2" text-anchor="middle" font-size="29" fill="#4d4d4d">2</text>
<rect x="335.6" y="2081.2" width="2.8" height="8.8" fill="#000"/>
<text x="337" y="2119.2" text-anchor="middle" font-size="29" fill="#4d4d4d">4</text>
<rect x="432.5" y="2081.2" width="2.8" height="8.8" fill="#000"/>
<text x="433.9" y="2119.2" text-anchor="middle" font-size="29" fill="#4d4d4d">6</text>
<rect x="519" y="1720.1" width="370" height="52.3" fill="#cccccc" stroke="#000" stroke-width="3.0"/>
<text x="704" y="1756" text-anchor="middle" font-weight="bold" font-size="28.2" textLength="34.5" lengthAdjust="spacingAndGlyphs" fill="#1a1a1a">D1</text>
<rect x="517.5" y="2079.7" width="373" height="3.0" fill="#000"/>
<rect x="532.7" y="2081.2" width="2.8" height="8.8" fill="#000"/>
<text x="534.1" y="2119.2" text-anchor="middle" font-size="29" fill="#4d4d4d">0</text>
<rect x="629.6" y="2081.2" width="2.8" height="8.8" fill="#000"/>
<text x="631" y="2119.2" text-anchor="middle" font-size="29" fill="#4d4d4d">2</text>
<rect x="726.5" y="2081.2" width="2.8" height="8.8" fill="#000"/>
<text x="727.9" y="2119.2" text-anchor="middle" font-size="29" fill="#4d4d4d">4</text>
<rect x="823.4" y="2081.2" width="2.8" height="8.8" fill="#000"/>
<text x="824.8" y="2119.2" text-anchor="middle" font-size="29" fill="#4d4d4d">6</text>
<rect x="909.8" y="1720.1" width="370" height="52.3" fill="#cccccc" stroke="#000" stroke-width="3.0"/>
<text x="1094.8" y="1756" text-anchor="middle" font-weight="bold" font-size="28.2" textLength="34.5" lengthAdjust="spacingAndGlyphs" fill="#1a1a1a">D2</text>
<rect x="908.3" y="2079.7" width="373" height="3.0" fill="#000"/>
<rect x="923.5" y="2081.2" width="2.8" height="8.8" fill="#000"/>
<text x="924.9" y="2119.2" text-anchor="middle" font-size="29" fill="#4d4d4d">0</text>
<rect x="1020.4" y="2081.2" width="2.8" height="8.8" fill="#000"/>
<text x="1021.8" y="2119.2" text-anchor="middle" font-size="29" fill="#4d4d4d">2</text>
<rect x="1117.3" y="2081.2" width="2.8" height="8.8" fill="#000"/>
<text x="1118.7" y="2119.2" text-anchor="middle" font-size="29" fill="#4d4d4d">4</text>
<rect x="1214.2" y="2081.2" width="2.8" height="8.8" fill="#000"/>
<text x="1215.6" y="2119.2" text-anchor="middle" font-size="29" fill="#4d4d4d">6</text>
<rect x="125.5" y="1772.4" width="3.0" height="310.3" fill="#000"/>
<rect x="117.8" y="2065.9" width="9" height="2.8" fill="#000"/>
<text x="110.6" y="2077.7" text-anchor="end" font-size="29" fill="#4d4d4d">0</text>
<rect x="117.8" y="2004.8" width="9" height="2.8" fill="#000"/>
<text x="110.6" y="2016.6" text-anchor="end" font-size="29" fill="#4d4d4d">10</text>
<rect x="117.8" y="1943.7" width="9" height="2.8" fill="#000"/>
<text x="110.6" y="1955.5" text-anchor="end" font-size="29" fill="#4d4d4d">20</text>
<rect x="117.8" y="1882.7" width="9" height="2.8" fill="#000"/>
<text x="110.6" y="1894.5" text-anchor="end" font-size="29" fill="#4d4d4d">30</text>
<rect x="117.8" y="1821.6" width="9" height="2.8" fill="#000"/>
<text x="110.6" y="1833.4" text-anchor="end" font-size="29" fill="#4d4d4d">40</text>
<text x="127.2" y="1694.1" font-weight="bold" font-style="italic" font-size="28.2" textLength="157" lengthAdjust="spacingAndGlyphs" fill="#000">REEFCHECK</text>
<text transform="translate(31.3 1926) rotate(-90)" text-anchor="middle" font-weight="bold" font-size="28.2" textLength="348" lengthAdjust="spacingAndGlyphs" fill="#000">Average Fish per Replicate</text>
<defs><linearGradient id="lg" x1="0" y1="1" x2="0" y2="0">
<stop offset="0.0000" stop-color="#1c22c8"/>
<stop offset="0.0476" stop-color="#1c26d0"/>
<stop offset="0.0952" stop-color="#2a2ad8"/>
<stop offset="0.1429" stop-color="#4430e0"/>
<stop offset="0.1905" stop-color="#5c48ec"/>
<stop offset="0.2381" stop-color="#6868f2"/>
<stop offset="0.2857" stop-color="#7880f6"/>
<stop offset="0.3333" stop-color="#a0a0fa"/>
<stop offset="0.3810" stop-color="#c4c0fc"/>
<stop offset="0.4286" stop-color="#d0d0fc"/>
<stop offset="0.4762" stop-color="#dcd4fa"/>
<stop offset="0.5238" stop-color="#f0c0f0"/>
<stop offset="0.5714" stop-color="#f8a8c8"/>
<stop offset="0.6190" stop-color="#f88890"/>
<stop offset="0.7143" stop-color="#fa6468"/>
<stop offset="0.8333" stop-color="#f84c48"/>
<stop offset="0.9524" stop-color="#ea3028"/>
<stop offset="1.0000" stop-color="#e42018"/>
</linearGradient></defs>
<rect x="1428.8" y="981.6" width="56.2" height="279.4" fill="url(#lg)"/>
<rect x="1428.8" y="1260.2" width="56.2" height="1.6" fill="#4a30c8"/>
<text x="1500" y="1270.9" font-weight="bold" font-size="27.8" textLength="42" lengthAdjust="spacingAndGlyphs" fill="#000">0.0</text>
<rect x="1428.8" y="1193.5" width="11" height="1.8" fill="#fff" fill-opacity=".85"/>
<rect x="1474" y="1193.5" width="11" height="1.8" fill="#fff" fill-opacity=".85"/>
<text x="1500" y="1204.3" font-weight="bold" font-size="27.8" textLength="42" lengthAdjust="spacingAndGlyphs" fill="#000">0.5</text>
<rect x="1428.8" y="1126.9" width="11" height="1.8" fill="#fff" fill-opacity=".85"/>
<rect x="1474" y="1126.9" width="11" height="1.8" fill="#fff" fill-opacity=".85"/>
<text x="1500" y="1137.8" font-weight="bold" font-size="27.8" textLength="42" lengthAdjust="spacingAndGlyphs" fill="#000">1.0</text>
<rect x="1428.8" y="1060.4" width="11" height="1.8" fill="#fff" fill-opacity=".85"/>
<rect x="1474" y="1060.4" width="11" height="1.8" fill="#fff" fill-opacity=".85"/>
<text x="1500" y="1071.2" font-weight="bold" font-size="27.8" textLength="42" lengthAdjust="spacingAndGlyphs" fill="#000">1.5</text>
<rect x="1428.8" y="993.8" width="11" height="1.8" fill="#fff" fill-opacity=".85"/>
<rect x="1474" y="993.8" width="11" height="1.8" fill="#fff" fill-opacity=".85"/>
<text x="1500" y="1004.6" font-weight="bold" font-size="27.8" textLength="42" lengthAdjust="spacingAndGlyphs" fill="#000">2.0</text>
<text x="1429" y="963.2" font-weight="bold" font-size="27.8" textLength="218" lengthAdjust="spacingAndGlyphs" fill="#000">Range CI / mean</text>
<text x="704" y="2185.6" text-anchor="middle" font-weight="bold" font-size="28.2" textLength="153.5" lengthAdjust="spacingAndGlyphs" fill="#000">Diver Hours</text>
</svg></body></html>
